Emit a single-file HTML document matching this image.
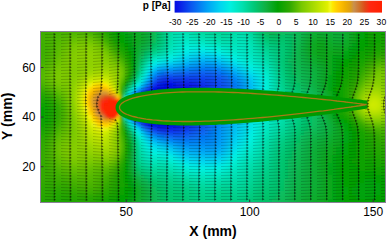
<!DOCTYPE html>
<html><head><meta charset="utf-8"><style>
html,body{margin:0;padding:0;background:#fff;width:387px;height:240px;overflow:hidden}
svg{display:block}
#f rect{height:4px}
text{font-family:"Liberation Sans",sans-serif}
</style></head><body>
<svg width="387" height="240" viewBox="0 0 387 240">
<defs>
<filter id="bl" x="0" y="0" width="1" height="1"><feGaussianBlur stdDeviation="1.6"/></filter>
<filter id="b2" x="-0.5" y="-0.5" width="2" height="2"><feGaussianBlur stdDeviation="0.9"/></filter>
<clipPath id="cp"><rect x="41" y="32" width="344" height="170"/></clipPath>
<linearGradient id="cb" x1="0" x2="1" y1="0" y2="0"><stop offset="0.000" stop-color="#0010e0"/><stop offset="0.016" stop-color="#0a14e6"/><stop offset="0.084" stop-color="#0a5af0"/><stop offset="0.156" stop-color="#00a0f5"/><stop offset="0.219" stop-color="#00d4f0"/><stop offset="0.268" stop-color="#00f0e0"/><stop offset="0.326" stop-color="#00e0b0"/><stop offset="0.383" stop-color="#00c878"/><stop offset="0.441" stop-color="#10b040"/><stop offset="0.498" stop-color="#00a000"/><stop offset="0.556" stop-color="#30a800"/><stop offset="0.613" stop-color="#78c800"/><stop offset="0.661" stop-color="#a0d800"/><stop offset="0.709" stop-color="#c8e800"/><stop offset="0.737" stop-color="#e0f000"/><stop offset="0.750" stop-color="#f4f820"/><stop offset="0.762" stop-color="#ffe800"/><stop offset="0.781" stop-color="#ffd000"/><stop offset="0.798" stop-color="#ffc000"/><stop offset="0.821" stop-color="#f0b000"/><stop offset="0.845" stop-color="#e0a010"/><stop offset="0.865" stop-color="#c89050"/><stop offset="0.893" stop-color="#d07028"/><stop offset="0.918" stop-color="#e04818"/><stop offset="0.942" stop-color="#ff2810"/><stop offset="1.000" stop-color="#ff2000"/></linearGradient>
</defs>
<g clip-path="url(#cp)">
<g id="f" filter="url(#bl)" shape-rendering="crispEdges"><rect x="36" y="27" width="4" fill="#37ab00"/><rect x="40" y="27" width="4" fill="#39ac00"/><rect x="44" y="27" width="4" fill="#3aac00"/><rect x="48" y="27" width="4" fill="#3bad00"/><rect x="52" y="27" width="4" fill="#3cad00"/><rect x="56" y="27" width="4" fill="#3dae00"/><rect x="60" y="27" width="4" fill="#3eae00"/><rect x="64" y="27" width="4" fill="#3faf00"/><rect x="68" y="27" width="12" fill="#40af00"/><rect x="80" y="27" width="4" fill="#3fae00"/><rect x="84" y="27" width="4" fill="#3cad00"/><rect x="88" y="27" width="4" fill="#38ab00"/><rect x="92" y="27" width="4" fill="#31a800"/><rect x="96" y="27" width="4" fill="#2aa700"/><rect x="100" y="27" width="4" fill="#22a600"/><rect x="104" y="27" width="4" fill="#18a400"/><rect x="108" y="27" width="4" fill="#0da200"/><rect x="112" y="27" width="4" fill="#02a000"/><rect x="116" y="27" width="4" fill="#02a20a"/><rect x="120" y="27" width="4" fill="#05a514"/><rect x="124" y="27" width="4" fill="#07a71c"/><rect x="128" y="27" width="4" fill="#08a821"/><rect x="132" y="27" width="4" fill="#09a925"/><rect x="136" y="27" width="4" fill="#0aaa29"/><rect x="140" y="27" width="4" fill="#0bab2e"/><rect x="144" y="27" width="4" fill="#0eae37"/><rect x="148" y="27" width="4" fill="#0fb143"/><rect x="152" y="27" width="4" fill="#0bb852"/><rect x="156" y="27" width="4" fill="#06bf64"/><rect x="160" y="27" width="4" fill="#00c777"/><rect x="164" y="27" width="4" fill="#00cf89"/><rect x="168" y="27" width="4" fill="#00d699"/><rect x="172" y="27" width="4" fill="#00dba4"/><rect x="176" y="27" width="4" fill="#00deaa"/><rect x="180" y="27" width="4" fill="#00deac"/><rect x="184" y="27" width="4" fill="#00dda9"/><rect x="188" y="27" width="4" fill="#00dba4"/><rect x="192" y="27" width="4" fill="#00d99f"/><rect x="196" y="27" width="4" fill="#00d69a"/><rect x="200" y="27" width="4" fill="#00d596"/><rect x="204" y="27" width="4" fill="#00d493"/><rect x="208" y="27" width="4" fill="#00d391"/><rect x="212" y="27" width="4" fill="#00d290"/><rect x="216" y="27" width="4" fill="#00d28f"/><rect x="220" y="27" width="4" fill="#00d391"/><rect x="224" y="27" width="4" fill="#00d494"/><rect x="228" y="27" width="4" fill="#00d699"/><rect x="232" y="27" width="4" fill="#00d89e"/><rect x="236" y="27" width="4" fill="#00daa3"/><rect x="240" y="27" width="4" fill="#00dba4"/><rect x="244" y="27" width="4" fill="#00d99f"/><rect x="248" y="27" width="4" fill="#00d495"/><rect x="252" y="27" width="4" fill="#00ce85"/><rect x="256" y="27" width="4" fill="#01c674"/><rect x="260" y="27" width="4" fill="#06bf64"/><rect x="264" y="27" width="4" fill="#09ba58"/><rect x="268" y="27" width="4" fill="#0bb852"/><rect x="272" y="27" width="4" fill="#0bb751"/><rect x="276" y="27" width="4" fill="#0ab954"/><rect x="280" y="27" width="4" fill="#09bb59"/><rect x="284" y="27" width="8" fill="#08bc5c"/><rect x="292" y="27" width="4" fill="#09bb59"/><rect x="296" y="27" width="4" fill="#0ab954"/><rect x="300" y="27" width="4" fill="#0cb54d"/><rect x="304" y="27" width="4" fill="#0fb245"/><rect x="308" y="27" width="4" fill="#10b03e"/><rect x="312" y="27" width="4" fill="#0eae38"/><rect x="316" y="27" width="4" fill="#0dad35"/><rect x="320" y="27" width="4" fill="#0dad34"/><rect x="324" y="27" width="4" fill="#0dad35"/><rect x="328" y="27" width="4" fill="#0eae36"/><rect x="332" y="27" width="4" fill="#0eae37"/><rect x="336" y="27" width="4" fill="#0eae36"/><rect x="340" y="27" width="4" fill="#0dad33"/><rect x="344" y="27" width="4" fill="#0bab2c"/><rect x="348" y="27" width="4" fill="#09a924"/><rect x="352" y="27" width="4" fill="#06a619"/><rect x="356" y="27" width="4" fill="#04a40f"/><rect x="360" y="27" width="4" fill="#01a105"/><rect x="364" y="27" width="4" fill="#02a000"/><rect x="368" y="27" width="4" fill="#07a100"/><rect x="372" y="27" width="4" fill="#0ba200"/><rect x="376" y="27" width="4" fill="#0ea200"/><rect x="380" y="27" width="4" fill="#11a300"/><rect x="384" y="27" width="4" fill="#13a300"/><rect x="388" y="27" width="4" fill="#14a300"/><rect x="36" y="31" width="4" fill="#3aad00"/><rect x="40" y="31" width="4" fill="#3cae00"/><rect x="44" y="31" width="4" fill="#3eae00"/><rect x="48" y="31" width="4" fill="#40af00"/><rect x="52" y="31" width="4" fill="#43b000"/><rect x="56" y="31" width="4" fill="#45b100"/><rect x="60" y="31" width="4" fill="#47b200"/><rect x="64" y="31" width="4" fill="#4ab300"/><rect x="68" y="31" width="4" fill="#4cb400"/><rect x="72" y="31" width="4" fill="#4db500"/><rect x="76" y="31" width="8" fill="#4fb600"/><rect x="84" y="31" width="4" fill="#4db500"/><rect x="88" y="31" width="4" fill="#49b300"/><rect x="92" y="31" width="4" fill="#43b000"/><rect x="96" y="31" width="4" fill="#39ac00"/><rect x="100" y="31" width="4" fill="#2da700"/><rect x="104" y="31" width="4" fill="#22a600"/><rect x="108" y="31" width="4" fill="#16a400"/><rect x="112" y="31" width="4" fill="#0aa200"/><rect x="116" y="31" width="4" fill="#00a002"/><rect x="120" y="31" width="4" fill="#03a30e"/><rect x="124" y="31" width="4" fill="#06a617"/><rect x="128" y="31" width="4" fill="#07a71d"/><rect x="132" y="31" width="4" fill="#08a821"/><rect x="136" y="31" width="4" fill="#09a925"/><rect x="140" y="31" width="4" fill="#0bab2b"/><rect x="144" y="31" width="4" fill="#0dad34"/><rect x="148" y="31" width="4" fill="#10b141"/><rect x="152" y="31" width="4" fill="#0bb751"/><rect x="156" y="31" width="4" fill="#06c065"/><rect x="160" y="31" width="4" fill="#00c979"/><rect x="164" y="31" width="4" fill="#00d18e"/><rect x="168" y="31" width="4" fill="#00d99f"/><rect x="172" y="31" width="4" fill="#00deac"/><rect x="176" y="31" width="4" fill="#00e1b3"/><rect x="180" y="31" width="4" fill="#00e2b5"/><rect x="184" y="31" width="4" fill="#00e1b3"/><rect x="188" y="31" width="4" fill="#00e0af"/><rect x="192" y="31" width="4" fill="#00dda9"/><rect x="196" y="31" width="4" fill="#00dba4"/><rect x="200" y="31" width="4" fill="#00d9a0"/><rect x="204" y="31" width="4" fill="#00d89d"/><rect x="208" y="31" width="4" fill="#00d79a"/><rect x="212" y="31" width="4" fill="#00d698"/><rect x="216" y="31" width="8" fill="#00d597"/><rect x="224" y="31" width="4" fill="#00d79a"/><rect x="228" y="31" width="4" fill="#00d99f"/><rect x="232" y="31" width="4" fill="#00dca6"/><rect x="236" y="31" width="4" fill="#00deab"/><rect x="240" y="31" width="4" fill="#00dfad"/><rect x="244" y="31" width="4" fill="#00ddaa"/><rect x="248" y="31" width="4" fill="#00d99f"/><rect x="252" y="31" width="4" fill="#00d290"/><rect x="256" y="31" width="4" fill="#00ca7e"/><rect x="260" y="31" width="4" fill="#03c36d"/><rect x="264" y="31" width="4" fill="#07be60"/><rect x="268" y="31" width="4" fill="#09bb59"/><rect x="272" y="31" width="4" fill="#09ba58"/><rect x="276" y="31" width="4" fill="#08bc5b"/><rect x="280" y="31" width="4" fill="#07bd5f"/><rect x="284" y="31" width="4" fill="#07be61"/><rect x="288" y="31" width="4" fill="#07be60"/><rect x="292" y="31" width="4" fill="#08bc5b"/><rect x="296" y="31" width="4" fill="#0ab954"/><rect x="300" y="31" width="4" fill="#0db54b"/><rect x="304" y="31" width="4" fill="#0fb142"/><rect x="308" y="31" width="4" fill="#0eae3a"/><rect x="312" y="31" width="4" fill="#0dad33"/><rect x="316" y="31" width="8" fill="#0cac30"/><rect x="324" y="31" width="4" fill="#0dad32"/><rect x="328" y="31" width="4" fill="#0dad35"/><rect x="332" y="31" width="8" fill="#0eae38"/><rect x="340" y="31" width="4" fill="#0dad35"/><rect x="344" y="31" width="4" fill="#0cac2f"/><rect x="348" y="31" width="4" fill="#0aaa26"/><rect x="352" y="31" width="4" fill="#07a71c"/><rect x="356" y="31" width="4" fill="#04a411"/><rect x="360" y="31" width="4" fill="#02a207"/><rect x="364" y="31" width="4" fill="#01a000"/><rect x="368" y="31" width="4" fill="#07a100"/><rect x="372" y="31" width="4" fill="#0ba200"/><rect x="376" y="31" width="4" fill="#0ea200"/><rect x="380" y="31" width="4" fill="#11a300"/><rect x="384" y="31" width="8" fill="#14a300"/><rect x="36" y="35" width="4" fill="#3cad00"/><rect x="40" y="35" width="4" fill="#3fae00"/><rect x="44" y="35" width="4" fill="#41b000"/><rect x="48" y="35" width="4" fill="#44b100"/><rect x="52" y="35" width="4" fill="#48b300"/><rect x="56" y="35" width="4" fill="#4cb400"/><rect x="60" y="35" width="4" fill="#50b600"/><rect x="64" y="35" width="4" fill="#54b800"/><rect x="68" y="35" width="4" fill="#58ba00"/><rect x="72" y="35" width="4" fill="#5bbb00"/><rect x="76" y="35" width="4" fill="#5ebd00"/><rect x="80" y="35" width="4" fill="#60bd00"/><rect x="84" y="35" width="4" fill="#5fbd00"/><rect x="88" y="35" width="4" fill="#5dbc00"/><rect x="92" y="35" width="4" fill="#56b900"/><rect x="96" y="35" width="4" fill="#4cb400"/><rect x="100" y="35" width="4" fill="#3eae00"/><rect x="104" y="35" width="4" fill="#2ea800"/><rect x="108" y="35" width="4" fill="#21a500"/><rect x="112" y="35" width="4" fill="#13a300"/><rect x="116" y="35" width="4" fill="#07a100"/><rect x="120" y="35" width="4" fill="#01a106"/><rect x="124" y="35" width="4" fill="#04a410"/><rect x="128" y="35" width="4" fill="#06a618"/><rect x="132" y="35" width="4" fill="#08a81e"/><rect x="136" y="35" width="4" fill="#09a923"/><rect x="140" y="35" width="4" fill="#0bab2a"/><rect x="144" y="35" width="4" fill="#0dad34"/><rect x="148" y="35" width="4" fill="#0fb142"/><rect x="152" y="35" width="4" fill="#0bb853"/><rect x="156" y="35" width="4" fill="#05c167"/><rect x="160" y="35" width="4" fill="#00ca7c"/><rect x="164" y="35" width="4" fill="#00d391"/><rect x="168" y="35" width="4" fill="#00dba4"/><rect x="172" y="35" width="4" fill="#00e1b2"/><rect x="176" y="35" width="4" fill="#00e3ba"/><rect x="180" y="35" width="8" fill="#00e4bd"/><rect x="188" y="35" width="4" fill="#00e3ba"/><rect x="192" y="35" width="4" fill="#00e2b6"/><rect x="196" y="35" width="4" fill="#00e1b2"/><rect x="200" y="35" width="4" fill="#00dfae"/><rect x="204" y="35" width="4" fill="#00ddaa"/><rect x="208" y="35" width="4" fill="#00dca7"/><rect x="212" y="35" width="4" fill="#00dba3"/><rect x="216" y="35" width="4" fill="#00daa1"/><rect x="220" y="35" width="4" fill="#00d9a0"/><rect x="224" y="35" width="4" fill="#00daa2"/><rect x="228" y="35" width="4" fill="#00dca7"/><rect x="232" y="35" width="4" fill="#00dfad"/><rect x="236" y="35" width="4" fill="#00e1b3"/><rect x="240" y="35" width="4" fill="#00e2b5"/><rect x="244" y="35" width="4" fill="#00e1b3"/><rect x="248" y="35" width="4" fill="#00ddaa"/><rect x="252" y="35" width="4" fill="#00d79b"/><rect x="256" y="35" width="4" fill="#00cf89"/><rect x="260" y="35" width="4" fill="#00c878"/><rect x="264" y="35" width="4" fill="#04c36c"/><rect x="268" y="35" width="4" fill="#06c064"/><rect x="272" y="35" width="4" fill="#06bf62"/><rect x="276" y="35" width="4" fill="#06bf64"/><rect x="280" y="35" width="8" fill="#05c066"/><rect x="288" y="35" width="4" fill="#06bf63"/><rect x="292" y="35" width="4" fill="#08bc5d"/><rect x="296" y="35" width="4" fill="#0ab853"/><rect x="300" y="35" width="4" fill="#0eb449"/><rect x="304" y="35" width="4" fill="#0faf3e"/><rect x="308" y="35" width="4" fill="#0dad34"/><rect x="312" y="35" width="4" fill="#0bab2d"/><rect x="316" y="35" width="4" fill="#0aaa2a"/><rect x="320" y="35" width="4" fill="#0bab2a"/><rect x="324" y="35" width="4" fill="#0bab2d"/><rect x="328" y="35" width="4" fill="#0cac32"/><rect x="332" y="35" width="4" fill="#0dad35"/><rect x="336" y="35" width="4" fill="#0eae37"/><rect x="340" y="35" width="4" fill="#0dad35"/><rect x="344" y="35" width="4" fill="#0cac2f"/><rect x="348" y="35" width="4" fill="#0aaa27"/><rect x="352" y="35" width="4" fill="#07a71c"/><rect x="356" y="35" width="4" fill="#04a411"/><rect x="360" y="35" width="4" fill="#02a207"/><rect x="364" y="35" width="4" fill="#01a000"/><rect x="368" y="35" width="4" fill="#07a100"/><rect x="372" y="35" width="4" fill="#0ba200"/><rect x="376" y="35" width="4" fill="#0fa200"/><rect x="380" y="35" width="4" fill="#12a300"/><rect x="384" y="35" width="4" fill="#15a300"/><rect x="388" y="35" width="4" fill="#15a400"/><rect x="36" y="39" width="4" fill="#3dae00"/><rect x="40" y="39" width="4" fill="#3faf00"/><rect x="44" y="39" width="4" fill="#42b000"/><rect x="48" y="39" width="4" fill="#46b200"/><rect x="52" y="39" width="4" fill="#4bb400"/><rect x="56" y="39" width="4" fill="#51b700"/><rect x="60" y="39" width="4" fill="#57b900"/><rect x="64" y="39" width="4" fill="#5dbc00"/><rect x="68" y="39" width="4" fill="#63bf00"/><rect x="72" y="39" width="4" fill="#69c100"/><rect x="76" y="39" width="4" fill="#6dc300"/><rect x="80" y="39" width="8" fill="#71c500"/><rect x="88" y="39" width="4" fill="#70c400"/><rect x="92" y="39" width="4" fill="#6ac200"/><rect x="96" y="39" width="4" fill="#60bd00"/><rect x="100" y="39" width="4" fill="#52b700"/><rect x="104" y="39" width="4" fill="#40af00"/><rect x="108" y="39" width="4" fill="#2da700"/><rect x="112" y="39" width="4" fill="#1ea500"/><rect x="116" y="39" width="4" fill="#10a300"/><rect x="120" y="39" width="4" fill="#04a100"/><rect x="124" y="39" width="4" fill="#02a209"/><rect x="128" y="39" width="4" fill="#05a513"/><rect x="132" y="39" width="4" fill="#07a71c"/><rect x="136" y="39" width="4" fill="#09a924"/><rect x="140" y="39" width="4" fill="#0bab2d"/><rect x="144" y="39" width="4" fill="#0eae39"/><rect x="148" y="39" width="4" fill="#0eb347"/><rect x="152" y="39" width="4" fill="#09ba58"/><rect x="156" y="39" width="4" fill="#04c26b"/><rect x="160" y="39" width="4" fill="#00cc80"/><rect x="164" y="39" width="4" fill="#00d595"/><rect x="168" y="39" width="4" fill="#00dda9"/><rect x="172" y="39" width="4" fill="#00e2b7"/><rect x="176" y="39" width="4" fill="#00e5c0"/><rect x="180" y="39" width="4" fill="#00e7c5"/><rect x="184" y="39" width="4" fill="#00e7c6"/><rect x="188" y="39" width="4" fill="#00e7c5"/><rect x="192" y="39" width="4" fill="#00e6c3"/><rect x="196" y="39" width="4" fill="#00e5c0"/><rect x="200" y="39" width="4" fill="#00e4bd"/><rect x="204" y="39" width="4" fill="#00e3ba"/><rect x="208" y="39" width="4" fill="#00e2b7"/><rect x="212" y="39" width="4" fill="#00e1b3"/><rect x="216" y="39" width="4" fill="#00e0af"/><rect x="220" y="39" width="8" fill="#00dfad"/><rect x="228" y="39" width="4" fill="#00e0b0"/><rect x="232" y="39" width="4" fill="#00e1b4"/><rect x="236" y="39" width="4" fill="#00e3b8"/><rect x="240" y="39" width="4" fill="#00e4bb"/><rect x="244" y="39" width="4" fill="#00e3b9"/><rect x="248" y="39" width="4" fill="#00e1b2"/><rect x="252" y="39" width="4" fill="#00dba5"/><rect x="256" y="39" width="4" fill="#00d495"/><rect x="260" y="39" width="4" fill="#00ce85"/><rect x="264" y="39" width="4" fill="#00c879"/><rect x="268" y="39" width="4" fill="#02c571"/><rect x="272" y="39" width="4" fill="#03c46e"/><rect x="276" y="39" width="8" fill="#03c36d"/><rect x="284" y="39" width="4" fill="#04c26b"/><rect x="288" y="39" width="4" fill="#05c065"/><rect x="292" y="39" width="4" fill="#08bc5d"/><rect x="296" y="39" width="4" fill="#0bb852"/><rect x="300" y="39" width="4" fill="#0eb246"/><rect x="304" y="39" width="4" fill="#0eae39"/><rect x="308" y="39" width="4" fill="#0cac2e"/><rect x="312" y="39" width="4" fill="#0aaa27"/><rect x="316" y="39" width="4" fill="#09a923"/><rect x="320" y="39" width="4" fill="#09a924"/><rect x="324" y="39" width="4" fill="#0aaa27"/><rect x="328" y="39" width="4" fill="#0bab2c"/><rect x="332" y="39" width="4" fill="#0cac30"/><rect x="336" y="39" width="4" fill="#0dad32"/><rect x="340" y="39" width="4" fill="#0cac31"/><rect x="344" y="39" width="4" fill="#0bab2c"/><rect x="348" y="39" width="4" fill="#09a924"/><rect x="352" y="39" width="4" fill="#07a71b"/><rect x="356" y="39" width="4" fill="#04a410"/><rect x="360" y="39" width="4" fill="#02a206"/><rect x="364" y="39" width="4" fill="#02a000"/><rect x="368" y="39" width="4" fill="#07a100"/><rect x="372" y="39" width="4" fill="#0ca200"/><rect x="376" y="39" width="4" fill="#10a300"/><rect x="380" y="39" width="4" fill="#13a300"/><rect x="384" y="39" width="8" fill="#17a400"/><rect x="36" y="43" width="4" fill="#3cad00"/><rect x="40" y="43" width="4" fill="#3eae00"/><rect x="44" y="43" width="4" fill="#42b000"/><rect x="48" y="43" width="4" fill="#47b200"/><rect x="52" y="43" width="4" fill="#4db500"/><rect x="56" y="43" width="4" fill="#55b800"/><rect x="60" y="43" width="4" fill="#5dbc00"/><rect x="64" y="43" width="4" fill="#65c000"/><rect x="68" y="43" width="4" fill="#6ec300"/><rect x="72" y="43" width="4" fill="#75c700"/><rect x="76" y="43" width="4" fill="#7ac900"/><rect x="80" y="43" width="4" fill="#7dca00"/><rect x="84" y="43" width="4" fill="#7ecb00"/><rect x="88" y="43" width="4" fill="#7eca00"/><rect x="92" y="43" width="4" fill="#7bc900"/><rect x="96" y="43" width="4" fill="#73c600"/><rect x="100" y="43" width="4" fill="#66c000"/><rect x="104" y="43" width="4" fill="#54b800"/><rect x="108" y="43" width="4" fill="#3faf00"/><rect x="112" y="43" width="4" fill="#2ba700"/><rect x="116" y="43" width="4" fill="#1ba500"/><rect x="120" y="43" width="4" fill="#0da200"/><rect x="124" y="43" width="4" fill="#01a000"/><rect x="128" y="43" width="4" fill="#03a30e"/><rect x="132" y="43" width="4" fill="#07a71b"/><rect x="136" y="43" width="4" fill="#0aaa27"/><rect x="140" y="43" width="4" fill="#0dad34"/><rect x="144" y="43" width="4" fill="#0fb142"/><rect x="148" y="43" width="4" fill="#0bb751"/><rect x="152" y="43" width="4" fill="#06be62"/><rect x="156" y="43" width="4" fill="#01c674"/><rect x="160" y="43" width="4" fill="#00cf88"/><rect x="164" y="43" width="4" fill="#00d79c"/><rect x="168" y="43" width="4" fill="#00dfae"/><rect x="172" y="43" width="4" fill="#00e4bc"/><rect x="176" y="43" width="4" fill="#00e8c7"/><rect x="180" y="43" width="4" fill="#00eace"/><rect x="184" y="43" width="4" fill="#00ebd2"/><rect x="188" y="43" width="8" fill="#00ecd3"/><rect x="196" y="43" width="4" fill="#00ebd2"/><rect x="200" y="43" width="4" fill="#00ebd0"/><rect x="204" y="43" width="4" fill="#00eacd"/><rect x="208" y="43" width="4" fill="#00e8c9"/><rect x="212" y="43" width="4" fill="#00e7c5"/><rect x="216" y="43" width="4" fill="#00e5c0"/><rect x="220" y="43" width="4" fill="#00e4bb"/><rect x="224" y="43" width="8" fill="#00e3b9"/><rect x="232" y="43" width="4" fill="#00e4bb"/><rect x="236" y="43" width="4" fill="#00e5be"/><rect x="240" y="43" width="4" fill="#00e5c0"/><rect x="244" y="43" width="4" fill="#00e5be"/><rect x="248" y="43" width="4" fill="#00e3b8"/><rect x="252" y="43" width="4" fill="#00dfae"/><rect x="256" y="43" width="4" fill="#00d9a0"/><rect x="260" y="43" width="4" fill="#00d392"/><rect x="264" y="43" width="4" fill="#00ce86"/><rect x="268" y="43" width="4" fill="#00ca7e"/><rect x="272" y="43" width="4" fill="#00c879"/><rect x="276" y="43" width="4" fill="#01c776"/><rect x="280" y="43" width="4" fill="#01c673"/><rect x="284" y="43" width="4" fill="#03c46e"/><rect x="288" y="43" width="4" fill="#05c066"/><rect x="292" y="43" width="4" fill="#08bc5c"/><rect x="296" y="43" width="4" fill="#0cb750"/><rect x="300" y="43" width="4" fill="#0fb143"/><rect x="304" y="43" width="4" fill="#0dad35"/><rect x="308" y="43" width="4" fill="#0aaa2a"/><rect x="312" y="43" width="4" fill="#08a822"/><rect x="316" y="43" width="8" fill="#08a81e"/><rect x="324" y="43" width="4" fill="#08a821"/><rect x="328" y="43" width="4" fill="#09a926"/><rect x="332" y="43" width="4" fill="#0aaa2a"/><rect x="336" y="43" width="4" fill="#0bab2c"/><rect x="340" y="43" width="4" fill="#0bab2b"/><rect x="344" y="43" width="4" fill="#0aaa27"/><rect x="348" y="43" width="4" fill="#08a820"/><rect x="352" y="43" width="4" fill="#06a617"/><rect x="356" y="43" width="4" fill="#03a30d"/><rect x="360" y="43" width="4" fill="#01a103"/><rect x="364" y="43" width="4" fill="#04a100"/><rect x="368" y="43" width="4" fill="#0aa200"/><rect x="372" y="43" width="4" fill="#0fa200"/><rect x="376" y="43" width="4" fill="#13a300"/><rect x="380" y="43" width="4" fill="#17a400"/><rect x="384" y="43" width="4" fill="#1aa400"/><rect x="388" y="43" width="4" fill="#1ba400"/><rect x="36" y="47" width="4" fill="#3aac00"/><rect x="40" y="47" width="4" fill="#3dae00"/><rect x="44" y="47" width="4" fill="#41b000"/><rect x="48" y="47" width="4" fill="#47b200"/><rect x="52" y="47" width="4" fill="#4fb600"/><rect x="56" y="47" width="4" fill="#58ba00"/><rect x="60" y="47" width="4" fill="#62be00"/><rect x="64" y="47" width="4" fill="#6cc300"/><rect x="68" y="47" width="4" fill="#76c700"/><rect x="72" y="47" width="4" fill="#7cca00"/><rect x="76" y="47" width="4" fill="#81cc00"/><rect x="80" y="47" width="4" fill="#85cd00"/><rect x="84" y="47" width="8" fill="#87ce00"/><rect x="92" y="47" width="4" fill="#85cd00"/><rect x="96" y="47" width="4" fill="#80cb00"/><rect x="100" y="47" width="4" fill="#77c800"/><rect x="104" y="47" width="4" fill="#67c000"/><rect x="108" y="47" width="4" fill="#53b700"/><rect x="112" y="47" width="4" fill="#3cad00"/><rect x="116" y="47" width="4" fill="#28a700"/><rect x="120" y="47" width="4" fill="#18a400"/><rect x="124" y="47" width="4" fill="#09a100"/><rect x="128" y="47" width="4" fill="#02a207"/><rect x="132" y="47" width="4" fill="#06a61a"/><rect x="136" y="47" width="4" fill="#0bab2c"/><rect x="140" y="47" width="4" fill="#10b03f"/><rect x="144" y="47" width="4" fill="#0bb750"/><rect x="148" y="47" width="4" fill="#07be61"/><rect x="152" y="47" width="4" fill="#02c672"/><rect x="156" y="47" width="4" fill="#00cd84"/><rect x="160" y="47" width="4" fill="#00d596"/><rect x="164" y="47" width="4" fill="#00dca7"/><rect x="168" y="47" width="4" fill="#00e2b7"/><rect x="172" y="47" width="4" fill="#00e7c4"/><rect x="176" y="47" width="4" fill="#00ebd0"/><rect x="180" y="47" width="4" fill="#00edd8"/><rect x="184" y="47" width="4" fill="#00f0df"/><rect x="188" y="47" width="4" fill="#00eee1"/><rect x="192" y="47" width="4" fill="#00ede2"/><rect x="196" y="47" width="4" fill="#00ece2"/><rect x="200" y="47" width="4" fill="#00ede2"/><rect x="204" y="47" width="4" fill="#00eee1"/><rect x="208" y="47" width="4" fill="#00f0df"/><rect x="212" y="47" width="4" fill="#00eeda"/><rect x="216" y="47" width="4" fill="#00ecd3"/><rect x="220" y="47" width="4" fill="#00eacd"/><rect x="224" y="47" width="4" fill="#00e8c8"/><rect x="228" y="47" width="4" fill="#00e7c5"/><rect x="232" y="47" width="12" fill="#00e7c4"/><rect x="244" y="47" width="4" fill="#00e6c2"/><rect x="248" y="47" width="4" fill="#00e4bc"/><rect x="252" y="47" width="4" fill="#00e1b4"/><rect x="256" y="47" width="4" fill="#00dda9"/><rect x="260" y="47" width="4" fill="#00d89c"/><rect x="264" y="47" width="4" fill="#00d391"/><rect x="268" y="47" width="4" fill="#00cf89"/><rect x="272" y="47" width="4" fill="#00cc82"/><rect x="276" y="47" width="4" fill="#00ca7c"/><rect x="280" y="47" width="4" fill="#00c776"/><rect x="284" y="47" width="4" fill="#03c46f"/><rect x="288" y="47" width="4" fill="#05c066"/><rect x="292" y="47" width="4" fill="#08bb5a"/><rect x="296" y="47" width="4" fill="#0cb64e"/><rect x="300" y="47" width="4" fill="#10b041"/><rect x="304" y="47" width="4" fill="#0dad33"/><rect x="308" y="47" width="4" fill="#0aaa28"/><rect x="312" y="47" width="4" fill="#08a820"/><rect x="316" y="47" width="4" fill="#07a71c"/><rect x="320" y="47" width="4" fill="#07a71b"/><rect x="324" y="47" width="4" fill="#07a71d"/><rect x="328" y="47" width="4" fill="#08a820"/><rect x="332" y="47" width="4" fill="#09a923"/><rect x="336" y="47" width="4" fill="#09a924"/><rect x="340" y="47" width="4" fill="#09a923"/><rect x="344" y="47" width="4" fill="#08a81f"/><rect x="348" y="47" width="4" fill="#06a618"/><rect x="352" y="47" width="4" fill="#04a410"/><rect x="356" y="47" width="4" fill="#02a207"/><rect x="360" y="47" width="4" fill="#01a000"/><rect x="364" y="47" width="4" fill="#08a100"/><rect x="368" y="47" width="4" fill="#0ea200"/><rect x="372" y="47" width="4" fill="#13a300"/><rect x="376" y="47" width="4" fill="#18a400"/><rect x="380" y="47" width="4" fill="#1ca500"/><rect x="384" y="47" width="4" fill="#20a500"/><rect x="388" y="47" width="4" fill="#21a500"/><rect x="36" y="51" width="4" fill="#39ac00"/><rect x="40" y="51" width="4" fill="#3cad00"/><rect x="44" y="51" width="4" fill="#41af00"/><rect x="48" y="51" width="4" fill="#48b300"/><rect x="52" y="51" width="4" fill="#51b700"/><rect x="56" y="51" width="4" fill="#5cbc00"/><rect x="60" y="51" width="4" fill="#67c000"/><rect x="64" y="51" width="4" fill="#72c500"/><rect x="68" y="51" width="4" fill="#7bc900"/><rect x="72" y="51" width="4" fill="#81cb00"/><rect x="76" y="51" width="4" fill="#86ce00"/><rect x="80" y="51" width="4" fill="#8acf00"/><rect x="84" y="51" width="4" fill="#8cd000"/><rect x="88" y="51" width="4" fill="#8dd000"/><rect x="92" y="51" width="4" fill="#8bd000"/><rect x="96" y="51" width="4" fill="#87ce00"/><rect x="100" y="51" width="4" fill="#81cb00"/><rect x="104" y="51" width="4" fill="#77c700"/><rect x="108" y="51" width="4" fill="#65c000"/><rect x="112" y="51" width="4" fill="#50b600"/><rect x="116" y="51" width="4" fill="#38ac00"/><rect x="120" y="51" width="4" fill="#24a600"/><rect x="124" y="51" width="4" fill="#13a300"/><rect x="128" y="51" width="4" fill="#00a000"/><rect x="132" y="51" width="4" fill="#06a619"/><rect x="136" y="51" width="4" fill="#0dad33"/><rect x="140" y="51" width="4" fill="#0db54c"/><rect x="144" y="51" width="4" fill="#06bf63"/><rect x="148" y="51" width="4" fill="#00c878"/><rect x="152" y="51" width="4" fill="#00d08b"/><rect x="156" y="51" width="4" fill="#00d89c"/><rect x="160" y="51" width="4" fill="#00deac"/><rect x="164" y="51" width="4" fill="#00e3b9"/><rect x="168" y="51" width="4" fill="#00e7c6"/><rect x="172" y="51" width="4" fill="#00ebd2"/><rect x="176" y="51" width="4" fill="#00efdd"/><rect x="180" y="51" width="4" fill="#00ebe3"/><rect x="184" y="51" width="4" fill="#00e6e6"/><rect x="188" y="51" width="4" fill="#00e2e8"/><rect x="192" y="51" width="4" fill="#00dfea"/><rect x="196" y="51" width="4" fill="#00ddeb"/><rect x="200" y="51" width="4" fill="#00dceb"/><rect x="204" y="51" width="4" fill="#00ddeb"/><rect x="208" y="51" width="4" fill="#00e0e9"/><rect x="212" y="51" width="4" fill="#00e4e7"/><rect x="216" y="51" width="4" fill="#00e9e4"/><rect x="220" y="51" width="4" fill="#00eee1"/><rect x="224" y="51" width="4" fill="#00eedb"/><rect x="228" y="51" width="4" fill="#00ecd4"/><rect x="232" y="51" width="4" fill="#00ebd0"/><rect x="236" y="51" width="4" fill="#00e9cc"/><rect x="240" y="51" width="4" fill="#00e8c9"/><rect x="244" y="51" width="4" fill="#00e7c6"/><rect x="248" y="51" width="4" fill="#00e5c0"/><rect x="252" y="51" width="4" fill="#00e3b9"/><rect x="256" y="51" width="4" fill="#00e0b0"/><rect x="260" y="51" width="4" fill="#00dba5"/><rect x="264" y="51" width="4" fill="#00d79b"/><rect x="268" y="51" width="4" fill="#00d391"/><rect x="272" y="51" width="4" fill="#00cf88"/><rect x="276" y="51" width="4" fill="#00cb80"/><rect x="280" y="51" width="4" fill="#00c878"/><rect x="284" y="51" width="4" fill="#03c46e"/><rect x="288" y="51" width="4" fill="#06bf64"/><rect x="292" y="51" width="4" fill="#09ba58"/><rect x="296" y="51" width="4" fill="#0cb54c"/><rect x="300" y="51" width="4" fill="#10b040"/><rect x="304" y="51" width="4" fill="#0dad34"/><rect x="308" y="51" width="4" fill="#0aaa2a"/><rect x="312" y="51" width="4" fill="#09a922"/><rect x="316" y="51" width="4" fill="#07a71d"/><rect x="320" y="51" width="8" fill="#07a71b"/><rect x="328" y="51" width="4" fill="#07a71c"/><rect x="332" y="51" width="4" fill="#07a71d"/><rect x="336" y="51" width="4" fill="#07a71c"/><rect x="340" y="51" width="4" fill="#07a71a"/><rect x="344" y="51" width="4" fill="#05a516"/><rect x="348" y="51" width="4" fill="#04a410"/><rect x="352" y="51" width="4" fill="#02a208"/><rect x="356" y="51" width="4" fill="#00a000"/><rect x="360" y="51" width="4" fill="#07a100"/><rect x="364" y="51" width="4" fill="#0ea200"/><rect x="368" y="51" width="4" fill="#14a300"/><rect x="372" y="51" width="4" fill="#1ba400"/><rect x="376" y="51" width="4" fill="#20a500"/><rect x="380" y="51" width="4" fill="#25a600"/><rect x="384" y="51" width="4" fill="#28a700"/><rect x="388" y="51" width="4" fill="#29a700"/><rect x="36" y="55" width="4" fill="#3aac00"/><rect x="40" y="55" width="4" fill="#3dae00"/><rect x="44" y="55" width="4" fill="#43b000"/><rect x="48" y="55" width="4" fill="#4bb400"/><rect x="52" y="55" width="4" fill="#55b900"/><rect x="56" y="55" width="4" fill="#60bd00"/><rect x="60" y="55" width="4" fill="#6bc200"/><rect x="64" y="55" width="4" fill="#76c700"/><rect x="68" y="55" width="4" fill="#7dca00"/><rect x="72" y="55" width="4" fill="#83cc00"/><rect x="76" y="55" width="4" fill="#87ce00"/><rect x="80" y="55" width="4" fill="#8bd000"/><rect x="84" y="55" width="4" fill="#8ed100"/><rect x="88" y="55" width="4" fill="#8fd100"/><rect x="92" y="55" width="4" fill="#8ed100"/><rect x="96" y="55" width="4" fill="#8cd000"/><rect x="100" y="55" width="4" fill="#87ce00"/><rect x="104" y="55" width="4" fill="#80cb00"/><rect x="108" y="55" width="4" fill="#76c700"/><rect x="112" y="55" width="4" fill="#63bf00"/><rect x="116" y="55" width="4" fill="#4db500"/><rect x="120" y="55" width="4" fill="#33a900"/><rect x="124" y="55" width="4" fill="#1ea500"/><rect x="128" y="55" width="4" fill="#08a100"/><rect x="132" y="55" width="4" fill="#06a617"/><rect x="136" y="55" width="4" fill="#0faf3b"/><rect x="140" y="55" width="4" fill="#08bc5b"/><rect x="144" y="55" width="4" fill="#00c97a"/><rect x="148" y="55" width="4" fill="#00d495"/><rect x="152" y="55" width="4" fill="#00deac"/><rect x="156" y="55" width="4" fill="#00e4bc"/><rect x="160" y="55" width="4" fill="#00e8c8"/><rect x="164" y="55" width="4" fill="#00ebd2"/><rect x="168" y="55" width="4" fill="#00eedb"/><rect x="172" y="55" width="4" fill="#00ece2"/><rect x="176" y="55" width="4" fill="#00e5e6"/><rect x="180" y="55" width="4" fill="#00deea"/><rect x="184" y="55" width="4" fill="#00d8ee"/><rect x="188" y="55" width="4" fill="#00d3f0"/><rect x="192" y="55" width="4" fill="#00cdf1"/><rect x="196" y="55" width="4" fill="#00c9f1"/><rect x="200" y="55" width="8" fill="#00c8f1"/><rect x="208" y="55" width="4" fill="#00cbf1"/><rect x="212" y="55" width="4" fill="#00d0f0"/><rect x="216" y="55" width="4" fill="#00d7ee"/><rect x="220" y="55" width="4" fill="#00ddeb"/><rect x="224" y="55" width="4" fill="#00e4e7"/><rect x="228" y="55" width="4" fill="#00ebe3"/><rect x="232" y="55" width="4" fill="#00f0df"/><rect x="236" y="55" width="4" fill="#00edd8"/><rect x="240" y="55" width="4" fill="#00ebd2"/><rect x="244" y="55" width="4" fill="#00e9cc"/><rect x="248" y="55" width="4" fill="#00e7c6"/><rect x="252" y="55" width="4" fill="#00e5be"/><rect x="256" y="55" width="4" fill="#00e2b7"/><rect x="260" y="55" width="4" fill="#00dfae"/><rect x="264" y="55" width="4" fill="#00daa3"/><rect x="268" y="55" width="4" fill="#00d698"/><rect x="272" y="55" width="4" fill="#00d18d"/><rect x="276" y="55" width="4" fill="#00cd83"/><rect x="280" y="55" width="4" fill="#00c878"/><rect x="284" y="55" width="4" fill="#03c36d"/><rect x="288" y="55" width="4" fill="#06bf62"/><rect x="292" y="55" width="4" fill="#09ba57"/><rect x="296" y="55" width="4" fill="#0db54c"/><rect x="300" y="55" width="4" fill="#0fb142"/><rect x="304" y="55" width="4" fill="#0eae38"/><rect x="308" y="55" width="4" fill="#0cac2e"/><rect x="312" y="55" width="4" fill="#0aaa27"/><rect x="316" y="55" width="4" fill="#08a822"/><rect x="320" y="55" width="4" fill="#08a81e"/><rect x="324" y="55" width="4" fill="#07a71c"/><rect x="328" y="55" width="4" fill="#07a71a"/><rect x="332" y="55" width="4" fill="#06a618"/><rect x="336" y="55" width="4" fill="#05a516"/><rect x="340" y="55" width="4" fill="#04a412"/><rect x="344" y="55" width="4" fill="#03a30d"/><rect x="348" y="55" width="4" fill="#02a207"/><rect x="352" y="55" width="4" fill="#01a000"/><rect x="356" y="55" width="4" fill="#07a100"/><rect x="360" y="55" width="4" fill="#0ea200"/><rect x="364" y="55" width="4" fill="#16a400"/><rect x="368" y="55" width="4" fill="#1ea500"/><rect x="372" y="55" width="4" fill="#25a600"/><rect x="376" y="55" width="4" fill="#2ba700"/><rect x="380" y="55" width="4" fill="#30a800"/><rect x="384" y="55" width="4" fill="#35aa00"/><rect x="388" y="55" width="4" fill="#36ab00"/><rect x="36" y="59" width="4" fill="#3cad00"/><rect x="40" y="59" width="4" fill="#41af00"/><rect x="44" y="59" width="4" fill="#47b200"/><rect x="48" y="59" width="4" fill="#50b600"/><rect x="52" y="59" width="4" fill="#5bbb00"/><rect x="56" y="59" width="4" fill="#66c000"/><rect x="60" y="59" width="4" fill="#70c500"/><rect x="64" y="59" width="4" fill="#79c800"/><rect x="68" y="59" width="4" fill="#7eca00"/><rect x="72" y="59" width="4" fill="#83cc00"/><rect x="76" y="59" width="4" fill="#87ce00"/><rect x="80" y="59" width="4" fill="#8acf00"/><rect x="84" y="59" width="4" fill="#8dd000"/><rect x="88" y="59" width="4" fill="#8fd100"/><rect x="92" y="59" width="4" fill="#90d100"/><rect x="96" y="59" width="4" fill="#8fd100"/><rect x="100" y="59" width="4" fill="#8cd000"/><rect x="104" y="59" width="4" fill="#88ce00"/><rect x="108" y="59" width="4" fill="#81cc00"/><rect x="112" y="59" width="4" fill="#76c700"/><rect x="116" y="59" width="4" fill="#62be00"/><rect x="120" y="59" width="4" fill="#48b300"/><rect x="124" y="59" width="4" fill="#2aa700"/><rect x="128" y="59" width="4" fill="#10a300"/><rect x="132" y="59" width="4" fill="#05a514"/><rect x="136" y="59" width="4" fill="#0fb142"/><rect x="140" y="59" width="4" fill="#03c36c"/><rect x="144" y="59" width="4" fill="#00d494"/><rect x="148" y="59" width="4" fill="#00e2b6"/><rect x="152" y="59" width="4" fill="#00eace"/><rect x="156" y="59" width="4" fill="#00f0df"/><rect x="160" y="59" width="4" fill="#00e9e4"/><rect x="164" y="59" width="4" fill="#00e4e7"/><rect x="168" y="59" width="4" fill="#00dfea"/><rect x="172" y="59" width="4" fill="#00daed"/><rect x="176" y="59" width="4" fill="#00d4f0"/><rect x="180" y="59" width="4" fill="#00cbf1"/><rect x="184" y="59" width="4" fill="#00c2f2"/><rect x="188" y="59" width="4" fill="#00bbf2"/><rect x="192" y="59" width="4" fill="#00b5f3"/><rect x="196" y="59" width="4" fill="#00b1f3"/><rect x="200" y="59" width="4" fill="#00aff4"/><rect x="204" y="59" width="4" fill="#00aef4"/><rect x="208" y="59" width="4" fill="#00b0f3"/><rect x="212" y="59" width="4" fill="#00b5f3"/><rect x="216" y="59" width="4" fill="#00bdf2"/><rect x="220" y="59" width="4" fill="#00c7f1"/><rect x="224" y="59" width="4" fill="#00d2f0"/><rect x="228" y="59" width="4" fill="#00dbec"/><rect x="232" y="59" width="4" fill="#00e3e7"/><rect x="236" y="59" width="4" fill="#00eae3"/><rect x="240" y="59" width="4" fill="#00f0df"/><rect x="244" y="59" width="4" fill="#00edd7"/><rect x="248" y="59" width="4" fill="#00eacf"/><rect x="252" y="59" width="4" fill="#00e8c7"/><rect x="256" y="59" width="4" fill="#00e5bf"/><rect x="260" y="59" width="4" fill="#00e2b6"/><rect x="264" y="59" width="4" fill="#00deac"/><rect x="268" y="59" width="4" fill="#00d9a0"/><rect x="272" y="59" width="4" fill="#00d393"/><rect x="276" y="59" width="4" fill="#00ce85"/><rect x="280" y="59" width="4" fill="#00c878"/><rect x="284" y="59" width="4" fill="#03c36c"/><rect x="288" y="59" width="4" fill="#07be61"/><rect x="292" y="59" width="4" fill="#0aba57"/><rect x="296" y="59" width="4" fill="#0cb64d"/><rect x="300" y="59" width="4" fill="#0fb245"/><rect x="304" y="59" width="4" fill="#0faf3d"/><rect x="308" y="59" width="4" fill="#0dad35"/><rect x="312" y="59" width="4" fill="#0cac2e"/><rect x="316" y="59" width="4" fill="#0aaa29"/><rect x="320" y="59" width="4" fill="#09a924"/><rect x="324" y="59" width="4" fill="#08a81f"/><rect x="328" y="59" width="4" fill="#07a71a"/><rect x="332" y="59" width="4" fill="#05a516"/><rect x="336" y="59" width="4" fill="#04a410"/><rect x="340" y="59" width="4" fill="#03a30b"/><rect x="344" y="59" width="4" fill="#01a104"/><rect x="348" y="59" width="4" fill="#02a000"/><rect x="352" y="59" width="4" fill="#08a100"/><rect x="356" y="59" width="4" fill="#0fa200"/><rect x="360" y="59" width="4" fill="#17a400"/><rect x="364" y="59" width="4" fill="#1fa500"/><rect x="368" y="59" width="4" fill="#29a700"/><rect x="372" y="59" width="4" fill="#32a900"/><rect x="376" y="59" width="4" fill="#3dae00"/><rect x="380" y="59" width="4" fill="#44b100"/><rect x="384" y="59" width="4" fill="#48b300"/><rect x="388" y="59" width="4" fill="#49b300"/><rect x="36" y="63" width="4" fill="#41b000"/><rect x="40" y="63" width="4" fill="#46b200"/><rect x="44" y="63" width="4" fill="#4eb500"/><rect x="48" y="63" width="4" fill="#58ba00"/><rect x="52" y="63" width="4" fill="#63be00"/><rect x="56" y="63" width="4" fill="#6dc300"/><rect x="60" y="63" width="4" fill="#75c700"/><rect x="64" y="63" width="4" fill="#7bc900"/><rect x="68" y="63" width="4" fill="#7fcb00"/><rect x="72" y="63" width="4" fill="#82cc00"/><rect x="76" y="63" width="4" fill="#85cd00"/><rect x="80" y="63" width="4" fill="#89cf00"/><rect x="84" y="63" width="4" fill="#8cd000"/><rect x="88" y="63" width="4" fill="#8fd100"/><rect x="92" y="63" width="4" fill="#91d200"/><rect x="96" y="63" width="4" fill="#93d300"/><rect x="100" y="63" width="4" fill="#92d200"/><rect x="104" y="63" width="4" fill="#90d200"/><rect x="108" y="63" width="4" fill="#8bd000"/><rect x="112" y="63" width="4" fill="#83cd00"/><rect x="116" y="63" width="4" fill="#77c700"/><rect x="120" y="63" width="4" fill="#5cbc00"/><rect x="124" y="63" width="4" fill="#39ac00"/><rect x="128" y="63" width="4" fill="#17a400"/><rect x="132" y="63" width="4" fill="#05a513"/><rect x="136" y="63" width="4" fill="#0db44a"/><rect x="140" y="63" width="4" fill="#00ca7e"/><rect x="144" y="63" width="4" fill="#00e0b0"/><rect x="148" y="63" width="4" fill="#00ecd5"/><rect x="152" y="63" width="4" fill="#00e4e7"/><rect x="156" y="63" width="4" fill="#00d6ef"/><rect x="160" y="63" width="4" fill="#00ccf1"/><rect x="164" y="63" width="4" fill="#00c5f1"/><rect x="168" y="63" width="4" fill="#00c1f2"/><rect x="172" y="63" width="4" fill="#00bcf2"/><rect x="176" y="63" width="4" fill="#00b5f3"/><rect x="180" y="63" width="4" fill="#00aef4"/><rect x="184" y="63" width="4" fill="#00a7f4"/><rect x="188" y="63" width="4" fill="#00a1f5"/><rect x="192" y="63" width="4" fill="#019bf5"/><rect x="196" y="63" width="4" fill="#0197f4"/><rect x="200" y="63" width="4" fill="#0295f4"/><rect x="204" y="63" width="4" fill="#0294f4"/><rect x="208" y="63" width="4" fill="#0295f4"/><rect x="212" y="63" width="4" fill="#019af5"/><rect x="216" y="63" width="4" fill="#00a2f5"/><rect x="220" y="63" width="4" fill="#00acf4"/><rect x="224" y="63" width="4" fill="#00b8f3"/><rect x="228" y="63" width="4" fill="#00c5f1"/><rect x="232" y="63" width="4" fill="#00d2f0"/><rect x="236" y="63" width="4" fill="#00dceb"/><rect x="240" y="63" width="4" fill="#00e4e7"/><rect x="244" y="63" width="4" fill="#00ece2"/><rect x="248" y="63" width="4" fill="#00efdc"/><rect x="252" y="63" width="4" fill="#00ecd3"/><rect x="256" y="63" width="4" fill="#00e9ca"/><rect x="260" y="63" width="4" fill="#00e6c1"/><rect x="264" y="63" width="4" fill="#00e2b6"/><rect x="268" y="63" width="4" fill="#00dda8"/><rect x="272" y="63" width="4" fill="#00d699"/><rect x="276" y="63" width="4" fill="#00cf89"/><rect x="280" y="63" width="4" fill="#00c97a"/><rect x="284" y="63" width="4" fill="#03c36d"/><rect x="288" y="63" width="4" fill="#06be61"/><rect x="292" y="63" width="4" fill="#09ba58"/><rect x="296" y="63" width="4" fill="#0cb750"/><rect x="300" y="63" width="4" fill="#0eb449"/><rect x="304" y="63" width="4" fill="#0fb142"/><rect x="308" y="63" width="4" fill="#0faf3c"/><rect x="312" y="63" width="4" fill="#0dad35"/><rect x="316" y="63" width="4" fill="#0cac2f"/><rect x="320" y="63" width="4" fill="#0aaa29"/><rect x="324" y="63" width="4" fill="#09a922"/><rect x="328" y="63" width="4" fill="#07a71b"/><rect x="332" y="63" width="4" fill="#05a514"/><rect x="336" y="63" width="4" fill="#03a30c"/><rect x="340" y="63" width="4" fill="#01a105"/><rect x="344" y="63" width="4" fill="#02a000"/><rect x="348" y="63" width="4" fill="#08a100"/><rect x="352" y="63" width="4" fill="#0ea200"/><rect x="356" y="63" width="4" fill="#16a400"/><rect x="360" y="63" width="4" fill="#1fa500"/><rect x="364" y="63" width="4" fill="#2aa700"/><rect x="368" y="63" width="4" fill="#37ab00"/><rect x="372" y="63" width="4" fill="#45b200"/><rect x="376" y="63" width="4" fill="#51b700"/><rect x="380" y="63" width="4" fill="#58ba00"/><rect x="384" y="63" width="8" fill="#5bbb00"/><rect x="36" y="67" width="4" fill="#46b200"/><rect x="40" y="67" width="4" fill="#4db500"/><rect x="44" y="67" width="4" fill="#56b900"/><rect x="48" y="67" width="4" fill="#60bd00"/><rect x="52" y="67" width="4" fill="#6ac200"/><rect x="56" y="67" width="4" fill="#73c600"/><rect x="60" y="67" width="4" fill="#79c900"/><rect x="64" y="67" width="4" fill="#7cca00"/><rect x="68" y="67" width="4" fill="#7fcb00"/><rect x="72" y="67" width="4" fill="#81cc00"/><rect x="76" y="67" width="4" fill="#84cd00"/><rect x="80" y="67" width="4" fill="#89cf00"/><rect x="84" y="67" width="4" fill="#8ed100"/><rect x="88" y="67" width="4" fill="#93d300"/><rect x="92" y="67" width="4" fill="#97d500"/><rect x="96" y="67" width="4" fill="#9ad600"/><rect x="100" y="67" width="4" fill="#9cd600"/><rect x="104" y="67" width="4" fill="#9bd600"/><rect x="108" y="67" width="4" fill="#97d400"/><rect x="112" y="67" width="4" fill="#90d100"/><rect x="116" y="67" width="4" fill="#83cc00"/><rect x="120" y="67" width="4" fill="#6cc300"/><rect x="124" y="67" width="4" fill="#45b100"/><rect x="128" y="67" width="4" fill="#1ba400"/><rect x="132" y="67" width="4" fill="#05a515"/><rect x="136" y="67" width="4" fill="#0ab954"/><rect x="140" y="67" width="4" fill="#00d391"/><rect x="144" y="67" width="4" fill="#00e8c8"/><rect x="148" y="67" width="4" fill="#00e2e8"/><rect x="152" y="67" width="4" fill="#00c6f1"/><rect x="156" y="67" width="4" fill="#00b0f4"/><rect x="160" y="67" width="4" fill="#00a3f5"/><rect x="164" y="67" width="4" fill="#009df5"/><rect x="168" y="67" width="4" fill="#019af5"/><rect x="172" y="67" width="4" fill="#0197f4"/><rect x="176" y="67" width="4" fill="#0292f4"/><rect x="180" y="67" width="4" fill="#038df4"/><rect x="184" y="67" width="4" fill="#0487f3"/><rect x="188" y="67" width="4" fill="#0482f3"/><rect x="192" y="67" width="4" fill="#057ef3"/><rect x="196" y="67" width="4" fill="#057bf2"/><rect x="200" y="67" width="4" fill="#057af2"/><rect x="204" y="67" width="4" fill="#0679f2"/><rect x="208" y="67" width="4" fill="#057af2"/><rect x="212" y="67" width="4" fill="#057ef3"/><rect x="216" y="67" width="4" fill="#0485f3"/><rect x="220" y="67" width="4" fill="#0290f4"/><rect x="224" y="67" width="4" fill="#009df5"/><rect x="228" y="67" width="4" fill="#00abf4"/><rect x="232" y="67" width="4" fill="#00baf3"/><rect x="236" y="67" width="4" fill="#00c8f1"/><rect x="240" y="67" width="4" fill="#00d6ef"/><rect x="244" y="67" width="4" fill="#00dfea"/><rect x="248" y="67" width="4" fill="#00e7e5"/><rect x="252" y="67" width="4" fill="#00eee1"/><rect x="256" y="67" width="4" fill="#00edd8"/><rect x="260" y="67" width="4" fill="#00eacd"/><rect x="264" y="67" width="4" fill="#00e5c0"/><rect x="268" y="67" width="4" fill="#00e1b2"/><rect x="272" y="67" width="4" fill="#00d9a0"/><rect x="276" y="67" width="4" fill="#00d28e"/><rect x="280" y="67" width="4" fill="#00ca7e"/><rect x="284" y="67" width="4" fill="#02c46f"/><rect x="288" y="67" width="4" fill="#06bf63"/><rect x="292" y="67" width="4" fill="#09bb5a"/><rect x="296" y="67" width="4" fill="#0bb853"/><rect x="300" y="67" width="4" fill="#0cb54d"/><rect x="304" y="67" width="4" fill="#0eb347"/><rect x="308" y="67" width="4" fill="#10b141"/><rect x="312" y="67" width="4" fill="#0faf3b"/><rect x="316" y="67" width="4" fill="#0dad35"/><rect x="320" y="67" width="4" fill="#0bab2d"/><rect x="324" y="67" width="4" fill="#09a925"/><rect x="328" y="67" width="4" fill="#07a71c"/><rect x="332" y="67" width="4" fill="#05a512"/><rect x="336" y="67" width="4" fill="#02a209"/><rect x="340" y="67" width="4" fill="#00a000"/><rect x="344" y="67" width="4" fill="#07a100"/><rect x="348" y="67" width="4" fill="#0da200"/><rect x="352" y="67" width="4" fill="#14a300"/><rect x="356" y="67" width="4" fill="#1da500"/><rect x="360" y="67" width="4" fill="#28a700"/><rect x="364" y="67" width="4" fill="#35aa00"/><rect x="368" y="67" width="4" fill="#48b200"/><rect x="372" y="67" width="4" fill="#58ba00"/><rect x="376" y="67" width="4" fill="#64bf00"/><rect x="380" y="67" width="12" fill="#6ac200"/><rect x="36" y="71" width="4" fill="#4ab300"/><rect x="40" y="71" width="4" fill="#51b700"/><rect x="44" y="71" width="4" fill="#5bbb00"/><rect x="48" y="71" width="4" fill="#66c000"/><rect x="52" y="71" width="4" fill="#71c500"/><rect x="56" y="71" width="4" fill="#78c800"/><rect x="60" y="71" width="4" fill="#7cca00"/><rect x="64" y="71" width="4" fill="#7eca00"/><rect x="68" y="71" width="4" fill="#7fcb00"/><rect x="72" y="71" width="4" fill="#82cc00"/><rect x="76" y="71" width="4" fill="#86ce00"/><rect x="80" y="71" width="4" fill="#8dd000"/><rect x="84" y="71" width="4" fill="#95d400"/><rect x="88" y="71" width="4" fill="#9dd700"/><rect x="92" y="71" width="4" fill="#a4da00"/><rect x="96" y="71" width="4" fill="#a9dc00"/><rect x="100" y="71" width="4" fill="#abdc00"/><rect x="104" y="71" width="4" fill="#aadc00"/><rect x="108" y="71" width="4" fill="#a5da00"/><rect x="112" y="71" width="4" fill="#9bd600"/><rect x="116" y="71" width="4" fill="#8cd000"/><rect x="120" y="71" width="4" fill="#74c600"/><rect x="124" y="71" width="4" fill="#46b200"/><rect x="128" y="71" width="4" fill="#17a400"/><rect x="132" y="71" width="4" fill="#08a821"/><rect x="136" y="71" width="4" fill="#05c065"/><rect x="140" y="71" width="4" fill="#00dda9"/><rect x="144" y="71" width="4" fill="#00eee1"/><rect x="148" y="71" width="4" fill="#00c9f1"/><rect x="152" y="71" width="4" fill="#00a3f5"/><rect x="156" y="71" width="4" fill="#0486f3"/><rect x="160" y="71" width="4" fill="#0676f2"/><rect x="164" y="71" width="4" fill="#0770f2"/><rect x="168" y="71" width="8" fill="#076ef1"/><rect x="176" y="71" width="4" fill="#076cf1"/><rect x="180" y="71" width="4" fill="#0869f1"/><rect x="184" y="71" width="4" fill="#0866f1"/><rect x="188" y="71" width="4" fill="#0963f1"/><rect x="192" y="71" width="4" fill="#0962f1"/><rect x="196" y="71" width="8" fill="#0961f1"/><rect x="204" y="71" width="4" fill="#0962f1"/><rect x="208" y="71" width="4" fill="#0963f1"/><rect x="212" y="71" width="4" fill="#0867f1"/><rect x="216" y="71" width="4" fill="#076df1"/><rect x="220" y="71" width="4" fill="#0676f2"/><rect x="224" y="71" width="4" fill="#0482f3"/><rect x="228" y="71" width="4" fill="#0291f4"/><rect x="232" y="71" width="4" fill="#00a2f5"/><rect x="236" y="71" width="4" fill="#00b1f3"/><rect x="240" y="71" width="4" fill="#00c0f2"/><rect x="244" y="71" width="4" fill="#00cff0"/><rect x="248" y="71" width="4" fill="#00daed"/><rect x="252" y="71" width="4" fill="#00e3e8"/><rect x="256" y="71" width="4" fill="#00ebe3"/><rect x="260" y="71" width="4" fill="#00eed9"/><rect x="264" y="71" width="4" fill="#00e9ca"/><rect x="268" y="71" width="4" fill="#00e3ba"/><rect x="272" y="71" width="4" fill="#00dda8"/><rect x="276" y="71" width="4" fill="#00d494"/><rect x="280" y="71" width="4" fill="#00cc82"/><rect x="284" y="71" width="4" fill="#01c673"/><rect x="288" y="71" width="4" fill="#05c167"/><rect x="292" y="71" width="4" fill="#08bd5e"/><rect x="296" y="71" width="4" fill="#0aba56"/><rect x="300" y="71" width="4" fill="#0bb750"/><rect x="304" y="71" width="4" fill="#0db54b"/><rect x="308" y="71" width="4" fill="#0fb245"/><rect x="312" y="71" width="4" fill="#10b03f"/><rect x="316" y="71" width="4" fill="#0eae37"/><rect x="320" y="71" width="4" fill="#0cac2f"/><rect x="324" y="71" width="4" fill="#09a926"/><rect x="328" y="71" width="4" fill="#07a71b"/><rect x="332" y="71" width="4" fill="#04a410"/><rect x="336" y="71" width="4" fill="#01a105"/><rect x="340" y="71" width="4" fill="#04a100"/><rect x="344" y="71" width="4" fill="#0ba200"/><rect x="348" y="71" width="4" fill="#12a300"/><rect x="352" y="71" width="4" fill="#1aa400"/><rect x="356" y="71" width="4" fill="#24a600"/><rect x="360" y="71" width="4" fill="#2fa800"/><rect x="364" y="71" width="4" fill="#43b100"/><rect x="368" y="71" width="4" fill="#57b900"/><rect x="372" y="71" width="4" fill="#68c100"/><rect x="376" y="71" width="4" fill="#73c600"/><rect x="380" y="71" width="4" fill="#77c700"/><rect x="384" y="71" width="4" fill="#75c700"/><rect x="388" y="71" width="4" fill="#74c600"/><rect x="36" y="75" width="4" fill="#4ab300"/><rect x="40" y="75" width="4" fill="#52b700"/><rect x="44" y="75" width="4" fill="#5dbc00"/><rect x="48" y="75" width="4" fill="#69c100"/><rect x="52" y="75" width="4" fill="#73c600"/><rect x="56" y="75" width="4" fill="#7ac900"/><rect x="60" y="75" width="4" fill="#7dca00"/><rect x="64" y="75" width="4" fill="#7eca00"/><rect x="68" y="75" width="4" fill="#80cb00"/><rect x="72" y="75" width="4" fill="#84cd00"/><rect x="76" y="75" width="4" fill="#8cd000"/><rect x="80" y="75" width="4" fill="#96d400"/><rect x="84" y="75" width="4" fill="#a3d900"/><rect x="88" y="75" width="4" fill="#afde00"/><rect x="92" y="75" width="4" fill="#b9e200"/><rect x="96" y="75" width="4" fill="#bfe500"/><rect x="100" y="75" width="4" fill="#c1e500"/><rect x="104" y="75" width="4" fill="#bee400"/><rect x="108" y="75" width="4" fill="#b5e000"/><rect x="112" y="75" width="4" fill="#a6da00"/><rect x="116" y="75" width="4" fill="#90d100"/><rect x="120" y="75" width="4" fill="#6fc400"/><rect x="124" y="75" width="4" fill="#37ab00"/><rect x="128" y="75" width="4" fill="#07a100"/><rect x="132" y="75" width="4" fill="#0faf3d"/><rect x="136" y="75" width="4" fill="#00cc81"/><rect x="140" y="75" width="4" fill="#00e7c5"/><rect x="144" y="75" width="4" fill="#00dbec"/><rect x="148" y="75" width="4" fill="#00aaf4"/><rect x="152" y="75" width="4" fill="#057ef3"/><rect x="156" y="75" width="4" fill="#095ff0"/><rect x="160" y="75" width="4" fill="#0a4eee"/><rect x="164" y="75" width="8" fill="#0a47ed"/><rect x="172" y="75" width="12" fill="#0a48ed"/><rect x="184" y="75" width="4" fill="#0a47ed"/><rect x="188" y="75" width="4" fill="#0a46ed"/><rect x="192" y="75" width="4" fill="#0a47ed"/><rect x="196" y="75" width="4" fill="#0a49ee"/><rect x="200" y="75" width="4" fill="#0a4bee"/><rect x="204" y="75" width="4" fill="#0a4dee"/><rect x="208" y="75" width="4" fill="#0a50ef"/><rect x="212" y="75" width="4" fill="#0a54ef"/><rect x="216" y="75" width="4" fill="#0a5af0"/><rect x="220" y="75" width="4" fill="#0962f1"/><rect x="224" y="75" width="4" fill="#076ef1"/><rect x="228" y="75" width="4" fill="#057bf2"/><rect x="232" y="75" width="4" fill="#038bf4"/><rect x="236" y="75" width="4" fill="#009df5"/><rect x="240" y="75" width="4" fill="#00adf4"/><rect x="244" y="75" width="4" fill="#00bcf2"/><rect x="248" y="75" width="4" fill="#00ccf1"/><rect x="252" y="75" width="4" fill="#00d8ed"/><rect x="256" y="75" width="4" fill="#00e3e8"/><rect x="260" y="75" width="4" fill="#00ede1"/><rect x="264" y="75" width="4" fill="#00ecd3"/><rect x="268" y="75" width="4" fill="#00e6c1"/><rect x="272" y="75" width="4" fill="#00dfae"/><rect x="276" y="75" width="4" fill="#00d69a"/><rect x="280" y="75" width="4" fill="#00ce87"/><rect x="284" y="75" width="4" fill="#00c877"/><rect x="288" y="75" width="4" fill="#04c26b"/><rect x="292" y="75" width="4" fill="#06be61"/><rect x="296" y="75" width="4" fill="#09bb5a"/><rect x="300" y="75" width="4" fill="#0ab853"/><rect x="304" y="75" width="4" fill="#0cb64d"/><rect x="308" y="75" width="4" fill="#0eb347"/><rect x="312" y="75" width="4" fill="#10b041"/><rect x="316" y="75" width="4" fill="#0eae38"/><rect x="320" y="75" width="4" fill="#0cac2f"/><rect x="324" y="75" width="4" fill="#09a925"/><rect x="328" y="75" width="4" fill="#06a619"/><rect x="332" y="75" width="4" fill="#03a30d"/><rect x="336" y="75" width="4" fill="#00a001"/><rect x="340" y="75" width="4" fill="#07a100"/><rect x="344" y="75" width="4" fill="#0fa200"/><rect x="348" y="75" width="4" fill="#16a400"/><rect x="352" y="75" width="4" fill="#1fa500"/><rect x="356" y="75" width="4" fill="#2aa700"/><rect x="360" y="75" width="4" fill="#3bad00"/><rect x="364" y="75" width="4" fill="#51b700"/><rect x="368" y="75" width="4" fill="#65c000"/><rect x="372" y="75" width="4" fill="#75c700"/><rect x="376" y="75" width="4" fill="#7cca00"/><rect x="380" y="75" width="4" fill="#7dca00"/><rect x="384" y="75" width="4" fill="#79c900"/><rect x="388" y="75" width="4" fill="#78c800"/><rect x="36" y="79" width="4" fill="#45b100"/><rect x="40" y="79" width="4" fill="#4eb500"/><rect x="44" y="79" width="4" fill="#59ba00"/><rect x="48" y="79" width="4" fill="#65c000"/><rect x="52" y="79" width="4" fill="#70c500"/><rect x="56" y="79" width="4" fill="#78c800"/><rect x="60" y="79" width="4" fill="#7bc900"/><rect x="64" y="79" width="4" fill="#7eca00"/><rect x="68" y="79" width="4" fill="#82cc00"/><rect x="72" y="79" width="4" fill="#89cf00"/><rect x="76" y="79" width="4" fill="#94d300"/><rect x="80" y="79" width="4" fill="#a4da00"/><rect x="84" y="79" width="4" fill="#b6e100"/><rect x="88" y="79" width="4" fill="#c7e800"/><rect x="92" y="79" width="4" fill="#d5ec00"/><rect x="96" y="79" width="4" fill="#ddef00"/><rect x="100" y="79" width="4" fill="#deef00"/><rect x="104" y="79" width="4" fill="#d7ed00"/><rect x="108" y="79" width="4" fill="#c8e800"/><rect x="112" y="79" width="4" fill="#b0de00"/><rect x="116" y="79" width="4" fill="#8fd100"/><rect x="120" y="79" width="4" fill="#5dbc00"/><rect x="124" y="79" width="4" fill="#1ea500"/><rect x="128" y="79" width="4" fill="#08a81f"/><rect x="132" y="79" width="4" fill="#05c066"/><rect x="136" y="79" width="4" fill="#00deac"/><rect x="140" y="79" width="4" fill="#00eae3"/><rect x="144" y="79" width="4" fill="#00bbf2"/><rect x="148" y="79" width="4" fill="#0486f3"/><rect x="152" y="79" width="4" fill="#0a5af0"/><rect x="156" y="79" width="4" fill="#0a3aeb"/><rect x="160" y="79" width="4" fill="#0a29e9"/><rect x="164" y="79" width="8" fill="#0a24e8"/><rect x="172" y="79" width="4" fill="#0a27e9"/><rect x="176" y="79" width="4" fill="#0a29e9"/><rect x="180" y="79" width="4" fill="#0a2ae9"/><rect x="184" y="79" width="4" fill="#0a2be9"/><rect x="188" y="79" width="4" fill="#0a2dea"/><rect x="192" y="79" width="4" fill="#0a30ea"/><rect x="196" y="79" width="4" fill="#0a34eb"/><rect x="200" y="79" width="4" fill="#0a38eb"/><rect x="204" y="79" width="4" fill="#0a3dec"/><rect x="208" y="79" width="4" fill="#0a42ed"/><rect x="212" y="79" width="4" fill="#0a47ed"/><rect x="216" y="79" width="4" fill="#0a4dee"/><rect x="220" y="79" width="4" fill="#0a56ef"/><rect x="224" y="79" width="4" fill="#0960f0"/><rect x="228" y="79" width="4" fill="#076df1"/><rect x="232" y="79" width="4" fill="#057bf2"/><rect x="236" y="79" width="4" fill="#038cf4"/><rect x="240" y="79" width="4" fill="#009ef5"/><rect x="244" y="79" width="4" fill="#00aef4"/><rect x="248" y="79" width="4" fill="#00bff2"/><rect x="252" y="79" width="4" fill="#00d0f0"/><rect x="256" y="79" width="4" fill="#00ddeb"/><rect x="260" y="79" width="4" fill="#00e9e4"/><rect x="264" y="79" width="4" fill="#00edd8"/><rect x="268" y="79" width="4" fill="#00e7c5"/><rect x="272" y="79" width="4" fill="#00e1b2"/><rect x="276" y="79" width="4" fill="#00d89d"/><rect x="280" y="79" width="4" fill="#00d08b"/><rect x="284" y="79" width="4" fill="#00ca7c"/><rect x="288" y="79" width="4" fill="#02c46f"/><rect x="292" y="79" width="4" fill="#05c066"/><rect x="296" y="79" width="4" fill="#08bd5e"/><rect x="300" y="79" width="4" fill="#0aba56"/><rect x="304" y="79" width="4" fill="#0cb750"/><rect x="308" y="79" width="4" fill="#0db449"/><rect x="312" y="79" width="4" fill="#10b141"/><rect x="316" y="79" width="4" fill="#0eae38"/><rect x="320" y="79" width="4" fill="#0cac2e"/><rect x="324" y="79" width="4" fill="#09a923"/><rect x="328" y="79" width="4" fill="#06a616"/><rect x="332" y="79" width="4" fill="#02a20a"/><rect x="336" y="79" width="4" fill="#02a000"/><rect x="340" y="79" width="4" fill="#0ba200"/><rect x="344" y="79" width="4" fill="#13a300"/><rect x="348" y="79" width="4" fill="#1ba400"/><rect x="352" y="79" width="4" fill="#25a600"/><rect x="356" y="79" width="4" fill="#32a900"/><rect x="360" y="79" width="4" fill="#48b300"/><rect x="364" y="79" width="4" fill="#60bd00"/><rect x="368" y="79" width="4" fill="#75c700"/><rect x="372" y="79" width="4" fill="#80cb00"/><rect x="376" y="79" width="4" fill="#83cd00"/><rect x="380" y="79" width="4" fill="#81cc00"/><rect x="384" y="79" width="4" fill="#7bc900"/><rect x="388" y="79" width="4" fill="#79c900"/><rect x="36" y="83" width="4" fill="#3bad00"/><rect x="40" y="83" width="4" fill="#43b100"/><rect x="44" y="83" width="4" fill="#4fb600"/><rect x="48" y="83" width="4" fill="#5cbb00"/><rect x="52" y="83" width="4" fill="#68c100"/><rect x="56" y="83" width="4" fill="#71c500"/><rect x="60" y="83" width="4" fill="#78c800"/><rect x="64" y="83" width="4" fill="#7cca00"/><rect x="68" y="83" width="4" fill="#83cc00"/><rect x="72" y="83" width="4" fill="#8ed100"/><rect x="76" y="83" width="4" fill="#9fd700"/><rect x="80" y="83" width="4" fill="#b4e000"/><rect x="84" y="83" width="4" fill="#cce900"/><rect x="88" y="83" width="4" fill="#e6f209"/><rect x="92" y="83" width="4" fill="#ffe801"/><rect x="96" y="83" width="4" fill="#ffda00"/><rect x="100" y="83" width="4" fill="#ffd900"/><rect x="104" y="83" width="4" fill="#ffe700"/><rect x="108" y="83" width="4" fill="#e0f001"/><rect x="112" y="83" width="4" fill="#bee400"/><rect x="116" y="83" width="4" fill="#8fd100"/><rect x="120" y="83" width="4" fill="#44b100"/><rect x="124" y="83" width="4" fill="#01a104"/><rect x="128" y="83" width="4" fill="#09bb59"/><rect x="132" y="83" width="4" fill="#00dba3"/><rect x="136" y="83" width="4" fill="#00efe1"/><rect x="140" y="83" width="4" fill="#00c4f2"/><rect x="144" y="83" width="4" fill="#038ef4"/><rect x="148" y="83" width="4" fill="#0a5cf0"/><rect x="152" y="83" width="4" fill="#0a32ea"/><rect x="156" y="83" width="4" fill="#0a17e6"/><rect x="160" y="83" width="4" fill="#0412e2"/><rect x="164" y="83" width="4" fill="#0211e1"/><rect x="168" y="83" width="4" fill="#0311e2"/><rect x="172" y="83" width="4" fill="#0512e3"/><rect x="176" y="83" width="4" fill="#0713e4"/><rect x="180" y="83" width="4" fill="#0913e5"/><rect x="184" y="83" width="4" fill="#0a14e6"/><rect x="188" y="83" width="4" fill="#0a18e7"/><rect x="192" y="83" width="4" fill="#0a1de7"/><rect x="196" y="83" width="4" fill="#0a23e8"/><rect x="200" y="83" width="4" fill="#0a2ae9"/><rect x="204" y="83" width="4" fill="#0a31ea"/><rect x="208" y="83" width="4" fill="#0a38eb"/><rect x="212" y="83" width="4" fill="#0a3fec"/><rect x="216" y="83" width="4" fill="#0a47ed"/><rect x="220" y="83" width="4" fill="#0a50ef"/><rect x="224" y="83" width="4" fill="#0a5af0"/><rect x="228" y="83" width="4" fill="#0865f1"/><rect x="232" y="83" width="4" fill="#0673f2"/><rect x="236" y="83" width="4" fill="#0483f3"/><rect x="240" y="83" width="4" fill="#0294f4"/><rect x="244" y="83" width="4" fill="#00a6f4"/><rect x="248" y="83" width="4" fill="#00b8f3"/><rect x="252" y="83" width="4" fill="#00caf1"/><rect x="256" y="83" width="4" fill="#00daed"/><rect x="260" y="83" width="4" fill="#00e7e5"/><rect x="264" y="83" width="4" fill="#00eed9"/><rect x="268" y="83" width="4" fill="#00e7c6"/><rect x="272" y="83" width="4" fill="#00e1b3"/><rect x="276" y="83" width="4" fill="#00d9a0"/><rect x="280" y="83" width="4" fill="#00d28e"/><rect x="284" y="83" width="4" fill="#00cb80"/><rect x="288" y="83" width="4" fill="#01c674"/><rect x="292" y="83" width="4" fill="#04c26a"/><rect x="296" y="83" width="4" fill="#06bf62"/><rect x="300" y="83" width="4" fill="#08bb5b"/><rect x="304" y="83" width="4" fill="#0bb853"/><rect x="308" y="83" width="4" fill="#0db54b"/><rect x="312" y="83" width="4" fill="#0fb143"/><rect x="316" y="83" width="4" fill="#0eae3a"/><rect x="320" y="83" width="4" fill="#0cac2e"/><rect x="324" y="83" width="4" fill="#08a822"/><rect x="328" y="83" width="4" fill="#05a515"/><rect x="332" y="83" width="4" fill="#02a207"/><rect x="336" y="83" width="4" fill="#05a100"/><rect x="340" y="83" width="4" fill="#0ea200"/><rect x="344" y="83" width="4" fill="#17a400"/><rect x="348" y="83" width="4" fill="#20a500"/><rect x="352" y="83" width="4" fill="#2ca700"/><rect x="356" y="83" width="4" fill="#40af00"/><rect x="360" y="83" width="4" fill="#59ba00"/><rect x="364" y="83" width="4" fill="#73c600"/><rect x="368" y="83" width="4" fill="#83cc00"/><rect x="372" y="83" width="4" fill="#8bd000"/><rect x="376" y="83" width="4" fill="#8cd000"/><rect x="380" y="83" width="4" fill="#87ce00"/><rect x="384" y="83" width="4" fill="#7dca00"/><rect x="388" y="83" width="4" fill="#7bc900"/><rect x="36" y="87" width="4" fill="#2fa800"/><rect x="40" y="87" width="4" fill="#35aa00"/><rect x="44" y="87" width="4" fill="#40af00"/><rect x="48" y="87" width="4" fill="#4db500"/><rect x="52" y="87" width="4" fill="#5abb00"/><rect x="56" y="87" width="4" fill="#65c000"/><rect x="60" y="87" width="4" fill="#6fc400"/><rect x="64" y="87" width="4" fill="#79c800"/><rect x="68" y="87" width="4" fill="#83cc00"/><rect x="72" y="87" width="4" fill="#92d300"/><rect x="76" y="87" width="4" fill="#a8db00"/><rect x="80" y="87" width="4" fill="#c4e600"/><rect x="84" y="87" width="4" fill="#e3f105"/><rect x="88" y="87" width="4" fill="#ffdc00"/><rect x="92" y="87" width="4" fill="#ffc100"/><rect x="96" y="87" width="4" fill="#f5b600"/><rect x="100" y="87" width="4" fill="#f3b400"/><rect x="104" y="87" width="4" fill="#fbbb00"/><rect x="108" y="87" width="4" fill="#ffd600"/><rect x="112" y="87" width="4" fill="#d8ed00"/><rect x="116" y="87" width="4" fill="#99d500"/><rect x="120" y="87" width="4" fill="#2fa800"/><rect x="124" y="87" width="4" fill="#0faf3b"/><rect x="128" y="87" width="4" fill="#00d99f"/><rect x="132" y="87" width="4" fill="#00e9e4"/><rect x="136" y="87" width="4" fill="#00b6f3"/><rect x="140" y="87" width="4" fill="#0580f3"/><rect x="144" y="87" width="4" fill="#0a4fee"/><rect x="148" y="87" width="4" fill="#0a26e9"/><rect x="152" y="87" width="4" fill="#0211e1"/><rect x="156" y="87" width="32" fill="#0010e0"/><rect x="188" y="87" width="4" fill="#0211e1"/><rect x="192" y="87" width="4" fill="#0612e3"/><rect x="196" y="87" width="4" fill="#0a15e6"/><rect x="200" y="87" width="4" fill="#0a1ee7"/><rect x="204" y="87" width="4" fill="#0a28e9"/><rect x="208" y="87" width="4" fill="#0a32ea"/><rect x="212" y="87" width="4" fill="#0a3cec"/><rect x="216" y="87" width="4" fill="#0a45ed"/><rect x="220" y="87" width="4" fill="#0a4fee"/><rect x="224" y="87" width="4" fill="#0a59f0"/><rect x="228" y="87" width="4" fill="#0964f1"/><rect x="232" y="87" width="4" fill="#0771f2"/><rect x="236" y="87" width="4" fill="#0580f3"/><rect x="240" y="87" width="4" fill="#0291f4"/><rect x="244" y="87" width="4" fill="#00a4f5"/><rect x="248" y="87" width="4" fill="#00b6f3"/><rect x="252" y="87" width="4" fill="#00c9f1"/><rect x="256" y="87" width="4" fill="#00daed"/><rect x="260" y="87" width="4" fill="#00e7e5"/><rect x="264" y="87" width="4" fill="#00eed9"/><rect x="268" y="87" width="4" fill="#00e7c6"/><rect x="272" y="87" width="4" fill="#00e1b4"/><rect x="276" y="87" width="4" fill="#00daa2"/><rect x="280" y="87" width="4" fill="#00d393"/><rect x="284" y="87" width="4" fill="#00ce85"/><rect x="288" y="87" width="4" fill="#00c97a"/><rect x="292" y="87" width="4" fill="#02c571"/><rect x="296" y="87" width="4" fill="#04c169"/><rect x="300" y="87" width="4" fill="#07be61"/><rect x="304" y="87" width="4" fill="#09bb59"/><rect x="308" y="87" width="4" fill="#0bb751"/><rect x="312" y="87" width="4" fill="#0eb348"/><rect x="316" y="87" width="4" fill="#10b03e"/><rect x="320" y="87" width="4" fill="#0cac32"/><rect x="324" y="87" width="4" fill="#09a924"/><rect x="328" y="87" width="4" fill="#05a515"/><rect x="332" y="87" width="4" fill="#02a206"/><rect x="336" y="87" width="4" fill="#07a100"/><rect x="340" y="87" width="4" fill="#11a300"/><rect x="344" y="87" width="4" fill="#1ba400"/><rect x="348" y="87" width="4" fill="#26a600"/><rect x="352" y="87" width="4" fill="#36aa00"/><rect x="356" y="87" width="4" fill="#50b600"/><rect x="360" y="87" width="4" fill="#6dc300"/><rect x="364" y="87" width="4" fill="#84cd00"/><rect x="368" y="87" width="4" fill="#93d300"/><rect x="372" y="87" width="4" fill="#9ad600"/><rect x="376" y="87" width="4" fill="#99d500"/><rect x="380" y="87" width="4" fill="#8fd100"/><rect x="384" y="87" width="4" fill="#82cc00"/><rect x="388" y="87" width="4" fill="#7fcb00"/><rect x="36" y="91" width="4" fill="#24a600"/><rect x="40" y="91" width="4" fill="#28a700"/><rect x="44" y="91" width="4" fill="#2fa800"/><rect x="48" y="91" width="4" fill="#3cad00"/><rect x="52" y="91" width="4" fill="#4ab400"/><rect x="56" y="91" width="4" fill="#58ba00"/><rect x="60" y="91" width="4" fill="#64bf00"/><rect x="64" y="91" width="4" fill="#72c500"/><rect x="68" y="91" width="4" fill="#81cc00"/><rect x="72" y="91" width="4" fill="#95d400"/><rect x="76" y="91" width="4" fill="#afde00"/><rect x="80" y="91" width="4" fill="#cfea00"/><rect x="84" y="91" width="4" fill="#fced09"/><rect x="88" y="91" width="4" fill="#ffc200"/><rect x="92" y="91" width="4" fill="#ecac04"/><rect x="96" y="91" width="4" fill="#dd9e19"/><rect x="100" y="91" width="4" fill="#d19639"/><rect x="104" y="91" width="4" fill="#d49831"/><rect x="108" y="91" width="4" fill="#e6a60a"/><rect x="112" y="91" width="4" fill="#ffca00"/><rect x="116" y="91" width="4" fill="#bbe300"/><rect x="120" y="91" width="4" fill="#2da700"/><rect x="124" y="91" width="4" fill="#02c571"/><rect x="128" y="91" width="4" fill="#00e6e6"/><rect x="132" y="91" width="4" fill="#0197f4"/><rect x="136" y="91" width="4" fill="#0a53ef"/><rect x="140" y="91" width="4" fill="#0a22e8"/><rect x="144" y="91" width="52" fill="#0010e0"/><rect x="196" y="91" width="4" fill="#0411e2"/><rect x="200" y="91" width="4" fill="#0a15e6"/><rect x="204" y="91" width="4" fill="#0a21e8"/><rect x="208" y="91" width="4" fill="#0a2eea"/><rect x="212" y="91" width="4" fill="#0a3aeb"/><rect x="216" y="91" width="4" fill="#0a46ed"/><rect x="220" y="91" width="4" fill="#0a51ef"/><rect x="224" y="91" width="4" fill="#0a5cf0"/><rect x="228" y="91" width="4" fill="#0867f1"/><rect x="232" y="91" width="4" fill="#0674f2"/><rect x="236" y="91" width="4" fill="#0482f3"/><rect x="240" y="91" width="4" fill="#0293f4"/><rect x="244" y="91" width="4" fill="#00a5f5"/><rect x="248" y="91" width="4" fill="#00b7f3"/><rect x="252" y="91" width="4" fill="#00caf1"/><rect x="256" y="91" width="4" fill="#00dbec"/><rect x="260" y="91" width="4" fill="#00e8e4"/><rect x="264" y="91" width="4" fill="#00edd8"/><rect x="268" y="91" width="4" fill="#00e7c6"/><rect x="272" y="91" width="4" fill="#00e2b6"/><rect x="276" y="91" width="4" fill="#00dca7"/><rect x="280" y="91" width="4" fill="#00d699"/><rect x="284" y="91" width="4" fill="#00d18d"/><rect x="288" y="91" width="4" fill="#00cd83"/><rect x="292" y="91" width="4" fill="#00c97a"/><rect x="296" y="91" width="4" fill="#02c572"/><rect x="300" y="91" width="4" fill="#04c26a"/><rect x="304" y="91" width="4" fill="#06bf62"/><rect x="308" y="91" width="4" fill="#09bb5a"/><rect x="312" y="91" width="4" fill="#0bb751"/><rect x="316" y="91" width="4" fill="#0eb346"/><rect x="320" y="91" width="4" fill="#0eae3a"/><rect x="324" y="91" width="4" fill="#0bab2b"/><rect x="328" y="91" width="4" fill="#07a71b"/><rect x="332" y="91" width="4" fill="#03a30a"/><rect x="336" y="91" width="4" fill="#05a100"/><rect x="340" y="91" width="4" fill="#11a300"/><rect x="344" y="91" width="4" fill="#1da500"/><rect x="348" y="91" width="4" fill="#2aa700"/><rect x="352" y="91" width="4" fill="#41b000"/><rect x="356" y="91" width="4" fill="#60bd00"/><rect x="360" y="91" width="4" fill="#7fcb00"/><rect x="364" y="91" width="4" fill="#94d300"/><rect x="368" y="91" width="4" fill="#a4da00"/><rect x="372" y="91" width="4" fill="#abdd00"/><rect x="376" y="91" width="4" fill="#a8db00"/><rect x="380" y="91" width="4" fill="#9cd600"/><rect x="384" y="91" width="4" fill="#8bd000"/><rect x="388" y="91" width="4" fill="#88ce00"/><rect x="36" y="95" width="4" fill="#1aa400"/><rect x="40" y="95" width="4" fill="#1ca500"/><rect x="44" y="95" width="4" fill="#23a600"/><rect x="48" y="95" width="4" fill="#2ca700"/><rect x="52" y="95" width="4" fill="#3aac00"/><rect x="56" y="95" width="4" fill="#49b300"/><rect x="60" y="95" width="4" fill="#59ba00"/><rect x="64" y="95" width="4" fill="#6ac200"/><rect x="68" y="95" width="4" fill="#7fcb00"/><rect x="72" y="95" width="4" fill="#95d400"/><rect x="76" y="95" width="4" fill="#b2df00"/><rect x="80" y="95" width="4" fill="#d6ed00"/><rect x="84" y="95" width="4" fill="#ffdf00"/><rect x="88" y="95" width="4" fill="#f7b700"/><rect x="92" y="95" width="4" fill="#de9f15"/><rect x="96" y="95" width="4" fill="#cb8340"/><rect x="100" y="95" width="4" fill="#d46724"/><rect x="104" y="95" width="4" fill="#de4c1a"/><rect x="108" y="95" width="4" fill="#e44417"/><rect x="112" y="95" width="4" fill="#d26b26"/><rect x="116" y="95" width="4" fill="#ffc400"/><rect x="120" y="95" width="4" fill="#48b300"/><rect x="124" y="95" width="4" fill="#00e3ba"/><rect x="128" y="95" width="4" fill="#057af2"/><rect x="132" y="95" width="60" fill="#0010e0"/><rect x="192" y="95" width="4" fill="#0110e1"/><rect x="196" y="95" width="4" fill="#0713e4"/><rect x="200" y="95" width="4" fill="#0a1ce7"/><rect x="204" y="95" width="4" fill="#0a29e9"/><rect x="208" y="95" width="4" fill="#0a37eb"/><rect x="212" y="95" width="4" fill="#0a44ed"/><rect x="216" y="95" width="4" fill="#0a51ef"/><rect x="220" y="95" width="4" fill="#0a5cf0"/><rect x="224" y="95" width="4" fill="#0867f1"/><rect x="228" y="95" width="4" fill="#0771f2"/><rect x="232" y="95" width="4" fill="#057df2"/><rect x="236" y="95" width="4" fill="#038af3"/><rect x="240" y="95" width="4" fill="#019af5"/><rect x="244" y="95" width="4" fill="#00aaf4"/><rect x="248" y="95" width="4" fill="#00baf2"/><rect x="252" y="95" width="4" fill="#00ccf1"/><rect x="256" y="95" width="4" fill="#00dbec"/><rect x="260" y="95" width="4" fill="#00e7e5"/><rect x="264" y="95" width="4" fill="#00efdc"/><rect x="268" y="95" width="4" fill="#00e9cc"/><rect x="272" y="95" width="4" fill="#00e5be"/><rect x="276" y="95" width="4" fill="#00e1b2"/><rect x="280" y="95" width="4" fill="#00dca6"/><rect x="284" y="95" width="4" fill="#00d79b"/><rect x="288" y="95" width="4" fill="#00d392"/><rect x="292" y="95" width="4" fill="#00cf89"/><rect x="296" y="95" width="4" fill="#00cc80"/><rect x="300" y="95" width="4" fill="#00c879"/><rect x="304" y="95" width="4" fill="#02c570"/><rect x="308" y="95" width="4" fill="#05c168"/><rect x="312" y="95" width="4" fill="#07bd5e"/><rect x="316" y="95" width="4" fill="#0bb853"/><rect x="320" y="95" width="4" fill="#0eb347"/><rect x="324" y="95" width="4" fill="#0eae38"/><rect x="328" y="95" width="4" fill="#0aaa27"/><rect x="332" y="95" width="4" fill="#05a514"/><rect x="336" y="95" width="4" fill="#00a000"/><rect x="340" y="95" width="4" fill="#0ea200"/><rect x="344" y="95" width="4" fill="#1ca500"/><rect x="348" y="95" width="4" fill="#2ca700"/><rect x="352" y="95" width="4" fill="#49b300"/><rect x="356" y="95" width="4" fill="#6dc300"/><rect x="360" y="95" width="4" fill="#8bcf00"/><rect x="364" y="95" width="4" fill="#a3d900"/><rect x="368" y="95" width="4" fill="#b5e100"/><rect x="372" y="95" width="4" fill="#bde300"/><rect x="376" y="95" width="4" fill="#b8e200"/><rect x="380" y="95" width="4" fill="#a9dc00"/><rect x="384" y="95" width="4" fill="#97d400"/><rect x="388" y="95" width="4" fill="#93d300"/><rect x="36" y="99" width="4" fill="#11a300"/><rect x="40" y="99" width="4" fill="#12a300"/><rect x="44" y="99" width="4" fill="#19a400"/><rect x="48" y="99" width="4" fill="#22a600"/><rect x="52" y="99" width="4" fill="#2da800"/><rect x="56" y="99" width="4" fill="#3dae00"/><rect x="60" y="99" width="4" fill="#4eb500"/><rect x="64" y="99" width="4" fill="#63be00"/><rect x="68" y="99" width="4" fill="#7bc900"/><rect x="72" y="99" width="4" fill="#93d300"/><rect x="76" y="99" width="4" fill="#b2df00"/><rect x="80" y="99" width="4" fill="#d6ed00"/><rect x="84" y="99" width="4" fill="#ffde00"/><rect x="88" y="99" width="4" fill="#f4b500"/><rect x="92" y="99" width="4" fill="#d49830"/><rect x="96" y="99" width="4" fill="#d06f28"/><rect x="100" y="99" width="4" fill="#f23613"/><rect x="104" y="99" width="4" fill="#ff2307"/><rect x="108" y="99" width="12" fill="#ff2000"/><rect x="120" y="99" width="4" fill="#42b000"/><rect x="124" y="99" width="64" fill="#0010e0"/><rect x="188" y="99" width="4" fill="#0110e0"/><rect x="192" y="99" width="4" fill="#0612e3"/><rect x="196" y="99" width="4" fill="#0a17e6"/><rect x="200" y="99" width="4" fill="#0a24e8"/><rect x="204" y="99" width="4" fill="#0a32ea"/><rect x="208" y="99" width="4" fill="#0a40ec"/><rect x="212" y="99" width="4" fill="#0a4eee"/><rect x="216" y="99" width="4" fill="#0a5bf0"/><rect x="220" y="99" width="4" fill="#0867f1"/><rect x="224" y="99" width="4" fill="#0771f2"/><rect x="228" y="99" width="4" fill="#057cf2"/><rect x="232" y="99" width="4" fill="#0487f3"/><rect x="236" y="99" width="4" fill="#0293f4"/><rect x="240" y="99" width="4" fill="#00a1f5"/><rect x="244" y="99" width="4" fill="#00aff4"/><rect x="248" y="99" width="4" fill="#00bef2"/><rect x="252" y="99" width="4" fill="#00cef1"/><rect x="256" y="99" width="4" fill="#00dbec"/><rect x="260" y="99" width="4" fill="#00e5e6"/><rect x="264" y="99" width="4" fill="#00efe0"/><rect x="268" y="99" width="4" fill="#00ecd4"/><rect x="272" y="99" width="4" fill="#00e8c9"/><rect x="276" y="99" width="4" fill="#00e5bf"/><rect x="280" y="99" width="4" fill="#00e2b6"/><rect x="284" y="99" width="4" fill="#00dfaf"/><rect x="288" y="99" width="4" fill="#00dca7"/><rect x="292" y="99" width="4" fill="#00d99f"/><rect x="296" y="99" width="4" fill="#00d698"/><rect x="300" y="99" width="4" fill="#00d392"/><rect x="304" y="99" width="4" fill="#00d08b"/><rect x="308" y="99" width="4" fill="#00cd85"/><rect x="312" y="99" width="4" fill="#00ca7d"/><rect x="316" y="99" width="4" fill="#01c673"/><rect x="320" y="99" width="4" fill="#05c168"/><rect x="324" y="99" width="4" fill="#09ba58"/><rect x="328" y="99" width="4" fill="#0eb448"/><rect x="332" y="99" width="4" fill="#0dad34"/><rect x="336" y="99" width="4" fill="#07a71e"/><rect x="340" y="99" width="4" fill="#01a104"/><rect x="344" y="99" width="4" fill="#10a300"/><rect x="348" y="99" width="4" fill="#27a700"/><rect x="352" y="99" width="4" fill="#49b300"/><rect x="356" y="99" width="4" fill="#71c500"/><rect x="360" y="99" width="4" fill="#91d200"/><rect x="364" y="99" width="4" fill="#aedd00"/><rect x="368" y="99" width="4" fill="#c3e600"/><rect x="372" y="99" width="4" fill="#cae900"/><rect x="376" y="99" width="4" fill="#c4e700"/><rect x="380" y="99" width="4" fill="#b5e000"/><rect x="384" y="99" width="4" fill="#a1d800"/><rect x="388" y="99" width="4" fill="#9cd700"/><rect x="36" y="103" width="4" fill="#0aa200"/><rect x="40" y="103" width="4" fill="#0ba200"/><rect x="44" y="103" width="4" fill="#10a300"/><rect x="48" y="103" width="4" fill="#1aa400"/><rect x="52" y="103" width="4" fill="#26a600"/><rect x="56" y="103" width="4" fill="#33a900"/><rect x="60" y="103" width="4" fill="#46b200"/><rect x="64" y="103" width="4" fill="#5cbb00"/><rect x="68" y="103" width="4" fill="#77c800"/><rect x="72" y="103" width="4" fill="#8fd100"/><rect x="76" y="103" width="4" fill="#addd00"/><rect x="80" y="103" width="4" fill="#d0eb00"/><rect x="84" y="103" width="4" fill="#ffe600"/><rect x="88" y="103" width="4" fill="#f8b900"/><rect x="92" y="103" width="4" fill="#d89b26"/><rect x="96" y="103" width="4" fill="#d36925"/><rect x="100" y="103" width="4" fill="#ff270e"/><rect x="104" y="103" width="16" fill="#ff2000"/><rect x="120" y="103" width="68" fill="#0010e0"/><rect x="188" y="103" width="4" fill="#0412e3"/><rect x="192" y="103" width="4" fill="#0914e6"/><rect x="196" y="103" width="4" fill="#0a1de7"/><rect x="200" y="103" width="4" fill="#0a2ae9"/><rect x="204" y="103" width="4" fill="#0a38eb"/><rect x="208" y="103" width="4" fill="#0a46ed"/><rect x="212" y="103" width="4" fill="#0a55ef"/><rect x="216" y="103" width="4" fill="#0962f1"/><rect x="220" y="103" width="4" fill="#076ef1"/><rect x="224" y="103" width="4" fill="#0679f2"/><rect x="228" y="103" width="4" fill="#0483f3"/><rect x="232" y="103" width="4" fill="#038ef4"/><rect x="236" y="103" width="4" fill="#0199f4"/><rect x="240" y="103" width="4" fill="#00a5f5"/><rect x="244" y="103" width="4" fill="#00b1f3"/><rect x="248" y="103" width="4" fill="#00bef2"/><rect x="252" y="103" width="4" fill="#00ccf1"/><rect x="256" y="103" width="4" fill="#00d8ee"/><rect x="260" y="103" width="4" fill="#00e1e9"/><rect x="264" y="103" width="4" fill="#00e9e4"/><rect x="268" y="103" width="4" fill="#00f0e0"/><rect x="272" y="103" width="4" fill="#00edd7"/><rect x="276" y="103" width="4" fill="#00eacf"/><rect x="280" y="103" width="4" fill="#00e8c8"/><rect x="284" y="103" width="4" fill="#00e6c1"/><rect x="288" y="103" width="4" fill="#00e4bb"/><rect x="292" y="103" width="4" fill="#00e2b6"/><rect x="296" y="103" width="4" fill="#00e0b1"/><rect x="300" y="103" width="4" fill="#00deac"/><rect x="304" y="103" width="4" fill="#00dda8"/><rect x="308" y="103" width="4" fill="#00dba4"/><rect x="312" y="103" width="4" fill="#00d99f"/><rect x="316" y="103" width="4" fill="#00d699"/><rect x="320" y="103" width="4" fill="#00d290"/><rect x="324" y="103" width="4" fill="#00ce86"/><rect x="328" y="103" width="4" fill="#00c97a"/><rect x="332" y="103" width="4" fill="#03c46e"/><rect x="336" y="103" width="4" fill="#07be61"/><rect x="340" y="103" width="4" fill="#0bb853"/><rect x="344" y="103" width="4" fill="#0fb143"/><rect x="348" y="103" width="4" fill="#0bab2c"/><rect x="352" y="103" width="4" fill="#04a100"/><rect x="356" y="103" width="4" fill="#26a600"/><rect x="360" y="103" width="4" fill="#55b800"/><rect x="364" y="103" width="4" fill="#5ebd00"/><rect x="368" y="103" width="4" fill="#cdea00"/><rect x="372" y="103" width="4" fill="#cfea00"/><rect x="376" y="103" width="4" fill="#c9e800"/><rect x="380" y="103" width="4" fill="#b9e200"/><rect x="384" y="103" width="4" fill="#a6da00"/><rect x="388" y="103" width="4" fill="#a1d900"/><rect x="36" y="107" width="4" fill="#05a100"/><rect x="40" y="107" width="4" fill="#06a100"/><rect x="44" y="107" width="4" fill="#0ba200"/><rect x="48" y="107" width="4" fill="#15a300"/><rect x="52" y="107" width="4" fill="#21a600"/><rect x="56" y="107" width="4" fill="#2ea800"/><rect x="60" y="107" width="4" fill="#41b000"/><rect x="64" y="107" width="4" fill="#57b900"/><rect x="68" y="107" width="4" fill="#72c500"/><rect x="72" y="107" width="4" fill="#8bcf00"/><rect x="76" y="107" width="4" fill="#a7db00"/><rect x="80" y="107" width="4" fill="#c8e800"/><rect x="84" y="107" width="4" fill="#f5f71d"/><rect x="88" y="107" width="4" fill="#ffc300"/><rect x="92" y="107" width="4" fill="#e4a40c"/><rect x="96" y="107" width="4" fill="#ce7832"/><rect x="100" y="107" width="4" fill="#ff2810"/><rect x="104" y="107" width="16" fill="#ff2000"/><rect x="120" y="107" width="64" fill="#0010e0"/><rect x="184" y="107" width="4" fill="#0211e1"/><rect x="188" y="107" width="4" fill="#0612e4"/><rect x="192" y="107" width="4" fill="#0a16e6"/><rect x="196" y="107" width="4" fill="#0a20e8"/><rect x="200" y="107" width="4" fill="#0a2ce9"/><rect x="204" y="107" width="4" fill="#0a3aeb"/><rect x="208" y="107" width="4" fill="#0a49ee"/><rect x="212" y="107" width="4" fill="#0a58f0"/><rect x="216" y="107" width="4" fill="#0865f1"/><rect x="220" y="107" width="4" fill="#0772f2"/><rect x="224" y="107" width="4" fill="#057cf2"/><rect x="228" y="107" width="4" fill="#0486f3"/><rect x="232" y="107" width="4" fill="#0290f4"/><rect x="236" y="107" width="4" fill="#019bf5"/><rect x="240" y="107" width="4" fill="#00a6f4"/><rect x="244" y="107" width="4" fill="#00b0f3"/><rect x="248" y="107" width="4" fill="#00bcf2"/><rect x="252" y="107" width="4" fill="#00c8f1"/><rect x="256" y="107" width="4" fill="#00d3f0"/><rect x="260" y="107" width="4" fill="#00dbec"/><rect x="264" y="107" width="4" fill="#00e1e8"/><rect x="268" y="107" width="4" fill="#00e7e5"/><rect x="272" y="107" width="4" fill="#00ece2"/><rect x="276" y="107" width="4" fill="#00f0e0"/><rect x="280" y="107" width="4" fill="#00eeda"/><rect x="284" y="107" width="4" fill="#00ecd5"/><rect x="288" y="107" width="4" fill="#00eacf"/><rect x="292" y="107" width="4" fill="#00e9cb"/><rect x="296" y="107" width="4" fill="#00e8c7"/><rect x="300" y="107" width="4" fill="#00e7c4"/><rect x="304" y="107" width="4" fill="#00e6c2"/><rect x="308" y="107" width="4" fill="#00e6c1"/><rect x="312" y="107" width="4" fill="#00e5bf"/><rect x="316" y="107" width="4" fill="#00e4bd"/><rect x="320" y="107" width="4" fill="#00e3b9"/><rect x="324" y="107" width="4" fill="#00d597"/><rect x="328" y="107" width="4" fill="#00cd83"/><rect x="332" y="107" width="4" fill="#09ba58"/><rect x="336" y="107" width="4" fill="#0fb142"/><rect x="340" y="107" width="4" fill="#00a001"/><rect x="344" y="107" width="4" fill="#15a400"/><rect x="348" y="107" width="4" fill="#49b300"/><rect x="352" y="107" width="4" fill="#67c000"/><rect x="356" y="107" width="4" fill="#84cd00"/><rect x="360" y="107" width="4" fill="#9fd800"/><rect x="364" y="107" width="4" fill="#b8e100"/><rect x="368" y="107" width="4" fill="#c4e600"/><rect x="372" y="107" width="4" fill="#c8e800"/><rect x="376" y="107" width="4" fill="#c3e600"/><rect x="380" y="107" width="4" fill="#b5e000"/><rect x="384" y="107" width="4" fill="#a3d900"/><rect x="388" y="107" width="4" fill="#9fd800"/><rect x="36" y="111" width="8" fill="#03a100"/><rect x="44" y="111" width="4" fill="#09a200"/><rect x="48" y="111" width="4" fill="#13a300"/><rect x="52" y="111" width="4" fill="#1fa500"/><rect x="56" y="111" width="4" fill="#2da700"/><rect x="60" y="111" width="4" fill="#3faf00"/><rect x="64" y="111" width="4" fill="#54b800"/><rect x="68" y="111" width="4" fill="#6ec300"/><rect x="72" y="111" width="4" fill="#86ce00"/><rect x="76" y="111" width="4" fill="#a0d800"/><rect x="80" y="111" width="4" fill="#bee400"/><rect x="84" y="111" width="4" fill="#dff000"/><rect x="88" y="111" width="4" fill="#ffd600"/><rect x="92" y="111" width="4" fill="#f2b200"/><rect x="96" y="111" width="4" fill="#cc9246"/><rect x="100" y="111" width="4" fill="#dc511c"/><rect x="104" y="111" width="4" fill="#ff2408"/><rect x="108" y="111" width="12" fill="#ff2000"/><rect x="120" y="111" width="4" fill="#04c269"/><rect x="124" y="111" width="60" fill="#0010e0"/><rect x="184" y="111" width="4" fill="#0110e1"/><rect x="188" y="111" width="4" fill="#0612e3"/><rect x="192" y="111" width="4" fill="#0a15e6"/><rect x="196" y="111" width="4" fill="#0a1fe8"/><rect x="200" y="111" width="4" fill="#0a2be9"/><rect x="204" y="111" width="4" fill="#0a39eb"/><rect x="208" y="111" width="4" fill="#0a48ed"/><rect x="212" y="111" width="4" fill="#0a57f0"/><rect x="216" y="111" width="4" fill="#0964f1"/><rect x="220" y="111" width="4" fill="#0770f2"/><rect x="224" y="111" width="4" fill="#057bf2"/><rect x="228" y="111" width="4" fill="#0485f3"/><rect x="232" y="111" width="4" fill="#028ff4"/><rect x="236" y="111" width="4" fill="#0199f4"/><rect x="240" y="111" width="4" fill="#00a3f5"/><rect x="244" y="111" width="4" fill="#00acf4"/><rect x="248" y="111" width="4" fill="#00b6f3"/><rect x="252" y="111" width="4" fill="#00c0f2"/><rect x="256" y="111" width="4" fill="#00caf1"/><rect x="260" y="111" width="4" fill="#00d3f0"/><rect x="264" y="111" width="4" fill="#00d9ed"/><rect x="268" y="111" width="4" fill="#00ddeb"/><rect x="272" y="111" width="4" fill="#00e1e8"/><rect x="276" y="111" width="4" fill="#00e5e6"/><rect x="280" y="111" width="4" fill="#00e8e5"/><rect x="284" y="111" width="4" fill="#00ebe3"/><rect x="288" y="111" width="4" fill="#00eee1"/><rect x="292" y="111" width="4" fill="#00e8c9"/><rect x="296" y="111" width="4" fill="#00e7c4"/><rect x="300" y="111" width="4" fill="#00e0af"/><rect x="304" y="111" width="4" fill="#00dba4"/><rect x="308" y="111" width="4" fill="#00cf89"/><rect x="312" y="111" width="4" fill="#00ca7c"/><rect x="316" y="111" width="4" fill="#06bf62"/><rect x="320" y="111" width="4" fill="#0fb244"/><rect x="324" y="111" width="4" fill="#0cac32"/><rect x="328" y="111" width="4" fill="#07a71e"/><rect x="332" y="111" width="4" fill="#02a209"/><rect x="336" y="111" width="4" fill="#08a100"/><rect x="340" y="111" width="4" fill="#15a400"/><rect x="344" y="111" width="4" fill="#23a600"/><rect x="348" y="111" width="4" fill="#33a900"/><rect x="352" y="111" width="4" fill="#4fb600"/><rect x="356" y="111" width="4" fill="#6fc400"/><rect x="360" y="111" width="4" fill="#8acf00"/><rect x="364" y="111" width="4" fill="#a0d800"/><rect x="368" y="111" width="4" fill="#afde00"/><rect x="372" y="111" width="4" fill="#b5e100"/><rect x="376" y="111" width="4" fill="#b2df00"/><rect x="380" y="111" width="4" fill="#a7db00"/><rect x="384" y="111" width="4" fill="#99d500"/><rect x="388" y="111" width="4" fill="#96d400"/><rect x="36" y="115" width="8" fill="#04a100"/><rect x="44" y="115" width="4" fill="#0aa200"/><rect x="48" y="115" width="4" fill="#14a300"/><rect x="52" y="115" width="4" fill="#20a500"/><rect x="56" y="115" width="4" fill="#2ea800"/><rect x="60" y="115" width="4" fill="#40af00"/><rect x="64" y="115" width="4" fill="#54b800"/><rect x="68" y="115" width="4" fill="#6bc200"/><rect x="72" y="115" width="4" fill="#82cc00"/><rect x="76" y="115" width="4" fill="#99d500"/><rect x="80" y="115" width="4" fill="#b4e000"/><rect x="84" y="115" width="4" fill="#d2eb00"/><rect x="88" y="115" width="4" fill="#faef0e"/><rect x="92" y="115" width="4" fill="#ffc400"/><rect x="96" y="115" width="4" fill="#eaaa06"/><rect x="100" y="115" width="4" fill="#c98d4c"/><rect x="104" y="115" width="4" fill="#d85c20"/><rect x="108" y="115" width="4" fill="#f53213"/><rect x="112" y="115" width="4" fill="#ea3d15"/><rect x="116" y="115" width="4" fill="#f4b500"/><rect x="120" y="115" width="4" fill="#2aa700"/><rect x="124" y="115" width="4" fill="#00e1e9"/><rect x="128" y="115" width="4" fill="#0a19e7"/><rect x="132" y="115" width="56" fill="#0010e0"/><rect x="188" y="115" width="4" fill="#0311e2"/><rect x="192" y="115" width="4" fill="#0813e5"/><rect x="196" y="115" width="4" fill="#0a1ae7"/><rect x="200" y="115" width="4" fill="#0a26e9"/><rect x="204" y="115" width="4" fill="#0a33ea"/><rect x="208" y="115" width="4" fill="#0a42ed"/><rect x="212" y="115" width="4" fill="#0a51ef"/><rect x="216" y="115" width="4" fill="#095ff0"/><rect x="220" y="115" width="4" fill="#086bf1"/><rect x="224" y="115" width="4" fill="#0676f2"/><rect x="228" y="115" width="4" fill="#057ff3"/><rect x="232" y="115" width="4" fill="#0388f3"/><rect x="236" y="115" width="4" fill="#0292f4"/><rect x="240" y="115" width="4" fill="#019bf5"/><rect x="244" y="115" width="4" fill="#00a5f5"/><rect x="248" y="115" width="4" fill="#00b2f3"/><rect x="252" y="115" width="4" fill="#00c6f1"/><rect x="256" y="115" width="4" fill="#00cff0"/><rect x="260" y="115" width="4" fill="#00d9ed"/><rect x="264" y="115" width="4" fill="#00e7e5"/><rect x="268" y="115" width="4" fill="#00ece2"/><rect x="272" y="115" width="4" fill="#00ebd1"/><rect x="276" y="115" width="4" fill="#00e7c6"/><rect x="280" y="115" width="4" fill="#00e3b9"/><rect x="284" y="115" width="4" fill="#00d9a0"/><rect x="288" y="115" width="4" fill="#00d495"/><rect x="292" y="115" width="4" fill="#00d08a"/><rect x="296" y="115" width="4" fill="#00cb80"/><rect x="300" y="115" width="4" fill="#00c877"/><rect x="304" y="115" width="4" fill="#03c46f"/><rect x="308" y="115" width="4" fill="#05c168"/><rect x="312" y="115" width="4" fill="#07be61"/><rect x="316" y="115" width="4" fill="#09ba58"/><rect x="320" y="115" width="4" fill="#0db54c"/><rect x="324" y="115" width="4" fill="#0faf3d"/><rect x="328" y="115" width="4" fill="#0bab2b"/><rect x="332" y="115" width="4" fill="#06a619"/><rect x="336" y="115" width="4" fill="#02a207"/><rect x="340" y="115" width="4" fill="#07a100"/><rect x="344" y="115" width="4" fill="#14a300"/><rect x="348" y="115" width="4" fill="#22a600"/><rect x="352" y="115" width="4" fill="#33a900"/><rect x="356" y="115" width="4" fill="#51b600"/><rect x="360" y="115" width="4" fill="#70c400"/><rect x="364" y="115" width="4" fill="#86ce00"/><rect x="368" y="115" width="4" fill="#95d400"/><rect x="372" y="115" width="4" fill="#9cd600"/><rect x="376" y="115" width="4" fill="#9bd600"/><rect x="380" y="115" width="4" fill="#94d300"/><rect x="384" y="115" width="4" fill="#89cf00"/><rect x="388" y="115" width="4" fill="#87ce00"/><rect x="36" y="119" width="4" fill="#07a100"/><rect x="40" y="119" width="4" fill="#08a100"/><rect x="44" y="119" width="4" fill="#0ea200"/><rect x="48" y="119" width="4" fill="#18a400"/><rect x="52" y="119" width="4" fill="#24a600"/><rect x="56" y="119" width="4" fill="#31a900"/><rect x="60" y="119" width="4" fill="#44b100"/><rect x="64" y="119" width="4" fill="#56b900"/><rect x="68" y="119" width="4" fill="#69c200"/><rect x="72" y="119" width="4" fill="#7ecb00"/><rect x="76" y="119" width="4" fill="#92d300"/><rect x="80" y="119" width="4" fill="#aadc00"/><rect x="84" y="119" width="4" fill="#c5e700"/><rect x="88" y="119" width="4" fill="#e1f001"/><rect x="92" y="119" width="4" fill="#ffe000"/><rect x="96" y="119" width="4" fill="#ffc100"/><rect x="100" y="119" width="4" fill="#f0b000"/><rect x="104" y="119" width="4" fill="#e5a50b"/><rect x="108" y="119" width="4" fill="#e4a40c"/><rect x="112" y="119" width="4" fill="#f9ba00"/><rect x="116" y="119" width="4" fill="#cdea00"/><rect x="120" y="119" width="4" fill="#31a900"/><rect x="124" y="119" width="4" fill="#00cc82"/><rect x="128" y="119" width="4" fill="#00d1f0"/><rect x="132" y="119" width="4" fill="#086af1"/><rect x="136" y="119" width="4" fill="#0a1be7"/><rect x="140" y="119" width="48" fill="#0010e0"/><rect x="188" y="119" width="4" fill="#0412e3"/><rect x="192" y="119" width="4" fill="#0a16e6"/><rect x="196" y="119" width="4" fill="#0a21e8"/><rect x="200" y="119" width="4" fill="#0a2dea"/><rect x="204" y="119" width="4" fill="#0a3cec"/><rect x="208" y="119" width="4" fill="#0a4bee"/><rect x="212" y="119" width="4" fill="#0a5cf0"/><rect x="216" y="119" width="4" fill="#086bf1"/><rect x="220" y="119" width="4" fill="#057ef3"/><rect x="224" y="119" width="4" fill="#0291f4"/><rect x="228" y="119" width="4" fill="#009df5"/><rect x="232" y="119" width="4" fill="#00a8f4"/><rect x="236" y="119" width="4" fill="#00b8f3"/><rect x="240" y="119" width="4" fill="#00caf1"/><rect x="244" y="119" width="4" fill="#00d5ef"/><rect x="248" y="119" width="4" fill="#00deea"/><rect x="252" y="119" width="4" fill="#00e6e5"/><rect x="256" y="119" width="4" fill="#00efe1"/><rect x="260" y="119" width="4" fill="#00edd6"/><rect x="264" y="119" width="4" fill="#00e9cc"/><rect x="268" y="119" width="4" fill="#00e6c3"/><rect x="272" y="119" width="4" fill="#00e3ba"/><rect x="276" y="119" width="4" fill="#00e1b2"/><rect x="280" y="119" width="4" fill="#00dda9"/><rect x="284" y="119" width="4" fill="#00d89e"/><rect x="288" y="119" width="4" fill="#00d493"/><rect x="292" y="119" width="4" fill="#00cf89"/><rect x="296" y="119" width="4" fill="#00cb7e"/><rect x="300" y="119" width="4" fill="#01c776"/><rect x="304" y="119" width="4" fill="#03c46e"/><rect x="308" y="119" width="4" fill="#05c168"/><rect x="312" y="119" width="4" fill="#07be61"/><rect x="316" y="119" width="4" fill="#09bb59"/><rect x="320" y="119" width="4" fill="#0cb750"/><rect x="324" y="119" width="4" fill="#0fb244"/><rect x="328" y="119" width="4" fill="#0dad35"/><rect x="332" y="119" width="4" fill="#09a925"/><rect x="336" y="119" width="4" fill="#05a515"/><rect x="340" y="119" width="4" fill="#02a207"/><rect x="344" y="119" width="4" fill="#06a100"/><rect x="348" y="119" width="4" fill="#12a300"/><rect x="352" y="119" width="4" fill="#20a500"/><rect x="356" y="119" width="4" fill="#32a900"/><rect x="360" y="119" width="4" fill="#4db500"/><rect x="364" y="119" width="4" fill="#67c000"/><rect x="368" y="119" width="4" fill="#7ac900"/><rect x="372" y="119" width="4" fill="#81cc00"/><rect x="376" y="119" width="4" fill="#82cc00"/><rect x="380" y="119" width="4" fill="#7eca00"/><rect x="384" y="119" width="4" fill="#78c800"/><rect x="388" y="119" width="4" fill="#75c700"/><rect x="36" y="123" width="4" fill="#0ca200"/><rect x="40" y="123" width="4" fill="#0da200"/><rect x="44" y="123" width="4" fill="#14a300"/><rect x="48" y="123" width="4" fill="#1ea500"/><rect x="52" y="123" width="4" fill="#2aa700"/><rect x="56" y="123" width="4" fill="#39ac00"/><rect x="60" y="123" width="4" fill="#4ab400"/><rect x="64" y="123" width="4" fill="#5aba00"/><rect x="68" y="123" width="4" fill="#6ac200"/><rect x="72" y="123" width="4" fill="#7cca00"/><rect x="76" y="123" width="4" fill="#8dd000"/><rect x="80" y="123" width="4" fill="#a2d900"/><rect x="84" y="123" width="4" fill="#b9e200"/><rect x="88" y="123" width="4" fill="#d1eb00"/><rect x="92" y="123" width="4" fill="#ecf514"/><rect x="96" y="123" width="4" fill="#ffe300"/><rect x="100" y="123" width="4" fill="#ffd300"/><rect x="104" y="123" width="4" fill="#ffcf00"/><rect x="108" y="123" width="4" fill="#ffde00"/><rect x="112" y="123" width="4" fill="#dcef00"/><rect x="116" y="123" width="4" fill="#a0d800"/><rect x="120" y="123" width="4" fill="#32a900"/><rect x="124" y="123" width="4" fill="#0fb244"/><rect x="128" y="123" width="4" fill="#00e2b6"/><rect x="132" y="123" width="4" fill="#00d3f0"/><rect x="136" y="123" width="4" fill="#038ef4"/><rect x="140" y="123" width="4" fill="#0a51ef"/><rect x="144" y="123" width="4" fill="#0a23e8"/><rect x="148" y="123" width="28" fill="#0010e0"/><rect x="176" y="123" width="4" fill="#0311e2"/><rect x="180" y="123" width="4" fill="#0914e5"/><rect x="184" y="123" width="4" fill="#0a1de7"/><rect x="188" y="123" width="4" fill="#0a27e9"/><rect x="192" y="123" width="4" fill="#0a31ea"/><rect x="196" y="123" width="4" fill="#0a3cec"/><rect x="200" y="123" width="4" fill="#0a48ed"/><rect x="204" y="123" width="4" fill="#0a57f0"/><rect x="208" y="123" width="4" fill="#0865f1"/><rect x="212" y="123" width="4" fill="#0674f2"/><rect x="216" y="123" width="4" fill="#0484f3"/><rect x="220" y="123" width="4" fill="#0293f4"/><rect x="224" y="123" width="4" fill="#00a1f5"/><rect x="228" y="123" width="4" fill="#00adf4"/><rect x="232" y="123" width="4" fill="#00b8f3"/><rect x="236" y="123" width="4" fill="#00c3f2"/><rect x="240" y="123" width="4" fill="#00cff1"/><rect x="244" y="123" width="4" fill="#00d9ed"/><rect x="248" y="123" width="4" fill="#00e1e8"/><rect x="252" y="123" width="4" fill="#00eae4"/><rect x="256" y="123" width="4" fill="#00efdd"/><rect x="260" y="123" width="4" fill="#00ebd1"/><rect x="264" y="123" width="4" fill="#00e8c7"/><rect x="268" y="123" width="4" fill="#00e5be"/><rect x="272" y="123" width="4" fill="#00e2b6"/><rect x="276" y="123" width="4" fill="#00dfae"/><rect x="280" y="123" width="4" fill="#00dba4"/><rect x="284" y="123" width="4" fill="#00d79a"/><rect x="288" y="123" width="4" fill="#00d28f"/><rect x="292" y="123" width="4" fill="#00cd85"/><rect x="296" y="123" width="4" fill="#00c97a"/><rect x="300" y="123" width="4" fill="#02c572"/><rect x="304" y="123" width="4" fill="#04c26a"/><rect x="308" y="123" width="4" fill="#06bf64"/><rect x="312" y="123" width="4" fill="#07bd5e"/><rect x="316" y="123" width="4" fill="#09ba57"/><rect x="320" y="123" width="4" fill="#0cb74f"/><rect x="324" y="123" width="4" fill="#0eb246"/><rect x="328" y="123" width="4" fill="#0faf3a"/><rect x="332" y="123" width="4" fill="#0bab2d"/><rect x="336" y="123" width="4" fill="#08a820"/><rect x="340" y="123" width="4" fill="#05a513"/><rect x="344" y="123" width="4" fill="#02a207"/><rect x="348" y="123" width="4" fill="#06a100"/><rect x="352" y="123" width="4" fill="#12a300"/><rect x="356" y="123" width="4" fill="#20a500"/><rect x="360" y="123" width="4" fill="#30a800"/><rect x="364" y="123" width="4" fill="#45b100"/><rect x="368" y="123" width="4" fill="#57b900"/><rect x="372" y="123" width="4" fill="#62be00"/><rect x="376" y="123" width="4" fill="#66c000"/><rect x="380" y="123" width="4" fill="#64bf00"/><rect x="384" y="123" width="4" fill="#60bd00"/><rect x="388" y="123" width="4" fill="#5fbd00"/><rect x="36" y="127" width="4" fill="#12a300"/><rect x="40" y="127" width="4" fill="#14a300"/><rect x="44" y="127" width="4" fill="#1ba400"/><rect x="48" y="127" width="4" fill="#25a600"/><rect x="52" y="127" width="4" fill="#31a900"/><rect x="56" y="127" width="4" fill="#43b000"/><rect x="60" y="127" width="4" fill="#52b700"/><rect x="64" y="127" width="4" fill="#5fbd00"/><rect x="68" y="127" width="4" fill="#6dc300"/><rect x="72" y="127" width="4" fill="#7bc900"/><rect x="76" y="127" width="4" fill="#89cf00"/><rect x="80" y="127" width="4" fill="#9bd600"/><rect x="84" y="127" width="4" fill="#b0de00"/><rect x="88" y="127" width="4" fill="#c4e600"/><rect x="92" y="127" width="4" fill="#d6ed00"/><rect x="96" y="127" width="4" fill="#e4f207"/><rect x="100" y="127" width="4" fill="#eef516"/><rect x="104" y="127" width="4" fill="#e7f30b"/><rect x="108" y="127" width="4" fill="#d4ec00"/><rect x="112" y="127" width="4" fill="#b7e100"/><rect x="116" y="127" width="4" fill="#89cf00"/><rect x="120" y="127" width="4" fill="#35aa00"/><rect x="124" y="127" width="4" fill="#07a71d"/><rect x="128" y="127" width="4" fill="#00c979"/><rect x="132" y="127" width="4" fill="#00e8c9"/><rect x="136" y="127" width="4" fill="#00d4f0"/><rect x="140" y="127" width="4" fill="#009ef5"/><rect x="144" y="127" width="4" fill="#076df1"/><rect x="148" y="127" width="4" fill="#0a48ed"/><rect x="152" y="127" width="4" fill="#0a30ea"/><rect x="156" y="127" width="4" fill="#0a22e8"/><rect x="160" y="127" width="4" fill="#0a1be7"/><rect x="164" y="127" width="4" fill="#0a1ae7"/><rect x="168" y="127" width="4" fill="#0a1ce7"/><rect x="172" y="127" width="4" fill="#0a21e8"/><rect x="176" y="127" width="4" fill="#0a27e9"/><rect x="180" y="127" width="4" fill="#0a2eea"/><rect x="184" y="127" width="4" fill="#0a36eb"/><rect x="188" y="127" width="4" fill="#0a3eec"/><rect x="192" y="127" width="4" fill="#0a46ed"/><rect x="196" y="127" width="4" fill="#0a4fee"/><rect x="200" y="127" width="4" fill="#0a59f0"/><rect x="204" y="127" width="4" fill="#0963f1"/><rect x="208" y="127" width="4" fill="#076ff1"/><rect x="212" y="127" width="4" fill="#057bf2"/><rect x="216" y="127" width="4" fill="#0389f3"/><rect x="220" y="127" width="4" fill="#0197f4"/><rect x="224" y="127" width="4" fill="#00a5f5"/><rect x="228" y="127" width="4" fill="#00b0f3"/><rect x="232" y="127" width="4" fill="#00bcf2"/><rect x="236" y="127" width="4" fill="#00c8f1"/><rect x="240" y="127" width="4" fill="#00d4f0"/><rect x="244" y="127" width="4" fill="#00dceb"/><rect x="248" y="127" width="4" fill="#00e5e7"/><rect x="252" y="127" width="4" fill="#00ede2"/><rect x="256" y="127" width="4" fill="#00edd8"/><rect x="260" y="127" width="4" fill="#00e9cc"/><rect x="264" y="127" width="4" fill="#00e6c1"/><rect x="268" y="127" width="4" fill="#00e3b8"/><rect x="272" y="127" width="4" fill="#00e0b0"/><rect x="276" y="127" width="4" fill="#00dca7"/><rect x="280" y="127" width="4" fill="#00d89d"/><rect x="284" y="127" width="4" fill="#00d494"/><rect x="288" y="127" width="4" fill="#00cf89"/><rect x="292" y="127" width="4" fill="#00cb7f"/><rect x="296" y="127" width="4" fill="#01c775"/><rect x="300" y="127" width="4" fill="#04c36c"/><rect x="304" y="127" width="4" fill="#06bf64"/><rect x="308" y="127" width="4" fill="#08bd5d"/><rect x="312" y="127" width="4" fill="#09ba58"/><rect x="316" y="127" width="4" fill="#0bb852"/><rect x="320" y="127" width="4" fill="#0db54c"/><rect x="324" y="127" width="4" fill="#0fb244"/><rect x="328" y="127" width="4" fill="#0faf3b"/><rect x="332" y="127" width="4" fill="#0cac30"/><rect x="336" y="127" width="4" fill="#09a925"/><rect x="340" y="127" width="4" fill="#07a71b"/><rect x="344" y="127" width="4" fill="#04a410"/><rect x="348" y="127" width="4" fill="#01a104"/><rect x="352" y="127" width="4" fill="#08a100"/><rect x="356" y="127" width="4" fill="#14a300"/><rect x="360" y="127" width="4" fill="#21a500"/><rect x="364" y="127" width="4" fill="#2da700"/><rect x="368" y="127" width="4" fill="#3bad00"/><rect x="372" y="127" width="4" fill="#46b200"/><rect x="376" y="127" width="4" fill="#4bb400"/><rect x="380" y="127" width="12" fill="#4eb500"/><rect x="36" y="131" width="4" fill="#19a400"/><rect x="40" y="131" width="4" fill="#1ca500"/><rect x="44" y="131" width="4" fill="#23a600"/><rect x="48" y="131" width="4" fill="#2da700"/><rect x="52" y="131" width="4" fill="#3dae00"/><rect x="56" y="131" width="4" fill="#4db500"/><rect x="60" y="131" width="4" fill="#5bbb00"/><rect x="64" y="131" width="4" fill="#66c000"/><rect x="68" y="131" width="4" fill="#71c500"/><rect x="72" y="131" width="4" fill="#7cca00"/><rect x="76" y="131" width="4" fill="#87ce00"/><rect x="80" y="131" width="4" fill="#96d400"/><rect x="84" y="131" width="4" fill="#a8db00"/><rect x="88" y="131" width="4" fill="#b9e200"/><rect x="92" y="131" width="4" fill="#c8e800"/><rect x="96" y="131" width="4" fill="#d1eb00"/><rect x="100" y="131" width="4" fill="#d3ec00"/><rect x="104" y="131" width="4" fill="#cdea00"/><rect x="108" y="131" width="4" fill="#bde400"/><rect x="112" y="131" width="4" fill="#a4d900"/><rect x="116" y="131" width="4" fill="#7fcb00"/><rect x="120" y="131" width="4" fill="#3bad00"/><rect x="124" y="131" width="4" fill="#00a001"/><rect x="128" y="131" width="4" fill="#0bb751"/><rect x="132" y="131" width="4" fill="#00d79b"/><rect x="136" y="131" width="4" fill="#00eeda"/><rect x="140" y="131" width="4" fill="#00cff1"/><rect x="144" y="131" width="4" fill="#00a4f5"/><rect x="148" y="131" width="4" fill="#0580f3"/><rect x="152" y="131" width="4" fill="#0866f1"/><rect x="156" y="131" width="4" fill="#0a56ef"/><rect x="160" y="131" width="4" fill="#0a4bee"/><rect x="164" y="131" width="4" fill="#0a45ed"/><rect x="168" y="131" width="8" fill="#0a42ed"/><rect x="176" y="131" width="4" fill="#0a44ed"/><rect x="180" y="131" width="4" fill="#0a48ed"/><rect x="184" y="131" width="4" fill="#0a4eee"/><rect x="188" y="131" width="4" fill="#0a54ef"/><rect x="192" y="131" width="4" fill="#0a5af0"/><rect x="196" y="131" width="4" fill="#0960f0"/><rect x="200" y="131" width="4" fill="#0866f1"/><rect x="204" y="131" width="4" fill="#076ef1"/><rect x="208" y="131" width="4" fill="#0676f2"/><rect x="212" y="131" width="4" fill="#0481f3"/><rect x="216" y="131" width="4" fill="#038df4"/><rect x="220" y="131" width="4" fill="#019af5"/><rect x="224" y="131" width="4" fill="#00a7f4"/><rect x="228" y="131" width="4" fill="#00b4f3"/><rect x="232" y="131" width="4" fill="#00c0f2"/><rect x="236" y="131" width="4" fill="#00cdf1"/><rect x="240" y="131" width="4" fill="#00d7ee"/><rect x="244" y="131" width="4" fill="#00e0e9"/><rect x="248" y="131" width="4" fill="#00e8e4"/><rect x="252" y="131" width="4" fill="#00f0df"/><rect x="256" y="131" width="4" fill="#00ebd2"/><rect x="260" y="131" width="4" fill="#00e7c6"/><rect x="264" y="131" width="4" fill="#00e4bb"/><rect x="268" y="131" width="4" fill="#00e0b1"/><rect x="272" y="131" width="4" fill="#00dca8"/><rect x="276" y="131" width="4" fill="#00d99f"/><rect x="280" y="131" width="4" fill="#00d596"/><rect x="284" y="131" width="4" fill="#00d18c"/><rect x="288" y="131" width="4" fill="#00cc82"/><rect x="292" y="131" width="4" fill="#00c878"/><rect x="296" y="131" width="4" fill="#03c46e"/><rect x="300" y="131" width="4" fill="#06c065"/><rect x="304" y="131" width="4" fill="#08bc5d"/><rect x="308" y="131" width="4" fill="#0ab956"/><rect x="312" y="131" width="4" fill="#0bb751"/><rect x="316" y="131" width="4" fill="#0db54b"/><rect x="320" y="131" width="4" fill="#0eb346"/><rect x="324" y="131" width="4" fill="#10b040"/><rect x="328" y="131" width="4" fill="#0eae38"/><rect x="332" y="131" width="4" fill="#0cac2f"/><rect x="336" y="131" width="4" fill="#0aaa27"/><rect x="340" y="131" width="4" fill="#07a71e"/><rect x="344" y="131" width="4" fill="#05a514"/><rect x="348" y="131" width="4" fill="#02a209"/><rect x="352" y="131" width="4" fill="#02a000"/><rect x="356" y="131" width="4" fill="#0da200"/><rect x="360" y="131" width="4" fill="#17a400"/><rect x="364" y="131" width="4" fill="#22a600"/><rect x="368" y="131" width="4" fill="#2ba700"/><rect x="372" y="131" width="4" fill="#33a900"/><rect x="376" y="131" width="4" fill="#3aac00"/><rect x="380" y="131" width="4" fill="#3faf00"/><rect x="384" y="131" width="4" fill="#42b000"/><rect x="388" y="131" width="4" fill="#43b000"/><rect x="36" y="135" width="4" fill="#1fa500"/><rect x="40" y="135" width="4" fill="#23a600"/><rect x="44" y="135" width="4" fill="#2aa700"/><rect x="48" y="135" width="4" fill="#36ab00"/><rect x="52" y="135" width="4" fill="#47b200"/><rect x="56" y="135" width="4" fill="#57b900"/><rect x="60" y="135" width="4" fill="#64bf00"/><rect x="64" y="135" width="4" fill="#6ec300"/><rect x="68" y="135" width="4" fill="#77c700"/><rect x="72" y="135" width="4" fill="#7eca00"/><rect x="76" y="135" width="4" fill="#87ce00"/><rect x="80" y="135" width="4" fill="#93d300"/><rect x="84" y="135" width="4" fill="#a1d900"/><rect x="88" y="135" width="4" fill="#b0de00"/><rect x="92" y="135" width="4" fill="#bce300"/><rect x="96" y="135" width="4" fill="#c4e600"/><rect x="100" y="135" width="4" fill="#c5e700"/><rect x="104" y="135" width="4" fill="#bfe500"/><rect x="108" y="135" width="4" fill="#b2df00"/><rect x="112" y="135" width="4" fill="#9cd600"/><rect x="116" y="135" width="4" fill="#7dca00"/><rect x="120" y="135" width="4" fill="#45b100"/><rect x="124" y="135" width="4" fill="#0ea200"/><rect x="128" y="135" width="4" fill="#0dad35"/><rect x="132" y="135" width="4" fill="#00c97a"/><rect x="136" y="135" width="4" fill="#00e3b9"/><rect x="140" y="135" width="4" fill="#00e8e4"/><rect x="144" y="135" width="4" fill="#00c9f1"/><rect x="148" y="135" width="4" fill="#00abf4"/><rect x="152" y="135" width="4" fill="#0294f4"/><rect x="156" y="135" width="4" fill="#0483f3"/><rect x="160" y="135" width="4" fill="#0677f2"/><rect x="164" y="135" width="4" fill="#076ef1"/><rect x="168" y="135" width="4" fill="#0867f1"/><rect x="172" y="135" width="4" fill="#0963f1"/><rect x="176" y="135" width="4" fill="#0961f0"/><rect x="180" y="135" width="4" fill="#0962f1"/><rect x="184" y="135" width="4" fill="#0964f1"/><rect x="188" y="135" width="4" fill="#0867f1"/><rect x="192" y="135" width="4" fill="#086bf1"/><rect x="196" y="135" width="4" fill="#076ff1"/><rect x="200" y="135" width="4" fill="#0673f2"/><rect x="204" y="135" width="4" fill="#0677f2"/><rect x="208" y="135" width="4" fill="#057df3"/><rect x="212" y="135" width="4" fill="#0485f3"/><rect x="216" y="135" width="4" fill="#0290f4"/><rect x="220" y="135" width="4" fill="#009df5"/><rect x="224" y="135" width="4" fill="#00aaf4"/><rect x="228" y="135" width="4" fill="#00b8f3"/><rect x="232" y="135" width="4" fill="#00c6f1"/><rect x="236" y="135" width="4" fill="#00d3f0"/><rect x="240" y="135" width="4" fill="#00dcec"/><rect x="244" y="135" width="4" fill="#00e4e7"/><rect x="248" y="135" width="4" fill="#00ece2"/><rect x="252" y="135" width="4" fill="#00eed9"/><rect x="256" y="135" width="4" fill="#00e9cc"/><rect x="260" y="135" width="4" fill="#00e5c0"/><rect x="264" y="135" width="4" fill="#00e2b5"/><rect x="268" y="135" width="4" fill="#00ddaa"/><rect x="272" y="135" width="4" fill="#00d9a0"/><rect x="276" y="135" width="4" fill="#00d596"/><rect x="280" y="135" width="4" fill="#00d18e"/><rect x="284" y="135" width="4" fill="#00cd85"/><rect x="288" y="135" width="4" fill="#00c97b"/><rect x="292" y="135" width="4" fill="#02c571"/><rect x="296" y="135" width="4" fill="#05c167"/><rect x="300" y="135" width="4" fill="#07bd5e"/><rect x="304" y="135" width="4" fill="#0ab956"/><rect x="308" y="135" width="4" fill="#0cb64f"/><rect x="312" y="135" width="4" fill="#0db449"/><rect x="316" y="135" width="4" fill="#0fb244"/><rect x="320" y="135" width="4" fill="#10b03f"/><rect x="324" y="135" width="4" fill="#0eae3a"/><rect x="328" y="135" width="4" fill="#0dad33"/><rect x="332" y="135" width="4" fill="#0bab2c"/><rect x="336" y="135" width="4" fill="#09a925"/><rect x="340" y="135" width="4" fill="#07a71d"/><rect x="344" y="135" width="4" fill="#05a514"/><rect x="348" y="135" width="4" fill="#03a30a"/><rect x="352" y="135" width="4" fill="#00a000"/><rect x="356" y="135" width="4" fill="#09a200"/><rect x="360" y="135" width="4" fill="#13a300"/><rect x="364" y="135" width="4" fill="#1ca500"/><rect x="368" y="135" width="4" fill="#24a600"/><rect x="372" y="135" width="4" fill="#2aa700"/><rect x="376" y="135" width="4" fill="#2fa800"/><rect x="380" y="135" width="4" fill="#35aa00"/><rect x="384" y="135" width="4" fill="#3bad00"/><rect x="388" y="135" width="4" fill="#3cad00"/><rect x="36" y="139" width="4" fill="#25a600"/><rect x="40" y="139" width="4" fill="#29a700"/><rect x="44" y="139" width="4" fill="#30a800"/><rect x="48" y="139" width="4" fill="#3faf00"/><rect x="52" y="139" width="4" fill="#4fb600"/><rect x="56" y="139" width="4" fill="#5ebd00"/><rect x="60" y="139" width="4" fill="#6bc200"/><rect x="64" y="139" width="4" fill="#75c700"/><rect x="68" y="139" width="4" fill="#7bc900"/><rect x="72" y="139" width="4" fill="#80cb00"/><rect x="76" y="139" width="4" fill="#87ce00"/><rect x="80" y="139" width="4" fill="#91d200"/><rect x="84" y="139" width="4" fill="#9cd600"/><rect x="88" y="139" width="4" fill="#a8db00"/><rect x="92" y="139" width="4" fill="#b2df00"/><rect x="96" y="139" width="4" fill="#b9e200"/><rect x="100" y="139" width="4" fill="#bbe300"/><rect x="104" y="139" width="4" fill="#b7e100"/><rect x="108" y="139" width="4" fill="#acdd00"/><rect x="112" y="139" width="4" fill="#9ad600"/><rect x="116" y="139" width="4" fill="#80cb00"/><rect x="120" y="139" width="4" fill="#4fb600"/><rect x="124" y="139" width="4" fill="#19a400"/><rect x="128" y="139" width="4" fill="#09a922"/><rect x="132" y="139" width="4" fill="#05c065"/><rect x="136" y="139" width="4" fill="#00daa2"/><rect x="140" y="139" width="4" fill="#00ebd2"/><rect x="144" y="139" width="4" fill="#00e0e9"/><rect x="148" y="139" width="4" fill="#00cbf1"/><rect x="152" y="139" width="4" fill="#00b8f3"/><rect x="156" y="139" width="4" fill="#00aaf4"/><rect x="160" y="139" width="4" fill="#009ff5"/><rect x="164" y="139" width="4" fill="#0294f4"/><rect x="168" y="139" width="4" fill="#038bf3"/><rect x="172" y="139" width="4" fill="#0483f3"/><rect x="176" y="139" width="4" fill="#057df2"/><rect x="180" y="139" width="4" fill="#057af2"/><rect x="184" y="139" width="4" fill="#0679f2"/><rect x="188" y="139" width="4" fill="#057af2"/><rect x="192" y="139" width="4" fill="#057cf2"/><rect x="196" y="139" width="4" fill="#057ef3"/><rect x="200" y="139" width="4" fill="#057ff3"/><rect x="204" y="139" width="4" fill="#0482f3"/><rect x="208" y="139" width="4" fill="#0485f3"/><rect x="212" y="139" width="4" fill="#038bf3"/><rect x="216" y="139" width="4" fill="#0294f4"/><rect x="220" y="139" width="4" fill="#00a1f5"/><rect x="224" y="139" width="4" fill="#00aef4"/><rect x="228" y="139" width="4" fill="#00bdf2"/><rect x="232" y="139" width="4" fill="#00ccf1"/><rect x="236" y="139" width="4" fill="#00d8ed"/><rect x="240" y="139" width="4" fill="#00e1e8"/><rect x="244" y="139" width="4" fill="#00e9e4"/><rect x="248" y="139" width="4" fill="#00efde"/><rect x="252" y="139" width="4" fill="#00ebd2"/><rect x="256" y="139" width="4" fill="#00e7c6"/><rect x="260" y="139" width="4" fill="#00e3ba"/><rect x="264" y="139" width="4" fill="#00dfaf"/><rect x="268" y="139" width="4" fill="#00daa3"/><rect x="272" y="139" width="4" fill="#00d698"/><rect x="276" y="139" width="4" fill="#00d28f"/><rect x="280" y="139" width="4" fill="#00ce86"/><rect x="284" y="139" width="4" fill="#00ca7d"/><rect x="288" y="139" width="4" fill="#01c674"/><rect x="292" y="139" width="4" fill="#04c26b"/><rect x="296" y="139" width="4" fill="#06be61"/><rect x="300" y="139" width="4" fill="#09ba58"/><rect x="304" y="139" width="4" fill="#0bb750"/><rect x="308" y="139" width="4" fill="#0db449"/><rect x="312" y="139" width="4" fill="#0fb143"/><rect x="316" y="139" width="4" fill="#0faf3e"/><rect x="320" y="139" width="4" fill="#0eae38"/><rect x="324" y="139" width="4" fill="#0dad33"/><rect x="328" y="139" width="4" fill="#0bab2e"/><rect x="332" y="139" width="4" fill="#0aaa28"/><rect x="336" y="139" width="4" fill="#08a821"/><rect x="340" y="139" width="4" fill="#06a61a"/><rect x="344" y="139" width="4" fill="#04a412"/><rect x="348" y="139" width="4" fill="#02a209"/><rect x="352" y="139" width="4" fill="#01a000"/><rect x="356" y="139" width="4" fill="#09a100"/><rect x="360" y="139" width="4" fill="#11a300"/><rect x="364" y="139" width="4" fill="#19a400"/><rect x="368" y="139" width="4" fill="#1fa500"/><rect x="372" y="139" width="4" fill="#26a600"/><rect x="376" y="139" width="4" fill="#2ba700"/><rect x="380" y="139" width="4" fill="#30a800"/><rect x="384" y="139" width="4" fill="#36ab00"/><rect x="388" y="139" width="4" fill="#37ab00"/><rect x="36" y="143" width="4" fill="#29a700"/><rect x="40" y="143" width="4" fill="#2da700"/><rect x="44" y="143" width="4" fill="#36ab00"/><rect x="48" y="143" width="4" fill="#44b100"/><rect x="52" y="143" width="4" fill="#54b800"/><rect x="56" y="143" width="4" fill="#63bf00"/><rect x="60" y="143" width="4" fill="#70c400"/><rect x="64" y="143" width="4" fill="#79c900"/><rect x="68" y="143" width="4" fill="#7ecb00"/><rect x="72" y="143" width="4" fill="#83cc00"/><rect x="76" y="143" width="4" fill="#88ce00"/><rect x="80" y="143" width="4" fill="#8ed100"/><rect x="84" y="143" width="4" fill="#97d400"/><rect x="88" y="143" width="4" fill="#9fd800"/><rect x="92" y="143" width="4" fill="#a8db00"/><rect x="96" y="143" width="4" fill="#aede00"/><rect x="100" y="143" width="4" fill="#b1df00"/><rect x="104" y="143" width="4" fill="#afde00"/><rect x="108" y="143" width="4" fill="#a8db00"/><rect x="112" y="143" width="4" fill="#99d500"/><rect x="116" y="143" width="4" fill="#81cc00"/><rect x="120" y="143" width="4" fill="#55b800"/><rect x="124" y="143" width="4" fill="#1ea500"/><rect x="128" y="143" width="4" fill="#06a619"/><rect x="132" y="143" width="4" fill="#09bb5a"/><rect x="136" y="143" width="4" fill="#00d493"/><rect x="140" y="143" width="4" fill="#00e6c2"/><rect x="144" y="143" width="4" fill="#00efe1"/><rect x="148" y="143" width="4" fill="#00dfea"/><rect x="152" y="143" width="4" fill="#00d5f0"/><rect x="156" y="143" width="4" fill="#00caf1"/><rect x="160" y="143" width="4" fill="#00c0f2"/><rect x="164" y="143" width="4" fill="#00b6f3"/><rect x="168" y="143" width="4" fill="#00acf4"/><rect x="172" y="143" width="4" fill="#00a2f5"/><rect x="176" y="143" width="4" fill="#0199f4"/><rect x="180" y="143" width="4" fill="#0292f4"/><rect x="184" y="143" width="4" fill="#038ef4"/><rect x="188" y="143" width="20" fill="#038df4"/><rect x="208" y="143" width="4" fill="#028ff4"/><rect x="212" y="143" width="4" fill="#0293f4"/><rect x="216" y="143" width="4" fill="#019bf5"/><rect x="220" y="143" width="4" fill="#00a7f4"/><rect x="224" y="143" width="4" fill="#00b5f3"/><rect x="228" y="143" width="4" fill="#00c5f1"/><rect x="232" y="143" width="4" fill="#00d5ef"/><rect x="236" y="143" width="4" fill="#00dfea"/><rect x="240" y="143" width="4" fill="#00e8e5"/><rect x="244" y="143" width="4" fill="#00efe0"/><rect x="248" y="143" width="4" fill="#00edd7"/><rect x="252" y="143" width="4" fill="#00e9cc"/><rect x="256" y="143" width="4" fill="#00e6c1"/><rect x="260" y="143" width="4" fill="#00e2b5"/><rect x="264" y="143" width="4" fill="#00dda9"/><rect x="268" y="143" width="4" fill="#00d89d"/><rect x="272" y="143" width="4" fill="#00d392"/><rect x="276" y="143" width="4" fill="#00cf89"/><rect x="280" y="143" width="4" fill="#00cb80"/><rect x="284" y="143" width="4" fill="#00c877"/><rect x="288" y="143" width="4" fill="#03c46f"/><rect x="292" y="143" width="4" fill="#05c066"/><rect x="296" y="143" width="4" fill="#08bc5d"/><rect x="300" y="143" width="4" fill="#0ab954"/><rect x="304" y="143" width="4" fill="#0db54c"/><rect x="308" y="143" width="4" fill="#0fb245"/><rect x="312" y="143" width="4" fill="#10b03e"/><rect x="316" y="143" width="4" fill="#0eae38"/><rect x="320" y="143" width="4" fill="#0dad33"/><rect x="324" y="143" width="4" fill="#0bab2e"/><rect x="328" y="143" width="4" fill="#0aaa28"/><rect x="332" y="143" width="4" fill="#09a923"/><rect x="336" y="143" width="4" fill="#07a71d"/><rect x="340" y="143" width="4" fill="#06a616"/><rect x="344" y="143" width="4" fill="#04a40e"/><rect x="348" y="143" width="4" fill="#01a106"/><rect x="352" y="143" width="4" fill="#02a000"/><rect x="356" y="143" width="4" fill="#09a200"/><rect x="360" y="143" width="4" fill="#10a300"/><rect x="364" y="143" width="4" fill="#17a400"/><rect x="368" y="143" width="4" fill="#1da500"/><rect x="372" y="143" width="4" fill="#22a600"/><rect x="376" y="143" width="4" fill="#27a700"/><rect x="380" y="143" width="4" fill="#2ca700"/><rect x="384" y="143" width="4" fill="#31a800"/><rect x="388" y="143" width="4" fill="#32a900"/><rect x="36" y="147" width="4" fill="#2ba700"/><rect x="40" y="147" width="4" fill="#2fa800"/><rect x="44" y="147" width="4" fill="#39ac00"/><rect x="48" y="147" width="4" fill="#47b200"/><rect x="52" y="147" width="4" fill="#56b900"/><rect x="56" y="147" width="4" fill="#65c000"/><rect x="60" y="147" width="4" fill="#72c500"/><rect x="64" y="147" width="4" fill="#7bc900"/><rect x="68" y="147" width="4" fill="#80cb00"/><rect x="72" y="147" width="4" fill="#84cd00"/><rect x="76" y="147" width="4" fill="#87ce00"/><rect x="80" y="147" width="4" fill="#8cd000"/><rect x="84" y="147" width="4" fill="#91d200"/><rect x="88" y="147" width="4" fill="#97d400"/><rect x="92" y="147" width="4" fill="#9dd700"/><rect x="96" y="147" width="4" fill="#a2d900"/><rect x="100" y="147" width="8" fill="#a6da00"/><rect x="108" y="147" width="4" fill="#a1d800"/><rect x="112" y="147" width="4" fill="#95d300"/><rect x="116" y="147" width="4" fill="#7fcb00"/><rect x="120" y="147" width="4" fill="#53b800"/><rect x="124" y="147" width="4" fill="#1ea500"/><rect x="128" y="147" width="4" fill="#06a617"/><rect x="132" y="147" width="4" fill="#0aba56"/><rect x="136" y="147" width="4" fill="#00d08c"/><rect x="140" y="147" width="4" fill="#00e2b7"/><rect x="144" y="147" width="4" fill="#00ecd3"/><rect x="148" y="147" width="4" fill="#00ede2"/><rect x="152" y="147" width="4" fill="#00e5e6"/><rect x="156" y="147" width="4" fill="#00e0e9"/><rect x="160" y="147" width="4" fill="#00daec"/><rect x="164" y="147" width="4" fill="#00d4f0"/><rect x="168" y="147" width="4" fill="#00c8f1"/><rect x="172" y="147" width="4" fill="#00bdf2"/><rect x="176" y="147" width="4" fill="#00b2f3"/><rect x="180" y="147" width="4" fill="#00aaf4"/><rect x="184" y="147" width="4" fill="#00a4f5"/><rect x="188" y="147" width="4" fill="#00a1f5"/><rect x="192" y="147" width="4" fill="#009ff5"/><rect x="196" y="147" width="4" fill="#009ef5"/><rect x="200" y="147" width="4" fill="#009df5"/><rect x="204" y="147" width="8" fill="#019cf5"/><rect x="212" y="147" width="4" fill="#009ff5"/><rect x="216" y="147" width="4" fill="#00a6f4"/><rect x="220" y="147" width="4" fill="#00b1f3"/><rect x="224" y="147" width="4" fill="#00bff2"/><rect x="228" y="147" width="4" fill="#00d0f0"/><rect x="232" y="147" width="4" fill="#00dceb"/><rect x="236" y="147" width="4" fill="#00e6e6"/><rect x="240" y="147" width="4" fill="#00efe1"/><rect x="244" y="147" width="4" fill="#00edd8"/><rect x="248" y="147" width="4" fill="#00eacf"/><rect x="252" y="147" width="4" fill="#00e7c5"/><rect x="256" y="147" width="4" fill="#00e4bb"/><rect x="260" y="147" width="4" fill="#00e0b0"/><rect x="264" y="147" width="4" fill="#00dba4"/><rect x="268" y="147" width="4" fill="#00d698"/><rect x="272" y="147" width="4" fill="#00d18d"/><rect x="276" y="147" width="4" fill="#00cd83"/><rect x="280" y="147" width="4" fill="#00c97b"/><rect x="284" y="147" width="4" fill="#02c672"/><rect x="288" y="147" width="4" fill="#04c26a"/><rect x="292" y="147" width="4" fill="#06be62"/><rect x="296" y="147" width="4" fill="#09bb59"/><rect x="300" y="147" width="4" fill="#0bb751"/><rect x="304" y="147" width="4" fill="#0db449"/><rect x="308" y="147" width="4" fill="#10b142"/><rect x="312" y="147" width="4" fill="#0faf3b"/><rect x="316" y="147" width="4" fill="#0dad34"/><rect x="320" y="147" width="4" fill="#0cac2e"/><rect x="324" y="147" width="4" fill="#0aaa29"/><rect x="328" y="147" width="4" fill="#09a924"/><rect x="332" y="147" width="4" fill="#08a81e"/><rect x="336" y="147" width="4" fill="#06a618"/><rect x="340" y="147" width="4" fill="#04a412"/><rect x="344" y="147" width="4" fill="#03a30b"/><rect x="348" y="147" width="4" fill="#01a103"/><rect x="352" y="147" width="4" fill="#04a100"/><rect x="356" y="147" width="4" fill="#0aa200"/><rect x="360" y="147" width="4" fill="#10a300"/><rect x="364" y="147" width="4" fill="#15a400"/><rect x="368" y="147" width="4" fill="#1aa400"/><rect x="372" y="147" width="4" fill="#1fa500"/><rect x="376" y="147" width="4" fill="#24a600"/><rect x="380" y="147" width="4" fill="#28a700"/><rect x="384" y="147" width="4" fill="#2da800"/><rect x="388" y="147" width="4" fill="#2ea800"/><rect x="36" y="151" width="4" fill="#2da700"/><rect x="40" y="151" width="4" fill="#31a800"/><rect x="44" y="151" width="4" fill="#3aad00"/><rect x="48" y="151" width="4" fill="#47b200"/><rect x="52" y="151" width="4" fill="#55b800"/><rect x="56" y="151" width="4" fill="#63bf00"/><rect x="60" y="151" width="4" fill="#70c400"/><rect x="64" y="151" width="4" fill="#7ac900"/><rect x="68" y="151" width="4" fill="#7fcb00"/><rect x="72" y="151" width="4" fill="#83cc00"/><rect x="76" y="151" width="4" fill="#85cd00"/><rect x="80" y="151" width="4" fill="#88ce00"/><rect x="84" y="151" width="4" fill="#8acf00"/><rect x="88" y="151" width="4" fill="#8ed100"/><rect x="92" y="151" width="4" fill="#92d200"/><rect x="96" y="151" width="4" fill="#96d400"/><rect x="100" y="151" width="4" fill="#99d500"/><rect x="104" y="151" width="4" fill="#9ad600"/><rect x="108" y="151" width="4" fill="#97d400"/><rect x="112" y="151" width="4" fill="#8cd000"/><rect x="116" y="151" width="4" fill="#78c800"/><rect x="120" y="151" width="4" fill="#4ab400"/><rect x="124" y="151" width="4" fill="#19a400"/><rect x="128" y="151" width="4" fill="#07a71b"/><rect x="132" y="151" width="4" fill="#0aba57"/><rect x="136" y="151" width="4" fill="#00cf88"/><rect x="140" y="151" width="4" fill="#00e0af"/><rect x="144" y="151" width="4" fill="#00e7c6"/><rect x="148" y="151" width="4" fill="#00ecd4"/><rect x="152" y="151" width="4" fill="#00efdc"/><rect x="156" y="151" width="4" fill="#00efe0"/><rect x="160" y="151" width="4" fill="#00ebe3"/><rect x="164" y="151" width="4" fill="#00e5e6"/><rect x="168" y="151" width="4" fill="#00deea"/><rect x="172" y="151" width="4" fill="#00d5ef"/><rect x="176" y="151" width="4" fill="#00caf1"/><rect x="180" y="151" width="4" fill="#00bff2"/><rect x="184" y="151" width="4" fill="#00b8f3"/><rect x="188" y="151" width="4" fill="#00b3f3"/><rect x="192" y="151" width="4" fill="#00b0f3"/><rect x="196" y="151" width="4" fill="#00aff4"/><rect x="200" y="151" width="4" fill="#00adf4"/><rect x="204" y="151" width="8" fill="#00acf4"/><rect x="212" y="151" width="4" fill="#00aef4"/><rect x="216" y="151" width="4" fill="#00b3f3"/><rect x="220" y="151" width="4" fill="#00bef2"/><rect x="224" y="151" width="4" fill="#00ccf1"/><rect x="228" y="151" width="4" fill="#00d9ed"/><rect x="232" y="151" width="4" fill="#00e4e7"/><rect x="236" y="151" width="4" fill="#00eee1"/><rect x="240" y="151" width="4" fill="#00edd8"/><rect x="244" y="151" width="4" fill="#00eace"/><rect x="248" y="151" width="4" fill="#00e7c6"/><rect x="252" y="151" width="4" fill="#00e5be"/><rect x="256" y="151" width="4" fill="#00e2b5"/><rect x="260" y="151" width="4" fill="#00deab"/><rect x="264" y="151" width="4" fill="#00d99f"/><rect x="268" y="151" width="4" fill="#00d493"/><rect x="272" y="151" width="4" fill="#00cf89"/><rect x="276" y="151" width="4" fill="#00cb7f"/><rect x="280" y="151" width="4" fill="#00c777"/><rect x="284" y="151" width="4" fill="#03c46f"/><rect x="288" y="151" width="4" fill="#05c066"/><rect x="292" y="151" width="4" fill="#07bd5e"/><rect x="296" y="151" width="4" fill="#0aba56"/><rect x="300" y="151" width="4" fill="#0cb64e"/><rect x="304" y="151" width="4" fill="#0eb347"/><rect x="308" y="151" width="4" fill="#10b03f"/><rect x="312" y="151" width="4" fill="#0eae38"/><rect x="316" y="151" width="4" fill="#0cac32"/><rect x="320" y="151" width="4" fill="#0bab2b"/><rect x="324" y="151" width="4" fill="#09a926"/><rect x="328" y="151" width="4" fill="#08a820"/><rect x="332" y="151" width="4" fill="#07a71a"/><rect x="336" y="151" width="4" fill="#05a514"/><rect x="340" y="151" width="4" fill="#03a30e"/><rect x="344" y="151" width="4" fill="#02a207"/><rect x="348" y="151" width="4" fill="#00a000"/><rect x="352" y="151" width="4" fill="#05a100"/><rect x="356" y="151" width="4" fill="#0ba200"/><rect x="360" y="151" width="4" fill="#0fa300"/><rect x="364" y="151" width="4" fill="#14a300"/><rect x="368" y="151" width="4" fill="#18a400"/><rect x="372" y="151" width="4" fill="#1ca500"/><rect x="376" y="151" width="4" fill="#20a500"/><rect x="380" y="151" width="4" fill="#24a600"/><rect x="384" y="151" width="4" fill="#29a700"/><rect x="388" y="151" width="4" fill="#2aa700"/><rect x="36" y="155" width="4" fill="#2ea800"/><rect x="40" y="155" width="4" fill="#32a900"/><rect x="44" y="155" width="4" fill="#3aac00"/><rect x="48" y="155" width="4" fill="#45b100"/><rect x="52" y="155" width="4" fill="#52b700"/><rect x="56" y="155" width="4" fill="#5fbd00"/><rect x="60" y="155" width="4" fill="#6bc200"/><rect x="64" y="155" width="4" fill="#75c700"/><rect x="68" y="155" width="4" fill="#7bc900"/><rect x="72" y="155" width="4" fill="#7fcb00"/><rect x="76" y="155" width="4" fill="#81cc00"/><rect x="80" y="155" width="4" fill="#82cc00"/><rect x="84" y="155" width="4" fill="#83cc00"/><rect x="88" y="155" width="4" fill="#84cd00"/><rect x="92" y="155" width="4" fill="#86ce00"/><rect x="96" y="155" width="4" fill="#88cf00"/><rect x="100" y="155" width="4" fill="#8bd000"/><rect x="104" y="155" width="4" fill="#8cd000"/><rect x="108" y="155" width="4" fill="#89cf00"/><rect x="112" y="155" width="4" fill="#7fcb00"/><rect x="116" y="155" width="4" fill="#67c000"/><rect x="120" y="155" width="4" fill="#3cad00"/><rect x="124" y="155" width="4" fill="#12a300"/><rect x="128" y="155" width="4" fill="#08a821"/><rect x="132" y="155" width="4" fill="#09ba58"/><rect x="136" y="155" width="4" fill="#00cd85"/><rect x="140" y="155" width="4" fill="#00dca7"/><rect x="144" y="155" width="4" fill="#00e4bc"/><rect x="148" y="155" width="4" fill="#00e7c6"/><rect x="152" y="155" width="4" fill="#00e9cb"/><rect x="156" y="155" width="4" fill="#00eace"/><rect x="160" y="155" width="4" fill="#00ebd2"/><rect x="164" y="155" width="4" fill="#00eed9"/><rect x="168" y="155" width="4" fill="#00eee1"/><rect x="172" y="155" width="4" fill="#00e5e6"/><rect x="176" y="155" width="4" fill="#00dceb"/><rect x="180" y="155" width="4" fill="#00d5f0"/><rect x="184" y="155" width="4" fill="#00ccf1"/><rect x="188" y="155" width="4" fill="#00c7f1"/><rect x="192" y="155" width="4" fill="#00c3f2"/><rect x="196" y="155" width="4" fill="#00c1f2"/><rect x="200" y="155" width="4" fill="#00c0f2"/><rect x="204" y="155" width="8" fill="#00bef2"/><rect x="212" y="155" width="4" fill="#00bff2"/><rect x="216" y="155" width="4" fill="#00c4f2"/><rect x="220" y="155" width="4" fill="#00cef1"/><rect x="224" y="155" width="4" fill="#00d9ed"/><rect x="228" y="155" width="4" fill="#00e3e8"/><rect x="232" y="155" width="4" fill="#00ede2"/><rect x="236" y="155" width="4" fill="#00edd8"/><rect x="240" y="155" width="4" fill="#00eace"/><rect x="244" y="155" width="4" fill="#00e7c6"/><rect x="248" y="155" width="4" fill="#00e5be"/><rect x="252" y="155" width="4" fill="#00e2b7"/><rect x="256" y="155" width="4" fill="#00e0af"/><rect x="260" y="155" width="4" fill="#00dba5"/><rect x="264" y="155" width="4" fill="#00d79a"/><rect x="268" y="155" width="4" fill="#00d28f"/><rect x="272" y="155" width="4" fill="#00ce85"/><rect x="276" y="155" width="4" fill="#00ca7c"/><rect x="280" y="155" width="4" fill="#01c674"/><rect x="284" y="155" width="4" fill="#04c36b"/><rect x="288" y="155" width="4" fill="#06bf64"/><rect x="292" y="155" width="4" fill="#08bc5c"/><rect x="296" y="155" width="4" fill="#0ab854"/><rect x="300" y="155" width="4" fill="#0db54c"/><rect x="304" y="155" width="4" fill="#0fb245"/><rect x="308" y="155" width="4" fill="#0faf3e"/><rect x="312" y="155" width="4" fill="#0eae37"/><rect x="316" y="155" width="4" fill="#0cac30"/><rect x="320" y="155" width="4" fill="#0aaa29"/><rect x="324" y="155" width="4" fill="#09a923"/><rect x="328" y="155" width="4" fill="#07a71d"/><rect x="332" y="155" width="4" fill="#06a617"/><rect x="336" y="155" width="4" fill="#04a411"/><rect x="340" y="155" width="4" fill="#03a30a"/><rect x="344" y="155" width="4" fill="#01a104"/><rect x="348" y="155" width="4" fill="#02a000"/><rect x="352" y="155" width="4" fill="#06a100"/><rect x="356" y="155" width="4" fill="#0ba200"/><rect x="360" y="155" width="4" fill="#0ea200"/><rect x="364" y="155" width="4" fill="#12a300"/><rect x="368" y="155" width="4" fill="#15a300"/><rect x="372" y="155" width="4" fill="#18a400"/><rect x="376" y="155" width="4" fill="#1ca500"/><rect x="380" y="155" width="4" fill="#20a500"/><rect x="384" y="155" width="4" fill="#25a600"/><rect x="388" y="155" width="4" fill="#26a600"/><rect x="36" y="159" width="4" fill="#2ea800"/><rect x="40" y="159" width="4" fill="#32a900"/><rect x="44" y="159" width="4" fill="#39ac00"/><rect x="48" y="159" width="4" fill="#42b000"/><rect x="52" y="159" width="4" fill="#4db500"/><rect x="56" y="159" width="4" fill="#59ba00"/><rect x="60" y="159" width="4" fill="#64bf00"/><rect x="64" y="159" width="4" fill="#6dc300"/><rect x="68" y="159" width="4" fill="#75c700"/><rect x="72" y="159" width="4" fill="#79c800"/><rect x="76" y="159" width="12" fill="#7bc900"/><rect x="88" y="159" width="4" fill="#7ac900"/><rect x="92" y="159" width="4" fill="#7bc900"/><rect x="96" y="159" width="4" fill="#7cc900"/><rect x="100" y="159" width="8" fill="#7dca00"/><rect x="108" y="159" width="4" fill="#7ac900"/><rect x="112" y="159" width="4" fill="#6dc300"/><rect x="116" y="159" width="4" fill="#53b800"/><rect x="120" y="159" width="4" fill="#2da700"/><rect x="124" y="159" width="4" fill="#0aa200"/><rect x="128" y="159" width="4" fill="#0aaa26"/><rect x="132" y="159" width="4" fill="#09ba57"/><rect x="136" y="159" width="4" fill="#00cb7f"/><rect x="140" y="159" width="4" fill="#00d89d"/><rect x="144" y="159" width="4" fill="#00e0b0"/><rect x="148" y="159" width="4" fill="#00e3b9"/><rect x="152" y="159" width="4" fill="#00e4bc"/><rect x="156" y="159" width="4" fill="#00e5be"/><rect x="160" y="159" width="4" fill="#00e5c0"/><rect x="164" y="159" width="4" fill="#00e7c6"/><rect x="168" y="159" width="4" fill="#00ebd0"/><rect x="172" y="159" width="4" fill="#00eedb"/><rect x="176" y="159" width="4" fill="#00ebe3"/><rect x="180" y="159" width="4" fill="#00e3e7"/><rect x="184" y="159" width="4" fill="#00ddeb"/><rect x="188" y="159" width="4" fill="#00d9ed"/><rect x="192" y="159" width="4" fill="#00d7ef"/><rect x="196" y="159" width="4" fill="#00d5ef"/><rect x="200" y="159" width="4" fill="#00d4f0"/><rect x="204" y="159" width="8" fill="#00d2f0"/><rect x="212" y="159" width="4" fill="#00d3f0"/><rect x="216" y="159" width="4" fill="#00d6ef"/><rect x="220" y="159" width="4" fill="#00dceb"/><rect x="224" y="159" width="4" fill="#00e4e7"/><rect x="228" y="159" width="4" fill="#00ede2"/><rect x="232" y="159" width="4" fill="#00edd8"/><rect x="236" y="159" width="4" fill="#00eacd"/><rect x="240" y="159" width="4" fill="#00e7c4"/><rect x="244" y="159" width="4" fill="#00e4bd"/><rect x="248" y="159" width="4" fill="#00e2b7"/><rect x="252" y="159" width="4" fill="#00e0b1"/><rect x="256" y="159" width="4" fill="#00dda8"/><rect x="260" y="159" width="4" fill="#00d99f"/><rect x="264" y="159" width="4" fill="#00d595"/><rect x="268" y="159" width="4" fill="#00d08c"/><rect x="272" y="159" width="4" fill="#00cc82"/><rect x="276" y="159" width="4" fill="#00c979"/><rect x="280" y="159" width="4" fill="#02c571"/><rect x="284" y="159" width="4" fill="#04c269"/><rect x="288" y="159" width="4" fill="#07be61"/><rect x="292" y="159" width="4" fill="#09bb59"/><rect x="296" y="159" width="4" fill="#0bb852"/><rect x="300" y="159" width="4" fill="#0db44a"/><rect x="304" y="159" width="4" fill="#0fb143"/><rect x="308" y="159" width="4" fill="#0faf3c"/><rect x="312" y="159" width="4" fill="#0dad35"/><rect x="316" y="159" width="4" fill="#0cac2f"/><rect x="320" y="159" width="4" fill="#0aaa28"/><rect x="324" y="159" width="4" fill="#08a822"/><rect x="328" y="159" width="4" fill="#07a71b"/><rect x="332" y="159" width="4" fill="#05a515"/><rect x="336" y="159" width="4" fill="#04a40e"/><rect x="340" y="159" width="4" fill="#02a208"/><rect x="344" y="159" width="4" fill="#00a002"/><rect x="348" y="159" width="4" fill="#03a100"/><rect x="352" y="159" width="4" fill="#07a100"/><rect x="356" y="159" width="4" fill="#0aa200"/><rect x="360" y="159" width="4" fill="#0da200"/><rect x="364" y="159" width="4" fill="#0fa300"/><rect x="368" y="159" width="4" fill="#11a300"/><rect x="372" y="159" width="4" fill="#14a300"/><rect x="376" y="159" width="4" fill="#17a400"/><rect x="380" y="159" width="4" fill="#1ba500"/><rect x="384" y="159" width="4" fill="#20a500"/><rect x="388" y="159" width="4" fill="#21a500"/><rect x="36" y="163" width="4" fill="#2fa800"/><rect x="40" y="163" width="4" fill="#32a900"/><rect x="44" y="163" width="4" fill="#38ab00"/><rect x="48" y="163" width="4" fill="#3faf00"/><rect x="52" y="163" width="4" fill="#48b300"/><rect x="56" y="163" width="4" fill="#52b700"/><rect x="60" y="163" width="4" fill="#5bbb00"/><rect x="64" y="163" width="4" fill="#64bf00"/><rect x="68" y="163" width="4" fill="#6bc200"/><rect x="72" y="163" width="4" fill="#6fc400"/><rect x="76" y="163" width="8" fill="#72c500"/><rect x="84" y="163" width="4" fill="#70c500"/><rect x="88" y="163" width="4" fill="#6fc400"/><rect x="92" y="163" width="12" fill="#6dc300"/><rect x="104" y="163" width="4" fill="#6bc200"/><rect x="108" y="163" width="4" fill="#65c000"/><rect x="112" y="163" width="4" fill="#58ba00"/><rect x="116" y="163" width="4" fill="#3faf00"/><rect x="120" y="163" width="4" fill="#22a600"/><rect x="124" y="163" width="4" fill="#04a100"/><rect x="128" y="163" width="4" fill="#0aaa28"/><rect x="132" y="163" width="4" fill="#0bb853"/><rect x="136" y="163" width="4" fill="#01c775"/><rect x="140" y="163" width="4" fill="#00d290"/><rect x="144" y="163" width="4" fill="#00d9a1"/><rect x="148" y="163" width="4" fill="#00ddaa"/><rect x="152" y="163" width="4" fill="#00dfad"/><rect x="156" y="163" width="4" fill="#00e0af"/><rect x="160" y="163" width="4" fill="#00e1b2"/><rect x="164" y="163" width="4" fill="#00e2b6"/><rect x="168" y="163" width="4" fill="#00e5be"/><rect x="172" y="163" width="4" fill="#00e8c8"/><rect x="176" y="163" width="4" fill="#00ecd3"/><rect x="180" y="163" width="4" fill="#00efdd"/><rect x="184" y="163" width="4" fill="#00ece2"/><rect x="188" y="163" width="4" fill="#00e8e5"/><rect x="192" y="163" width="4" fill="#00e5e6"/><rect x="196" y="163" width="4" fill="#00e3e7"/><rect x="200" y="163" width="4" fill="#00e2e8"/><rect x="204" y="163" width="8" fill="#00e1e9"/><rect x="212" y="163" width="4" fill="#00e2e8"/><rect x="216" y="163" width="4" fill="#00e4e7"/><rect x="220" y="163" width="4" fill="#00e9e4"/><rect x="224" y="163" width="4" fill="#00efe1"/><rect x="228" y="163" width="4" fill="#00edd7"/><rect x="232" y="163" width="4" fill="#00eacd"/><rect x="236" y="163" width="4" fill="#00e7c4"/><rect x="240" y="163" width="4" fill="#00e4bc"/><rect x="244" y="163" width="4" fill="#00e2b6"/><rect x="248" y="163" width="4" fill="#00e0b0"/><rect x="252" y="163" width="4" fill="#00dda9"/><rect x="256" y="163" width="4" fill="#00daa1"/><rect x="260" y="163" width="4" fill="#00d699"/><rect x="264" y="163" width="4" fill="#00d290"/><rect x="268" y="163" width="4" fill="#00cf88"/><rect x="272" y="163" width="4" fill="#00cb7f"/><rect x="276" y="163" width="4" fill="#00c877"/><rect x="280" y="163" width="4" fill="#03c46f"/><rect x="284" y="163" width="4" fill="#05c167"/><rect x="288" y="163" width="4" fill="#07bd5f"/><rect x="292" y="163" width="4" fill="#09ba57"/><rect x="296" y="163" width="4" fill="#0cb750"/><rect x="300" y="163" width="4" fill="#0eb448"/><rect x="304" y="163" width="4" fill="#0fb142"/><rect x="308" y="163" width="4" fill="#0faf3b"/><rect x="312" y="163" width="4" fill="#0dad35"/><rect x="316" y="163" width="4" fill="#0cac2e"/><rect x="320" y="163" width="4" fill="#0aaa27"/><rect x="324" y="163" width="4" fill="#08a821"/><rect x="328" y="163" width="4" fill="#06a61a"/><rect x="332" y="163" width="4" fill="#05a513"/><rect x="336" y="163" width="4" fill="#03a30c"/><rect x="340" y="163" width="4" fill="#01a106"/><rect x="344" y="163" width="4" fill="#00a000"/><rect x="348" y="163" width="4" fill="#03a100"/><rect x="352" y="163" width="4" fill="#06a100"/><rect x="356" y="163" width="4" fill="#09a100"/><rect x="360" y="163" width="4" fill="#0aa200"/><rect x="364" y="163" width="4" fill="#0ca200"/><rect x="368" y="163" width="4" fill="#0da200"/><rect x="372" y="163" width="4" fill="#10a300"/><rect x="376" y="163" width="4" fill="#12a300"/><rect x="380" y="163" width="4" fill="#16a400"/><rect x="384" y="163" width="4" fill="#1ba400"/><rect x="388" y="163" width="4" fill="#1ca500"/><rect x="36" y="167" width="4" fill="#30a800"/><rect x="40" y="167" width="4" fill="#32a900"/><rect x="44" y="167" width="4" fill="#36ab00"/><rect x="48" y="167" width="4" fill="#3cad00"/><rect x="52" y="167" width="4" fill="#43b000"/><rect x="56" y="167" width="4" fill="#4ab400"/><rect x="60" y="167" width="4" fill="#52b700"/><rect x="64" y="167" width="4" fill="#5aba00"/><rect x="68" y="167" width="4" fill="#60bd00"/><rect x="72" y="167" width="4" fill="#64bf00"/><rect x="76" y="167" width="4" fill="#67c000"/><rect x="80" y="167" width="4" fill="#67c100"/><rect x="84" y="167" width="4" fill="#66c000"/><rect x="88" y="167" width="4" fill="#64bf00"/><rect x="92" y="167" width="4" fill="#62be00"/><rect x="96" y="167" width="4" fill="#60bd00"/><rect x="100" y="167" width="4" fill="#5dbc00"/><rect x="104" y="167" width="4" fill="#5abb00"/><rect x="108" y="167" width="4" fill="#52b700"/><rect x="112" y="167" width="4" fill="#45b100"/><rect x="116" y="167" width="4" fill="#2fa800"/><rect x="120" y="167" width="4" fill="#1ba400"/><rect x="124" y="167" width="4" fill="#01a000"/><rect x="128" y="167" width="4" fill="#09a925"/><rect x="132" y="167" width="4" fill="#0db44a"/><rect x="136" y="167" width="4" fill="#05c168"/><rect x="140" y="167" width="4" fill="#00cb7f"/><rect x="144" y="167" width="4" fill="#00d28f"/><rect x="148" y="167" width="4" fill="#00d698"/><rect x="152" y="167" width="4" fill="#00d89d"/><rect x="156" y="167" width="4" fill="#00d99f"/><rect x="160" y="167" width="4" fill="#00daa2"/><rect x="164" y="167" width="4" fill="#00dca7"/><rect x="168" y="167" width="4" fill="#00e0af"/><rect x="172" y="167" width="4" fill="#00e2b7"/><rect x="176" y="167" width="4" fill="#00e5c0"/><rect x="180" y="167" width="4" fill="#00e8c9"/><rect x="184" y="167" width="4" fill="#00ebd1"/><rect x="188" y="167" width="4" fill="#00edd7"/><rect x="192" y="167" width="4" fill="#00eedb"/><rect x="196" y="167" width="4" fill="#00efde"/><rect x="200" y="167" width="4" fill="#00f0e0"/><rect x="204" y="167" width="8" fill="#00efe1"/><rect x="212" y="167" width="4" fill="#00f0e0"/><rect x="216" y="167" width="4" fill="#00efdd"/><rect x="220" y="167" width="4" fill="#00edd8"/><rect x="224" y="167" width="4" fill="#00ebd1"/><rect x="228" y="167" width="4" fill="#00e8c9"/><rect x="232" y="167" width="4" fill="#00e6c2"/><rect x="236" y="167" width="4" fill="#00e4bb"/><rect x="240" y="167" width="4" fill="#00e2b5"/><rect x="244" y="167" width="4" fill="#00e0b0"/><rect x="248" y="167" width="4" fill="#00dda9"/><rect x="252" y="167" width="4" fill="#00daa2"/><rect x="256" y="167" width="4" fill="#00d79b"/><rect x="260" y="167" width="4" fill="#00d493"/><rect x="264" y="167" width="4" fill="#00d08c"/><rect x="268" y="167" width="4" fill="#00cd84"/><rect x="272" y="167" width="4" fill="#00ca7d"/><rect x="276" y="167" width="4" fill="#01c775"/><rect x="280" y="167" width="4" fill="#03c46e"/><rect x="284" y="167" width="4" fill="#05c066"/><rect x="288" y="167" width="4" fill="#08bd5d"/><rect x="292" y="167" width="4" fill="#0ab955"/><rect x="296" y="167" width="4" fill="#0cb64e"/><rect x="300" y="167" width="4" fill="#0eb347"/><rect x="304" y="167" width="4" fill="#10b041"/><rect x="308" y="167" width="4" fill="#0faf3a"/><rect x="312" y="167" width="4" fill="#0dad34"/><rect x="316" y="167" width="4" fill="#0cac2e"/><rect x="320" y="167" width="4" fill="#0aaa27"/><rect x="324" y="167" width="4" fill="#08a820"/><rect x="328" y="167" width="4" fill="#06a619"/><rect x="332" y="167" width="4" fill="#04a412"/><rect x="336" y="167" width="4" fill="#03a30b"/><rect x="340" y="167" width="4" fill="#01a105"/><rect x="344" y="167" width="4" fill="#00a000"/><rect x="348" y="167" width="4" fill="#03a100"/><rect x="352" y="167" width="4" fill="#05a100"/><rect x="356" y="167" width="4" fill="#06a100"/><rect x="360" y="167" width="4" fill="#07a100"/><rect x="364" y="167" width="4" fill="#08a100"/><rect x="368" y="167" width="4" fill="#09a100"/><rect x="372" y="167" width="4" fill="#0ba200"/><rect x="376" y="167" width="4" fill="#0da200"/><rect x="380" y="167" width="4" fill="#11a300"/><rect x="384" y="167" width="4" fill="#16a400"/><rect x="388" y="167" width="4" fill="#17a400"/><rect x="36" y="171" width="4" fill="#30a800"/><rect x="40" y="171" width="4" fill="#32a900"/><rect x="44" y="171" width="4" fill="#35aa00"/><rect x="48" y="171" width="4" fill="#39ac00"/><rect x="52" y="171" width="4" fill="#3eae00"/><rect x="56" y="171" width="4" fill="#43b100"/><rect x="60" y="171" width="4" fill="#49b300"/><rect x="64" y="171" width="4" fill="#50b600"/><rect x="68" y="171" width="4" fill="#55b900"/><rect x="72" y="171" width="4" fill="#5abb00"/><rect x="76" y="171" width="4" fill="#5dbc00"/><rect x="80" y="171" width="8" fill="#5ebc00"/><rect x="88" y="171" width="4" fill="#5cbb00"/><rect x="92" y="171" width="4" fill="#59ba00"/><rect x="96" y="171" width="4" fill="#56b900"/><rect x="100" y="171" width="4" fill="#52b700"/><rect x="104" y="171" width="4" fill="#4db500"/><rect x="108" y="171" width="4" fill="#44b100"/><rect x="112" y="171" width="4" fill="#37ab00"/><rect x="116" y="171" width="4" fill="#28a700"/><rect x="120" y="171" width="4" fill="#16a400"/><rect x="124" y="171" width="4" fill="#01a000"/><rect x="128" y="171" width="4" fill="#08a81f"/><rect x="132" y="171" width="4" fill="#10b03f"/><rect x="136" y="171" width="4" fill="#09ba58"/><rect x="140" y="171" width="4" fill="#03c36d"/><rect x="144" y="171" width="4" fill="#00ca7c"/><rect x="148" y="171" width="4" fill="#00ce86"/><rect x="152" y="171" width="4" fill="#00d18c"/><rect x="156" y="171" width="4" fill="#00d290"/><rect x="160" y="171" width="4" fill="#00d494"/><rect x="164" y="171" width="4" fill="#00d699"/><rect x="168" y="171" width="4" fill="#00d9a0"/><rect x="172" y="171" width="4" fill="#00dca7"/><rect x="176" y="171" width="4" fill="#00e0b0"/><rect x="180" y="171" width="4" fill="#00e2b7"/><rect x="184" y="171" width="4" fill="#00e4bd"/><rect x="188" y="171" width="4" fill="#00e6c3"/><rect x="192" y="171" width="4" fill="#00e8c7"/><rect x="196" y="171" width="4" fill="#00e9cb"/><rect x="200" y="171" width="4" fill="#00eacd"/><rect x="204" y="171" width="8" fill="#00eacf"/><rect x="212" y="171" width="4" fill="#00eace"/><rect x="216" y="171" width="4" fill="#00e9cb"/><rect x="220" y="171" width="4" fill="#00e8c7"/><rect x="224" y="171" width="4" fill="#00e6c2"/><rect x="228" y="171" width="4" fill="#00e4bd"/><rect x="232" y="171" width="4" fill="#00e3b8"/><rect x="236" y="171" width="4" fill="#00e1b4"/><rect x="240" y="171" width="4" fill="#00e0af"/><rect x="244" y="171" width="4" fill="#00ddaa"/><rect x="248" y="171" width="4" fill="#00daa3"/><rect x="252" y="171" width="4" fill="#00d79c"/><rect x="256" y="171" width="4" fill="#00d494"/><rect x="260" y="171" width="4" fill="#00d18d"/><rect x="264" y="171" width="4" fill="#00ce87"/><rect x="268" y="171" width="4" fill="#00cc81"/><rect x="272" y="171" width="4" fill="#00c97a"/><rect x="276" y="171" width="4" fill="#01c674"/><rect x="280" y="171" width="4" fill="#03c36c"/><rect x="284" y="171" width="4" fill="#06bf64"/><rect x="288" y="171" width="4" fill="#08bc5c"/><rect x="292" y="171" width="4" fill="#0ab853"/><rect x="296" y="171" width="4" fill="#0db54c"/><rect x="300" y="171" width="4" fill="#0fb245"/><rect x="304" y="171" width="4" fill="#10b03f"/><rect x="308" y="171" width="4" fill="#0eae3a"/><rect x="312" y="171" width="4" fill="#0dad34"/><rect x="316" y="171" width="4" fill="#0cac2e"/><rect x="320" y="171" width="4" fill="#0aaa28"/><rect x="324" y="171" width="4" fill="#08a821"/><rect x="328" y="171" width="4" fill="#06a619"/><rect x="332" y="171" width="4" fill="#04a412"/><rect x="336" y="171" width="4" fill="#03a30b"/><rect x="340" y="171" width="4" fill="#01a105"/><rect x="344" y="171" width="4" fill="#00a001"/><rect x="348" y="171" width="4" fill="#02a000"/><rect x="352" y="171" width="4" fill="#03a100"/><rect x="356" y="171" width="8" fill="#04a100"/><rect x="364" y="171" width="4" fill="#03a100"/><rect x="368" y="171" width="4" fill="#04a100"/><rect x="372" y="171" width="4" fill="#05a100"/><rect x="376" y="171" width="4" fill="#08a100"/><rect x="380" y="171" width="4" fill="#0ba200"/><rect x="384" y="171" width="4" fill="#10a300"/><rect x="388" y="171" width="4" fill="#11a300"/><rect x="36" y="175" width="4" fill="#30a800"/><rect x="40" y="175" width="4" fill="#32a900"/><rect x="44" y="175" width="4" fill="#34aa00"/><rect x="48" y="175" width="4" fill="#36ab00"/><rect x="52" y="175" width="4" fill="#39ac00"/><rect x="56" y="175" width="4" fill="#3dae00"/><rect x="60" y="175" width="4" fill="#41b000"/><rect x="64" y="175" width="4" fill="#46b200"/><rect x="68" y="175" width="4" fill="#4bb400"/><rect x="72" y="175" width="4" fill="#50b600"/><rect x="76" y="175" width="4" fill="#54b800"/><rect x="80" y="175" width="4" fill="#56b900"/><rect x="84" y="175" width="4" fill="#57b900"/><rect x="88" y="175" width="4" fill="#56b900"/><rect x="92" y="175" width="4" fill="#53b800"/><rect x="96" y="175" width="4" fill="#4fb600"/><rect x="100" y="175" width="4" fill="#4ab400"/><rect x="104" y="175" width="4" fill="#43b100"/><rect x="108" y="175" width="4" fill="#3aac00"/><rect x="112" y="175" width="4" fill="#2ea800"/><rect x="116" y="175" width="4" fill="#23a600"/><rect x="120" y="175" width="4" fill="#14a300"/><rect x="124" y="175" width="4" fill="#03a000"/><rect x="128" y="175" width="4" fill="#06a616"/><rect x="132" y="175" width="4" fill="#0cac31"/><rect x="136" y="175" width="4" fill="#0eb348"/><rect x="140" y="175" width="4" fill="#08bb5a"/><rect x="144" y="175" width="4" fill="#04c269"/><rect x="148" y="175" width="4" fill="#01c674"/><rect x="152" y="175" width="4" fill="#00ca7c"/><rect x="156" y="175" width="4" fill="#00cc82"/><rect x="160" y="175" width="4" fill="#00cf87"/><rect x="164" y="175" width="4" fill="#00d18d"/><rect x="168" y="175" width="4" fill="#00d392"/><rect x="172" y="175" width="4" fill="#00d698"/><rect x="176" y="175" width="4" fill="#00d99f"/><rect x="180" y="175" width="4" fill="#00dba5"/><rect x="184" y="175" width="4" fill="#00deab"/><rect x="188" y="175" width="4" fill="#00e0b1"/><rect x="192" y="175" width="4" fill="#00e2b6"/><rect x="196" y="175" width="4" fill="#00e3ba"/><rect x="200" y="175" width="4" fill="#00e4bd"/><rect x="204" y="175" width="8" fill="#00e5be"/><rect x="212" y="175" width="4" fill="#00e4bd"/><rect x="216" y="175" width="4" fill="#00e4bb"/><rect x="220" y="175" width="4" fill="#00e3b8"/><rect x="224" y="175" width="4" fill="#00e2b5"/><rect x="228" y="175" width="4" fill="#00e1b2"/><rect x="232" y="175" width="4" fill="#00e0b0"/><rect x="236" y="175" width="4" fill="#00dfad"/><rect x="240" y="175" width="4" fill="#00dda9"/><rect x="244" y="175" width="4" fill="#00dba4"/><rect x="248" y="175" width="4" fill="#00d89d"/><rect x="252" y="175" width="4" fill="#00d596"/><rect x="256" y="175" width="4" fill="#00d28e"/><rect x="260" y="175" width="4" fill="#00cf88"/><rect x="264" y="175" width="4" fill="#00cc82"/><rect x="268" y="175" width="4" fill="#00ca7d"/><rect x="272" y="175" width="4" fill="#00c878"/><rect x="276" y="175" width="4" fill="#02c572"/><rect x="280" y="175" width="4" fill="#04c26b"/><rect x="284" y="175" width="4" fill="#06bf63"/><rect x="288" y="175" width="4" fill="#09bb5a"/><rect x="292" y="175" width="4" fill="#0bb852"/><rect x="296" y="175" width="4" fill="#0db44a"/><rect x="300" y="175" width="4" fill="#0fb244"/><rect x="304" y="175" width="4" fill="#10b03e"/><rect x="308" y="175" width="4" fill="#0eae39"/><rect x="312" y="175" width="4" fill="#0dad34"/><rect x="316" y="175" width="4" fill="#0cac2f"/><rect x="320" y="175" width="4" fill="#0aaa29"/><rect x="324" y="175" width="4" fill="#08a822"/><rect x="328" y="175" width="4" fill="#07a71a"/><rect x="332" y="175" width="4" fill="#05a513"/><rect x="336" y="175" width="4" fill="#03a30c"/><rect x="340" y="175" width="4" fill="#01a106"/><rect x="344" y="175" width="4" fill="#00a002"/><rect x="348" y="175" width="4" fill="#00a000"/><rect x="352" y="175" width="4" fill="#01a000"/><rect x="356" y="175" width="4" fill="#00a000"/><rect x="360" y="175" width="4" fill="#00a001"/><rect x="364" y="175" width="8" fill="#00a002"/><rect x="372" y="175" width="4" fill="#00a001"/><rect x="376" y="175" width="4" fill="#02a000"/><rect x="380" y="175" width="4" fill="#06a100"/><rect x="384" y="175" width="4" fill="#0ba200"/><rect x="388" y="175" width="4" fill="#0ca200"/><rect x="36" y="179" width="4" fill="#2fa800"/><rect x="40" y="179" width="4" fill="#30a800"/><rect x="44" y="179" width="4" fill="#32a900"/><rect x="48" y="179" width="4" fill="#33a900"/><rect x="52" y="179" width="4" fill="#34aa00"/><rect x="56" y="179" width="4" fill="#37ab00"/><rect x="60" y="179" width="4" fill="#3aac00"/><rect x="64" y="179" width="4" fill="#3eae00"/><rect x="68" y="179" width="4" fill="#42b000"/><rect x="72" y="179" width="4" fill="#47b200"/><rect x="76" y="179" width="4" fill="#4bb400"/><rect x="80" y="179" width="4" fill="#4eb600"/><rect x="84" y="179" width="8" fill="#50b600"/><rect x="92" y="179" width="4" fill="#4eb500"/><rect x="96" y="179" width="4" fill="#4ab400"/><rect x="100" y="179" width="4" fill="#44b100"/><rect x="104" y="179" width="4" fill="#3cae00"/><rect x="108" y="179" width="4" fill="#33a900"/><rect x="112" y="179" width="4" fill="#29a700"/><rect x="116" y="179" width="4" fill="#1fa500"/><rect x="120" y="179" width="4" fill="#13a300"/><rect x="124" y="179" width="4" fill="#05a100"/><rect x="128" y="179" width="4" fill="#04a40e"/><rect x="132" y="179" width="4" fill="#09a924"/><rect x="136" y="179" width="4" fill="#0eae38"/><rect x="140" y="179" width="4" fill="#0db44a"/><rect x="144" y="179" width="4" fill="#09bb59"/><rect x="148" y="179" width="4" fill="#06c065"/><rect x="152" y="179" width="4" fill="#03c46e"/><rect x="156" y="179" width="4" fill="#01c776"/><rect x="160" y="179" width="4" fill="#00ca7c"/><rect x="164" y="179" width="4" fill="#00cc82"/><rect x="168" y="179" width="4" fill="#00ce87"/><rect x="172" y="179" width="4" fill="#00d08b"/><rect x="176" y="179" width="4" fill="#00d290"/><rect x="180" y="179" width="4" fill="#00d595"/><rect x="184" y="179" width="4" fill="#00d79b"/><rect x="188" y="179" width="4" fill="#00d9a0"/><rect x="192" y="179" width="4" fill="#00dca6"/><rect x="196" y="179" width="4" fill="#00deab"/><rect x="200" y="179" width="4" fill="#00dfae"/><rect x="204" y="179" width="4" fill="#00e0b0"/><rect x="208" y="179" width="4" fill="#00e0b1"/><rect x="212" y="179" width="4" fill="#00e0af"/><rect x="216" y="179" width="4" fill="#00deac"/><rect x="220" y="179" width="4" fill="#00ddaa"/><rect x="224" y="179" width="4" fill="#00dda8"/><rect x="228" y="179" width="8" fill="#00dca7"/><rect x="236" y="179" width="4" fill="#00dca6"/><rect x="240" y="179" width="4" fill="#00daa3"/><rect x="244" y="179" width="4" fill="#00d89e"/><rect x="248" y="179" width="4" fill="#00d597"/><rect x="252" y="179" width="4" fill="#00d290"/><rect x="256" y="179" width="4" fill="#00cf89"/><rect x="260" y="179" width="4" fill="#00cc82"/><rect x="264" y="179" width="4" fill="#00ca7e"/><rect x="268" y="179" width="4" fill="#00c979"/><rect x="272" y="179" width="4" fill="#01c775"/><rect x="276" y="179" width="4" fill="#02c470"/><rect x="280" y="179" width="4" fill="#04c269"/><rect x="284" y="179" width="4" fill="#07be61"/><rect x="288" y="179" width="4" fill="#09ba58"/><rect x="292" y="179" width="4" fill="#0bb750"/><rect x="296" y="179" width="4" fill="#0eb448"/><rect x="300" y="179" width="4" fill="#0fb142"/><rect x="304" y="179" width="4" fill="#0faf3d"/><rect x="308" y="179" width="4" fill="#0eae39"/><rect x="312" y="179" width="4" fill="#0dad34"/><rect x="316" y="179" width="4" fill="#0cac30"/><rect x="320" y="179" width="4" fill="#0aaa2a"/><rect x="324" y="179" width="4" fill="#09a923"/><rect x="328" y="179" width="4" fill="#07a71b"/><rect x="332" y="179" width="4" fill="#05a514"/><rect x="336" y="179" width="4" fill="#03a30d"/><rect x="340" y="179" width="4" fill="#02a207"/><rect x="344" y="179" width="4" fill="#01a104"/><rect x="348" y="179" width="8" fill="#01a102"/><rect x="356" y="179" width="4" fill="#01a104"/><rect x="360" y="179" width="4" fill="#01a106"/><rect x="364" y="179" width="4" fill="#02a207"/><rect x="368" y="179" width="4" fill="#02a208"/><rect x="372" y="179" width="4" fill="#02a207"/><rect x="376" y="179" width="4" fill="#01a104"/><rect x="380" y="179" width="4" fill="#01a000"/><rect x="384" y="179" width="4" fill="#06a100"/><rect x="388" y="179" width="4" fill="#08a100"/><rect x="36" y="183" width="4" fill="#2ea800"/><rect x="40" y="183" width="12" fill="#2fa800"/><rect x="52" y="183" width="4" fill="#30a800"/><rect x="56" y="183" width="4" fill="#31a800"/><rect x="60" y="183" width="4" fill="#33a900"/><rect x="64" y="183" width="4" fill="#36ab00"/><rect x="68" y="183" width="4" fill="#3aac00"/><rect x="72" y="183" width="4" fill="#3fae00"/><rect x="76" y="183" width="4" fill="#43b000"/><rect x="80" y="183" width="4" fill="#47b200"/><rect x="84" y="183" width="4" fill="#49b300"/><rect x="88" y="183" width="4" fill="#4ab300"/><rect x="92" y="183" width="4" fill="#48b300"/><rect x="96" y="183" width="4" fill="#44b100"/><rect x="100" y="183" width="4" fill="#3eae00"/><rect x="104" y="183" width="4" fill="#36aa00"/><rect x="108" y="183" width="4" fill="#2da800"/><rect x="112" y="183" width="4" fill="#25a600"/><rect x="116" y="183" width="4" fill="#1ca500"/><rect x="120" y="183" width="4" fill="#12a300"/><rect x="124" y="183" width="4" fill="#07a100"/><rect x="128" y="183" width="4" fill="#02a208"/><rect x="132" y="183" width="4" fill="#06a61a"/><rect x="136" y="183" width="4" fill="#0bab2c"/><rect x="140" y="183" width="4" fill="#0faf3d"/><rect x="144" y="183" width="4" fill="#0db54c"/><rect x="148" y="183" width="4" fill="#09ba58"/><rect x="152" y="183" width="4" fill="#06bf63"/><rect x="156" y="183" width="4" fill="#03c36c"/><rect x="160" y="183" width="4" fill="#01c673"/><rect x="164" y="183" width="4" fill="#00c879"/><rect x="168" y="183" width="4" fill="#00ca7e"/><rect x="172" y="183" width="4" fill="#00cc81"/><rect x="176" y="183" width="4" fill="#00ce85"/><rect x="180" y="183" width="4" fill="#00cf89"/><rect x="184" y="183" width="4" fill="#00d18d"/><rect x="188" y="183" width="4" fill="#00d393"/><rect x="192" y="183" width="4" fill="#00d698"/><rect x="196" y="183" width="4" fill="#00d89d"/><rect x="200" y="183" width="4" fill="#00daa1"/><rect x="204" y="183" width="8" fill="#00dba4"/><rect x="212" y="183" width="4" fill="#00daa2"/><rect x="216" y="183" width="4" fill="#00d9a0"/><rect x="220" y="183" width="4" fill="#00d89e"/><rect x="224" y="183" width="4" fill="#00d89d"/><rect x="228" y="183" width="4" fill="#00d89e"/><rect x="232" y="183" width="8" fill="#00d99f"/><rect x="240" y="183" width="4" fill="#00d89d"/><rect x="244" y="183" width="4" fill="#00d698"/><rect x="248" y="183" width="4" fill="#00d392"/><rect x="252" y="183" width="4" fill="#00d08a"/><rect x="256" y="183" width="4" fill="#00cd83"/><rect x="260" y="183" width="4" fill="#00ca7d"/><rect x="264" y="183" width="4" fill="#00c879"/><rect x="268" y="183" width="4" fill="#01c775"/><rect x="272" y="183" width="4" fill="#02c572"/><rect x="276" y="183" width="4" fill="#03c36d"/><rect x="280" y="183" width="4" fill="#05c167"/><rect x="284" y="183" width="4" fill="#07bd5f"/><rect x="288" y="183" width="4" fill="#0aba56"/><rect x="292" y="183" width="4" fill="#0cb64e"/><rect x="296" y="183" width="4" fill="#0eb347"/><rect x="300" y="183" width="4" fill="#10b041"/><rect x="304" y="183" width="4" fill="#0faf3c"/><rect x="308" y="183" width="4" fill="#0eae38"/><rect x="312" y="183" width="4" fill="#0dad34"/><rect x="316" y="183" width="4" fill="#0cac30"/><rect x="320" y="183" width="4" fill="#0bab2a"/><rect x="324" y="183" width="4" fill="#09a924"/><rect x="328" y="183" width="4" fill="#07a71c"/><rect x="332" y="183" width="4" fill="#05a515"/><rect x="336" y="183" width="4" fill="#03a30e"/><rect x="340" y="183" width="4" fill="#02a209"/><rect x="344" y="183" width="4" fill="#01a106"/><rect x="348" y="183" width="4" fill="#01a104"/><rect x="352" y="183" width="4" fill="#01a105"/><rect x="356" y="183" width="4" fill="#02a207"/><rect x="360" y="183" width="4" fill="#02a209"/><rect x="364" y="183" width="4" fill="#03a30b"/><rect x="368" y="183" width="4" fill="#03a30c"/><rect x="372" y="183" width="4" fill="#03a30b"/><rect x="376" y="183" width="4" fill="#02a208"/><rect x="380" y="183" width="4" fill="#01a103"/><rect x="384" y="183" width="4" fill="#03a100"/><rect x="388" y="183" width="4" fill="#04a100"/><rect x="36" y="187" width="24" fill="#2ca700"/><rect x="60" y="187" width="4" fill="#2da800"/><rect x="64" y="187" width="4" fill="#2fa800"/><rect x="68" y="187" width="4" fill="#32a900"/><rect x="72" y="187" width="4" fill="#36ab00"/><rect x="76" y="187" width="4" fill="#3aac00"/><rect x="80" y="187" width="4" fill="#3eae00"/><rect x="84" y="187" width="4" fill="#40af00"/><rect x="88" y="187" width="4" fill="#41b000"/><rect x="92" y="187" width="4" fill="#40af00"/><rect x="96" y="187" width="4" fill="#3cad00"/><rect x="100" y="187" width="4" fill="#35aa00"/><rect x="104" y="187" width="4" fill="#2ea800"/><rect x="108" y="187" width="4" fill="#28a700"/><rect x="112" y="187" width="4" fill="#20a500"/><rect x="116" y="187" width="4" fill="#18a400"/><rect x="120" y="187" width="4" fill="#10a300"/><rect x="124" y="187" width="4" fill="#06a100"/><rect x="128" y="187" width="4" fill="#01a106"/><rect x="132" y="187" width="4" fill="#05a515"/><rect x="136" y="187" width="4" fill="#09a924"/><rect x="140" y="187" width="4" fill="#0dad34"/><rect x="144" y="187" width="4" fill="#0fb143"/><rect x="148" y="187" width="4" fill="#0cb750"/><rect x="152" y="187" width="4" fill="#08bb5b"/><rect x="156" y="187" width="4" fill="#06c064"/><rect x="160" y="187" width="4" fill="#03c36c"/><rect x="164" y="187" width="4" fill="#02c572"/><rect x="168" y="187" width="4" fill="#00c777"/><rect x="172" y="187" width="4" fill="#00c97a"/><rect x="176" y="187" width="4" fill="#00ca7d"/><rect x="180" y="187" width="4" fill="#00cb80"/><rect x="184" y="187" width="4" fill="#00cd84"/><rect x="188" y="187" width="4" fill="#00cf88"/><rect x="192" y="187" width="4" fill="#00d18e"/><rect x="196" y="187" width="4" fill="#00d493"/><rect x="200" y="187" width="4" fill="#00d597"/><rect x="204" y="187" width="8" fill="#00d699"/><rect x="212" y="187" width="4" fill="#00d698"/><rect x="216" y="187" width="4" fill="#00d595"/><rect x="220" y="187" width="8" fill="#00d494"/><rect x="228" y="187" width="4" fill="#00d595"/><rect x="232" y="187" width="4" fill="#00d597"/><rect x="236" y="187" width="4" fill="#00d698"/><rect x="240" y="187" width="4" fill="#00d596"/><rect x="244" y="187" width="4" fill="#00d392"/><rect x="248" y="187" width="4" fill="#00d08c"/><rect x="252" y="187" width="4" fill="#00cd84"/><rect x="256" y="187" width="4" fill="#00ca7e"/><rect x="260" y="187" width="4" fill="#00c878"/><rect x="264" y="187" width="4" fill="#01c674"/><rect x="268" y="187" width="4" fill="#02c571"/><rect x="272" y="187" width="4" fill="#03c46e"/><rect x="276" y="187" width="4" fill="#04c26a"/><rect x="280" y="187" width="4" fill="#06bf64"/><rect x="284" y="187" width="4" fill="#08bc5c"/><rect x="288" y="187" width="4" fill="#0ab954"/><rect x="292" y="187" width="4" fill="#0db54c"/><rect x="296" y="187" width="4" fill="#0fb245"/><rect x="300" y="187" width="4" fill="#10b03f"/><rect x="304" y="187" width="4" fill="#0faf3a"/><rect x="308" y="187" width="4" fill="#0eae37"/><rect x="312" y="187" width="4" fill="#0dad33"/><rect x="316" y="187" width="4" fill="#0cac2f"/><rect x="320" y="187" width="4" fill="#0aaa2a"/><rect x="324" y="187" width="4" fill="#09a924"/><rect x="328" y="187" width="4" fill="#07a71c"/><rect x="332" y="187" width="4" fill="#05a515"/><rect x="336" y="187" width="4" fill="#04a40e"/><rect x="340" y="187" width="4" fill="#02a20a"/><rect x="344" y="187" width="4" fill="#02a207"/><rect x="348" y="187" width="4" fill="#01a106"/><rect x="352" y="187" width="4" fill="#02a207"/><rect x="356" y="187" width="4" fill="#02a209"/><rect x="360" y="187" width="4" fill="#03a30b"/><rect x="364" y="187" width="4" fill="#03a30d"/><rect x="368" y="187" width="4" fill="#04a40e"/><rect x="372" y="187" width="4" fill="#03a30d"/><rect x="376" y="187" width="4" fill="#03a30a"/><rect x="380" y="187" width="4" fill="#01a105"/><rect x="384" y="187" width="4" fill="#01a000"/><rect x="388" y="187" width="4" fill="#03a000"/><rect x="36" y="191" width="8" fill="#2aa700"/><rect x="44" y="191" width="8" fill="#29a700"/><rect x="52" y="191" width="12" fill="#28a700"/><rect x="64" y="191" width="4" fill="#29a700"/><rect x="68" y="191" width="4" fill="#2ba700"/><rect x="72" y="191" width="4" fill="#2da800"/><rect x="76" y="191" width="4" fill="#30a800"/><rect x="80" y="191" width="4" fill="#33a900"/><rect x="84" y="191" width="4" fill="#36aa00"/><rect x="88" y="191" width="4" fill="#36ab00"/><rect x="92" y="191" width="4" fill="#35aa00"/><rect x="96" y="191" width="4" fill="#31a800"/><rect x="100" y="191" width="4" fill="#2ca700"/><rect x="104" y="191" width="4" fill="#27a600"/><rect x="108" y="191" width="4" fill="#21a500"/><rect x="112" y="191" width="4" fill="#1aa400"/><rect x="116" y="191" width="4" fill="#13a300"/><rect x="120" y="191" width="4" fill="#0ba200"/><rect x="124" y="191" width="4" fill="#03a100"/><rect x="128" y="191" width="4" fill="#02a208"/><rect x="132" y="191" width="4" fill="#05a514"/><rect x="136" y="191" width="4" fill="#09a922"/><rect x="140" y="191" width="4" fill="#0cac30"/><rect x="144" y="191" width="4" fill="#10b03f"/><rect x="148" y="191" width="4" fill="#0db54b"/><rect x="152" y="191" width="4" fill="#0ab956"/><rect x="156" y="191" width="4" fill="#07bd5f"/><rect x="160" y="191" width="4" fill="#05c167"/><rect x="164" y="191" width="4" fill="#03c36d"/><rect x="168" y="191" width="4" fill="#02c572"/><rect x="172" y="191" width="4" fill="#01c775"/><rect x="176" y="191" width="4" fill="#00c877"/><rect x="180" y="191" width="4" fill="#00c97a"/><rect x="184" y="191" width="4" fill="#00ca7d"/><rect x="188" y="191" width="4" fill="#00cc81"/><rect x="192" y="191" width="4" fill="#00ce86"/><rect x="196" y="191" width="4" fill="#00d08b"/><rect x="200" y="191" width="4" fill="#00d28f"/><rect x="204" y="191" width="8" fill="#00d391"/><rect x="212" y="191" width="4" fill="#00d28f"/><rect x="216" y="191" width="4" fill="#00d18d"/><rect x="220" y="191" width="8" fill="#00d18c"/><rect x="228" y="191" width="4" fill="#00d18e"/><rect x="232" y="191" width="4" fill="#00d290"/><rect x="236" y="191" width="4" fill="#00d391"/><rect x="240" y="191" width="4" fill="#00d290"/><rect x="244" y="191" width="4" fill="#00d08c"/><rect x="248" y="191" width="4" fill="#00ce86"/><rect x="252" y="191" width="4" fill="#00cb7f"/><rect x="256" y="191" width="4" fill="#00c878"/><rect x="260" y="191" width="4" fill="#01c673"/><rect x="264" y="191" width="4" fill="#02c46f"/><rect x="268" y="191" width="4" fill="#03c36d"/><rect x="272" y="191" width="4" fill="#04c26a"/><rect x="276" y="191" width="4" fill="#05c066"/><rect x="280" y="191" width="4" fill="#07be60"/><rect x="284" y="191" width="4" fill="#09bb59"/><rect x="288" y="191" width="4" fill="#0bb751"/><rect x="292" y="191" width="4" fill="#0db449"/><rect x="296" y="191" width="4" fill="#0fb143"/><rect x="300" y="191" width="4" fill="#0faf3d"/><rect x="304" y="191" width="4" fill="#0eae38"/><rect x="308" y="191" width="4" fill="#0dad35"/><rect x="312" y="191" width="4" fill="#0cac32"/><rect x="316" y="191" width="4" fill="#0bab2e"/><rect x="320" y="191" width="4" fill="#0aaa29"/><rect x="324" y="191" width="4" fill="#09a922"/><rect x="328" y="191" width="4" fill="#07a71c"/><rect x="332" y="191" width="4" fill="#05a515"/><rect x="336" y="191" width="4" fill="#04a40e"/><rect x="340" y="191" width="4" fill="#02a20a"/><rect x="344" y="191" width="4" fill="#02a207"/><rect x="348" y="191" width="4" fill="#01a106"/><rect x="352" y="191" width="4" fill="#02a207"/><rect x="356" y="191" width="4" fill="#02a208"/><rect x="360" y="191" width="4" fill="#03a30b"/><rect x="364" y="191" width="4" fill="#03a30c"/><rect x="368" y="191" width="4" fill="#03a30d"/><rect x="372" y="191" width="4" fill="#03a30c"/><rect x="376" y="191" width="4" fill="#02a209"/><rect x="380" y="191" width="4" fill="#01a104"/><rect x="384" y="191" width="4" fill="#02a000"/><rect x="388" y="191" width="4" fill="#03a000"/><rect x="36" y="195" width="12" fill="#26a600"/><rect x="48" y="195" width="4" fill="#25a600"/><rect x="52" y="195" width="16" fill="#24a600"/><rect x="68" y="195" width="4" fill="#25a600"/><rect x="72" y="195" width="4" fill="#27a600"/><rect x="76" y="195" width="4" fill="#29a700"/><rect x="80" y="195" width="4" fill="#2aa700"/><rect x="84" y="195" width="8" fill="#2ba700"/><rect x="92" y="195" width="4" fill="#2aa700"/><rect x="96" y="195" width="4" fill="#27a700"/><rect x="100" y="195" width="4" fill="#23a600"/><rect x="104" y="195" width="4" fill="#1ea500"/><rect x="108" y="195" width="4" fill="#18a400"/><rect x="112" y="195" width="4" fill="#12a300"/><rect x="116" y="195" width="4" fill="#0ba200"/><rect x="120" y="195" width="4" fill="#05a100"/><rect x="124" y="195" width="4" fill="#01a103"/><rect x="128" y="195" width="4" fill="#03a30d"/><rect x="132" y="195" width="4" fill="#06a618"/><rect x="136" y="195" width="4" fill="#09a924"/><rect x="140" y="195" width="4" fill="#0cac31"/><rect x="144" y="195" width="4" fill="#10b03e"/><rect x="148" y="195" width="4" fill="#0db449"/><rect x="152" y="195" width="4" fill="#0ab854"/><rect x="156" y="195" width="4" fill="#08bc5d"/><rect x="160" y="195" width="4" fill="#06c064"/><rect x="164" y="195" width="4" fill="#04c26a"/><rect x="168" y="195" width="4" fill="#03c46e"/><rect x="172" y="195" width="4" fill="#02c571"/><rect x="176" y="195" width="4" fill="#01c673"/><rect x="180" y="195" width="4" fill="#01c776"/><rect x="184" y="195" width="4" fill="#00c879"/><rect x="188" y="195" width="4" fill="#00ca7d"/><rect x="192" y="195" width="4" fill="#00cc81"/><rect x="196" y="195" width="4" fill="#00ce85"/><rect x="200" y="195" width="4" fill="#00cf89"/><rect x="204" y="195" width="4" fill="#00d08b"/><rect x="208" y="195" width="4" fill="#00d08a"/><rect x="212" y="195" width="4" fill="#00cf89"/><rect x="216" y="195" width="4" fill="#00ce87"/><rect x="220" y="195" width="8" fill="#00ce86"/><rect x="228" y="195" width="4" fill="#00cf88"/><rect x="232" y="195" width="4" fill="#00cf89"/><rect x="236" y="195" width="4" fill="#00d08a"/><rect x="240" y="195" width="4" fill="#00cf89"/><rect x="244" y="195" width="4" fill="#00ce85"/><rect x="248" y="195" width="4" fill="#00cb7f"/><rect x="252" y="195" width="4" fill="#00c879"/><rect x="256" y="195" width="4" fill="#01c673"/><rect x="260" y="195" width="4" fill="#03c46e"/><rect x="264" y="195" width="4" fill="#04c26b"/><rect x="268" y="195" width="4" fill="#05c168"/><rect x="272" y="195" width="4" fill="#05c065"/><rect x="276" y="195" width="4" fill="#07be61"/><rect x="280" y="195" width="4" fill="#08bc5c"/><rect x="284" y="195" width="4" fill="#0ab955"/><rect x="288" y="195" width="4" fill="#0cb64e"/><rect x="292" y="195" width="4" fill="#0eb347"/><rect x="296" y="195" width="4" fill="#10b040"/><rect x="300" y="195" width="4" fill="#0faf3a"/><rect x="304" y="195" width="4" fill="#0dad36"/><rect x="308" y="195" width="4" fill="#0dad32"/><rect x="312" y="195" width="4" fill="#0cac2f"/><rect x="316" y="195" width="4" fill="#0bab2b"/><rect x="320" y="195" width="4" fill="#0aaa26"/><rect x="324" y="195" width="4" fill="#08a821"/><rect x="328" y="195" width="4" fill="#07a71a"/><rect x="332" y="195" width="4" fill="#05a514"/><rect x="336" y="195" width="4" fill="#03a30e"/><rect x="340" y="195" width="4" fill="#02a209"/><rect x="344" y="195" width="4" fill="#02a206"/><rect x="348" y="195" width="8" fill="#01a105"/><rect x="356" y="195" width="4" fill="#02a207"/><rect x="360" y="195" width="4" fill="#02a208"/><rect x="364" y="195" width="4" fill="#02a209"/><rect x="368" y="195" width="4" fill="#02a20a"/><rect x="372" y="195" width="4" fill="#02a209"/><rect x="376" y="195" width="4" fill="#01a106"/><rect x="380" y="195" width="4" fill="#00a001"/><rect x="384" y="195" width="4" fill="#03a100"/><rect x="388" y="195" width="4" fill="#04a100"/><rect x="36" y="199" width="8" fill="#23a600"/><rect x="44" y="199" width="4" fill="#22a600"/><rect x="48" y="199" width="4" fill="#21a600"/><rect x="52" y="199" width="4" fill="#20a500"/><rect x="56" y="199" width="16" fill="#1fa500"/><rect x="72" y="199" width="4" fill="#20a500"/><rect x="76" y="199" width="4" fill="#21a600"/><rect x="80" y="199" width="12" fill="#22a600"/><rect x="92" y="199" width="4" fill="#20a500"/><rect x="96" y="199" width="4" fill="#1da500"/><rect x="100" y="199" width="4" fill="#19a400"/><rect x="104" y="199" width="4" fill="#14a300"/><rect x="108" y="199" width="4" fill="#0fa200"/><rect x="112" y="199" width="4" fill="#09a200"/><rect x="116" y="199" width="4" fill="#03a100"/><rect x="120" y="199" width="4" fill="#01a104"/><rect x="124" y="199" width="4" fill="#03a30c"/><rect x="128" y="199" width="4" fill="#05a515"/><rect x="132" y="199" width="4" fill="#08a81f"/><rect x="136" y="199" width="4" fill="#0aaa29"/><rect x="140" y="199" width="4" fill="#0dad35"/><rect x="144" y="199" width="4" fill="#10b040"/><rect x="148" y="199" width="4" fill="#0db44a"/><rect x="152" y="199" width="4" fill="#0ab853"/><rect x="156" y="199" width="4" fill="#08bc5c"/><rect x="160" y="199" width="4" fill="#06bf63"/><rect x="164" y="199" width="4" fill="#05c168"/><rect x="168" y="199" width="4" fill="#03c36c"/><rect x="172" y="199" width="4" fill="#03c46f"/><rect x="176" y="199" width="4" fill="#02c571"/><rect x="180" y="199" width="4" fill="#01c673"/><rect x="184" y="199" width="4" fill="#01c776"/><rect x="188" y="199" width="4" fill="#00c979"/><rect x="192" y="199" width="4" fill="#00ca7d"/><rect x="196" y="199" width="4" fill="#00cc81"/><rect x="200" y="199" width="4" fill="#00cd84"/><rect x="204" y="199" width="8" fill="#00ce85"/><rect x="212" y="199" width="4" fill="#00cd84"/><rect x="216" y="199" width="4" fill="#00cc82"/><rect x="220" y="199" width="8" fill="#00cc81"/><rect x="228" y="199" width="4" fill="#00cc82"/><rect x="232" y="199" width="8" fill="#00cd83"/><rect x="240" y="199" width="4" fill="#00cc82"/><rect x="244" y="199" width="4" fill="#00cb7e"/><rect x="248" y="199" width="4" fill="#00c879"/><rect x="252" y="199" width="4" fill="#01c673"/><rect x="256" y="199" width="4" fill="#03c46e"/><rect x="260" y="199" width="4" fill="#04c269"/><rect x="264" y="199" width="4" fill="#05c066"/><rect x="268" y="199" width="4" fill="#06bf63"/><rect x="272" y="199" width="4" fill="#07be60"/><rect x="276" y="199" width="4" fill="#08bc5c"/><rect x="280" y="199" width="4" fill="#09ba57"/><rect x="284" y="199" width="4" fill="#0bb751"/><rect x="288" y="199" width="4" fill="#0db44a"/><rect x="292" y="199" width="4" fill="#0fb244"/><rect x="296" y="199" width="4" fill="#0faf3d"/><rect x="300" y="199" width="4" fill="#0eae38"/><rect x="304" y="199" width="4" fill="#0dad33"/><rect x="308" y="199" width="4" fill="#0cac30"/><rect x="312" y="199" width="4" fill="#0bab2c"/><rect x="316" y="199" width="4" fill="#0aaa28"/><rect x="320" y="199" width="4" fill="#09a924"/><rect x="324" y="199" width="4" fill="#08a81e"/><rect x="328" y="199" width="4" fill="#06a618"/><rect x="332" y="199" width="4" fill="#04a412"/><rect x="336" y="199" width="4" fill="#03a30c"/><rect x="340" y="199" width="4" fill="#02a208"/><rect x="344" y="199" width="4" fill="#01a105"/><rect x="348" y="199" width="4" fill="#01a104"/><rect x="352" y="199" width="4" fill="#01a103"/><rect x="356" y="199" width="4" fill="#01a104"/><rect x="360" y="199" width="12" fill="#01a105"/><rect x="372" y="199" width="4" fill="#01a104"/><rect x="376" y="199" width="4" fill="#00a001"/><rect x="380" y="199" width="4" fill="#02a000"/><rect x="384" y="199" width="4" fill="#06a100"/><rect x="388" y="199" width="4" fill="#07a100"/><rect x="36" y="203" width="4" fill="#20a500"/><rect x="40" y="203" width="4" fill="#1fa500"/><rect x="44" y="203" width="4" fill="#1ea500"/><rect x="48" y="203" width="4" fill="#1da500"/><rect x="52" y="203" width="4" fill="#1ca500"/><rect x="56" y="203" width="4" fill="#1ba400"/><rect x="60" y="203" width="8" fill="#1aa400"/><rect x="68" y="203" width="4" fill="#19a400"/><rect x="72" y="203" width="12" fill="#1aa400"/><rect x="84" y="203" width="4" fill="#19a400"/><rect x="88" y="203" width="4" fill="#18a400"/><rect x="92" y="203" width="4" fill="#16a400"/><rect x="96" y="203" width="4" fill="#13a300"/><rect x="100" y="203" width="4" fill="#10a300"/><rect x="104" y="203" width="4" fill="#0ba200"/><rect x="108" y="203" width="4" fill="#06a100"/><rect x="112" y="203" width="4" fill="#00a000"/><rect x="116" y="203" width="4" fill="#02a207"/><rect x="120" y="203" width="4" fill="#04a40e"/><rect x="124" y="203" width="4" fill="#05a516"/><rect x="128" y="203" width="4" fill="#07a71e"/><rect x="132" y="203" width="4" fill="#0aaa26"/><rect x="136" y="203" width="4" fill="#0cac30"/><rect x="140" y="203" width="4" fill="#0eae39"/><rect x="144" y="203" width="4" fill="#0fb143"/><rect x="148" y="203" width="4" fill="#0db54c"/><rect x="152" y="203" width="4" fill="#0ab954"/><rect x="156" y="203" width="4" fill="#08bc5b"/><rect x="160" y="203" width="4" fill="#06be62"/><rect x="164" y="203" width="4" fill="#05c167"/><rect x="168" y="203" width="4" fill="#04c26a"/><rect x="172" y="203" width="4" fill="#03c36d"/><rect x="176" y="203" width="4" fill="#03c46f"/><rect x="180" y="203" width="4" fill="#02c571"/><rect x="184" y="203" width="4" fill="#01c674"/><rect x="188" y="203" width="4" fill="#00c777"/><rect x="192" y="203" width="4" fill="#00c97a"/><rect x="196" y="203" width="4" fill="#00ca7d"/><rect x="200" y="203" width="4" fill="#00cb7f"/><rect x="204" y="203" width="4" fill="#00cc80"/><rect x="208" y="203" width="4" fill="#00cb80"/><rect x="212" y="203" width="4" fill="#00cb7f"/><rect x="216" y="203" width="4" fill="#00ca7d"/><rect x="220" y="203" width="12" fill="#00ca7c"/><rect x="232" y="203" width="8" fill="#00ca7d"/><rect x="240" y="203" width="4" fill="#00c97b"/><rect x="244" y="203" width="4" fill="#00c878"/><rect x="248" y="203" width="4" fill="#01c673"/><rect x="252" y="203" width="4" fill="#03c46e"/><rect x="256" y="203" width="4" fill="#04c169"/><rect x="260" y="203" width="4" fill="#06c064"/><rect x="264" y="203" width="4" fill="#07be61"/><rect x="268" y="203" width="4" fill="#07bd5e"/><rect x="272" y="203" width="4" fill="#08bc5b"/><rect x="276" y="203" width="4" fill="#09ba57"/><rect x="280" y="203" width="4" fill="#0bb852"/><rect x="284" y="203" width="4" fill="#0cb54d"/><rect x="288" y="203" width="4" fill="#0eb347"/><rect x="292" y="203" width="4" fill="#10b041"/><rect x="296" y="203" width="4" fill="#0faf3b"/><rect x="300" y="203" width="4" fill="#0dad35"/><rect x="304" y="203" width="4" fill="#0cac31"/><rect x="308" y="203" width="4" fill="#0bab2d"/><rect x="312" y="203" width="4" fill="#0aaa29"/><rect x="316" y="203" width="4" fill="#09a925"/><rect x="320" y="203" width="4" fill="#08a821"/><rect x="324" y="203" width="4" fill="#07a71b"/><rect x="328" y="203" width="4" fill="#05a516"/><rect x="332" y="203" width="4" fill="#04a410"/><rect x="336" y="203" width="4" fill="#03a30b"/><rect x="340" y="203" width="4" fill="#02a207"/><rect x="344" y="203" width="4" fill="#01a104"/><rect x="348" y="203" width="4" fill="#00a002"/><rect x="352" y="203" width="4" fill="#00a001"/><rect x="356" y="203" width="16" fill="#00a000"/><rect x="372" y="203" width="4" fill="#01a000"/><rect x="376" y="203" width="4" fill="#03a100"/><rect x="380" y="203" width="4" fill="#06a100"/><rect x="384" y="203" width="8" fill="#0aa200"/></g>
<path d="M45.0 34.5L54.2 34.3M61.0 34.5L70.1 34.2M77.0 34.5L86.1 34.1M93.0 34.5L102.2 34.0M109.0 34.5L118.4 34.0M125.0 34.5L134.5 33.9M141.0 34.5L150.5 34.0M157.0 34.5L166.7 34.1M173.0 34.5L182.9 34.2M189.0 34.5L198.9 34.3M205.0 34.5L214.8 34.4M221.0 34.5L230.8 34.6M237.0 34.5L246.9 34.7M253.0 34.5L262.8 34.8M269.0 34.5L278.7 34.8M285.0 34.5L294.7 34.9M301.0 34.5L310.6 34.9M317.0 34.5L326.5 34.9M333.0 34.5L342.6 34.9M349.0 34.5L358.5 34.9M365.0 34.5L374.4 34.8M381.0 34.5L390.3 34.8M45.0 37.5L54.2 37.3M61.0 37.5L70.1 37.2M77.0 37.5L86.1 37.1M93.0 37.5L102.1 37.0M109.0 37.5L118.3 36.9M125.0 37.5L134.5 36.9M141.0 37.5L150.5 36.9M157.0 37.5L166.8 37.0M173.0 37.5L182.9 37.2M189.0 37.5L198.9 37.3M205.0 37.5L214.9 37.5M221.0 37.5L230.9 37.6M237.0 37.5L246.9 37.7M253.0 37.5L262.8 37.8M269.0 37.5L278.7 37.8M285.0 37.5L294.7 37.9M301.0 37.5L310.6 37.9M317.0 37.5L326.5 37.9M333.0 37.5L342.6 37.9M349.0 37.5L358.5 37.9M365.0 37.5L374.4 37.8M381.0 37.5L390.3 37.8M45.0 40.5L54.2 40.3M61.0 40.5L70.1 40.2M77.0 40.5L86.0 40.1M93.0 40.5L102.1 40.0M109.0 40.5L118.3 39.9M125.0 40.5L134.5 39.9M141.0 40.5L150.6 39.9M157.0 40.5L166.8 40.0M173.0 40.5L182.9 40.2M189.0 40.5L198.9 40.3M205.0 40.5L214.9 40.5M221.0 40.5L230.9 40.6M237.0 40.5L246.9 40.7M253.0 40.5L262.8 40.8M269.0 40.5L278.7 40.9M285.0 40.5L294.7 40.9M301.0 40.5L310.6 40.9M317.0 40.5L326.5 40.9M333.0 40.5L342.5 40.9M349.0 40.5L358.5 40.9M365.0 40.5L374.4 40.9M381.0 40.5L390.3 40.8M45.0 43.5L54.2 43.3M61.0 43.5L70.1 43.2M77.0 43.5L86.0 43.1M93.0 43.5L102.0 43.0M109.0 43.5L118.2 42.9M125.0 43.5L134.4 42.8M141.0 43.5L150.6 42.9M157.0 43.5L166.8 43.0M173.0 43.5L182.9 43.1M189.0 43.5L199.0 43.3M205.0 43.5L215.0 43.5M221.0 43.5L230.9 43.6M237.0 43.5L246.9 43.7M253.0 43.5L262.8 43.8M269.0 43.5L278.7 43.9M285.0 43.5L294.7 43.9M301.0 43.5L310.5 44.0M317.0 43.5L326.5 44.0M333.0 43.5L342.5 44.0M349.0 43.5L358.5 43.9M365.0 43.5L374.4 43.9M381.0 43.5L390.3 43.8M45.0 46.5L54.2 46.3M61.0 46.5L70.1 46.2M77.0 46.5L86.0 46.1M93.0 46.5L102.0 46.0M109.0 46.5L118.2 45.8M125.0 46.5L134.4 45.8M141.0 46.5L150.6 45.8M157.0 46.5L166.8 46.0M173.0 46.5L183.0 46.1M189.0 46.5L199.0 46.3M205.0 46.5L215.0 46.5M221.0 46.5L230.9 46.6M237.0 46.5L246.9 46.7M253.0 46.5L262.8 46.8M269.0 46.5L278.7 46.9M285.0 46.5L294.7 46.9M301.0 46.5L310.5 47.0M317.0 46.5L326.5 47.0M333.0 46.5L342.5 47.0M349.0 46.5L358.5 46.9M365.0 46.5L374.4 46.9M381.0 46.5L390.3 46.8M45.0 49.5L54.2 49.3M61.0 49.5L70.0 49.2M77.0 49.5L86.0 49.1M93.0 49.5L102.0 48.9M109.0 49.5L118.2 48.8M125.0 49.5L134.4 48.7M141.0 49.5L150.6 48.8M157.0 49.5L166.8 48.9M173.0 49.5L183.0 49.1M189.0 49.5L199.1 49.3M205.0 49.5L215.0 49.5M221.0 49.5L231.0 49.6M237.0 49.5L246.9 49.7M253.0 49.5L262.9 49.8M269.0 49.5L278.8 49.9M285.0 49.5L294.7 50.0M301.0 49.5L310.5 50.0M317.0 49.5L326.5 50.0M333.0 49.5L342.5 50.0M349.0 49.5L358.4 50.0M365.0 49.5L374.3 49.9M381.0 49.5L390.3 49.8M45.0 52.5L54.2 52.3M61.0 52.5L70.0 52.2M77.0 52.5L85.9 52.1M93.0 52.5L101.9 51.9M109.0 52.5L118.1 51.8M125.0 52.5L134.4 51.7M141.0 52.5L150.7 51.8M157.0 52.5L166.9 51.9M173.0 52.5L183.0 52.1M189.0 52.5L199.1 52.3M205.0 52.5L215.1 52.5M221.0 52.5L231.0 52.6M237.0 52.5L247.0 52.7M253.0 52.5L262.9 52.8M269.0 52.5L278.8 52.9M285.0 52.5L294.7 53.0M301.0 52.5L310.5 53.0M317.0 52.5L326.5 53.0M333.0 52.5L342.5 53.0M349.0 52.5L358.4 53.0M365.0 52.5L374.3 52.9M381.0 52.5L390.3 52.8M45.0 55.5L54.2 55.3M61.0 55.5L70.0 55.2M77.0 55.5L85.9 55.1M93.0 55.5L101.9 54.9M109.0 55.5L118.1 54.7M125.0 55.5L134.4 54.6M141.0 55.5L150.7 54.7M157.0 55.5L166.9 54.9M173.0 55.5L183.1 55.1M189.0 55.5L199.1 55.3M205.0 55.5L215.1 55.5M221.0 55.5L231.1 55.6M237.0 55.5L247.0 55.8M253.0 55.5L262.9 55.9M269.0 55.5L278.8 55.9M285.0 55.5L294.7 56.0M301.0 55.5L310.5 56.0M317.0 55.5L326.5 56.1M333.0 55.5L342.5 56.0M349.0 55.5L358.4 56.0M365.0 55.5L374.3 55.9M381.0 55.5L390.2 55.8M45.0 58.5L54.2 58.3M61.0 58.5L70.0 58.2M77.0 58.5L85.9 58.1M93.0 58.5L101.9 57.9M109.0 58.5L118.0 57.7M125.0 58.5L134.3 57.6M141.0 58.5L150.8 57.7M157.0 58.5L167.0 57.9M173.0 58.5L183.1 58.1M189.0 58.5L199.2 58.3M205.0 58.5L215.2 58.5M221.0 58.5L231.1 58.6M237.0 58.5L247.0 58.8M253.0 58.5L262.9 58.9M269.0 58.5L278.8 59.0M285.0 58.5L294.7 59.0M301.0 58.5L310.6 59.1M317.0 58.5L326.5 59.1M333.0 58.5L342.5 59.1M349.0 58.5L358.4 59.0M365.0 58.5L374.3 58.9M381.0 58.5L390.2 58.8M45.0 61.5L54.1 61.3M61.0 61.5L70.0 61.2M77.0 61.5L85.9 61.1M93.0 61.5L101.9 60.9M109.0 61.5L118.0 60.6M125.0 61.5L134.3 60.5M141.0 61.5L150.8 60.6M157.0 61.5L167.1 60.8M173.0 61.5L183.2 61.1M189.0 61.5L199.2 61.3M205.0 61.5L215.2 61.5M221.0 61.5L231.2 61.7M237.0 61.5L247.0 61.8M253.0 61.5L262.9 61.9M269.0 61.5L278.8 62.0M285.0 61.5L294.7 62.0M301.0 61.5L310.6 62.1M317.0 61.5L326.5 62.1M333.0 61.5L342.4 62.1M349.0 61.5L358.4 62.0M365.0 61.5L374.2 61.9M381.0 61.5L390.1 61.8M45.0 64.5L54.1 64.3M61.0 64.5L70.0 64.2M77.0 64.5L85.9 64.1M93.0 64.5L101.9 63.8M109.0 64.5L117.9 63.6M125.0 64.5L134.3 63.5M141.0 64.5L150.8 63.6M157.0 64.5L167.1 63.8M173.0 64.5L183.2 64.1M189.0 64.5L199.3 64.3M205.0 64.5L215.3 64.5M221.0 64.5L231.2 64.7M237.0 64.5L247.1 64.8M253.0 64.5L262.9 64.9M269.0 64.5L278.8 65.0M285.0 64.5L294.7 65.1M301.0 64.5L310.6 65.1M317.0 64.5L326.5 65.1M333.0 64.5L342.4 65.1M349.0 64.5L358.3 65.0M365.0 64.5L374.2 64.9M381.0 64.5L390.1 64.8M45.0 67.5L54.1 67.3M61.0 67.5L70.0 67.2M77.0 67.5L85.9 67.1M93.0 67.5L101.9 66.8M109.0 67.5L117.9 66.5M125.0 67.5L134.3 66.4M141.0 67.5L150.9 66.5M157.0 67.5L167.2 66.7M173.0 67.5L183.3 67.0M189.0 67.5L199.3 67.3M205.0 67.5L215.3 67.5M221.0 67.5L231.3 67.7M237.0 67.5L247.1 67.8M253.0 67.5L263.0 67.9M269.0 67.5L278.8 68.0M285.0 67.5L294.7 68.1M301.0 67.5L310.6 68.1M317.0 67.5L326.5 68.2M333.0 67.5L342.4 68.1M349.0 67.5L358.3 68.1M365.0 67.5L374.1 68.0M381.0 67.5L390.0 67.8M45.0 70.5L54.1 70.3M61.0 70.5L70.0 70.2M77.0 70.5L85.9 70.1M93.0 70.5L101.8 69.8M109.0 70.5L117.8 69.5M125.0 70.5L134.3 69.3M141.0 70.5L150.9 69.4M157.0 70.5L167.3 69.7M173.0 70.5L183.3 70.0M189.0 70.5L199.4 70.3M205.0 70.5L215.4 70.5M221.0 70.5L231.3 70.7M237.0 70.5L247.1 70.8M253.0 70.5L263.0 71.0M269.0 70.5L278.8 71.0M285.0 70.5L294.7 71.1M301.0 70.5L310.6 71.2M317.0 70.5L326.5 71.2M333.0 70.5L342.4 71.2M349.0 70.5L358.2 71.1M365.0 70.5L374.1 71.0M381.0 70.5L390.0 70.8M45.0 73.5L54.1 73.3M61.0 73.5L70.0 73.2M77.0 73.5L85.9 73.1M93.0 73.5L101.7 72.8M109.0 73.5L117.8 72.4M125.0 73.5L134.3 72.2M141.0 73.5L151.0 72.3M157.0 73.5L167.4 72.7M173.0 73.5L183.4 73.0M189.0 73.5L199.4 73.3M205.0 73.5L215.4 73.5M221.0 73.5L231.3 73.7M237.0 73.5L247.2 73.9M253.0 73.5L263.0 74.0M269.0 73.5L278.9 74.1M285.0 73.5L294.7 74.1M301.0 73.5L310.6 74.2M317.0 73.5L326.4 74.2M333.0 73.5L342.3 74.2M349.0 73.5L358.1 74.1M365.0 73.5L373.9 74.0M381.0 73.5L389.9 73.8M45.0 76.5L54.1 76.3M61.0 76.5L70.0 76.2M77.0 76.5L85.9 76.1M93.0 76.5L101.7 75.8M109.0 76.5L117.8 75.3M125.0 76.5L134.3 75.1M141.0 76.5L151.0 75.3M157.0 76.5L167.4 75.7M173.0 76.5L183.4 76.0M189.0 76.5L199.4 76.3M205.0 76.5L215.4 76.6M221.0 76.5L231.4 76.7M237.0 76.5L247.2 76.9M253.0 76.5L263.1 77.0M269.0 76.5L278.9 77.1M285.0 76.5L294.7 77.2M301.0 76.5L310.5 77.2M317.0 76.5L326.3 77.2M333.0 76.5L342.1 77.2M349.0 76.5L357.9 77.1M365.0 76.5L373.8 77.0M381.0 76.5L389.7 76.8M45.0 79.5L54.1 79.4M61.0 79.5L70.0 79.3M77.0 79.5L85.8 79.1M93.0 79.5L101.5 78.8M109.0 79.5L117.7 78.2M125.0 79.5L134.4 77.9M141.0 79.5L151.1 78.2M157.0 79.5L167.5 78.6M173.0 79.5L183.5 79.0M189.0 79.5L199.5 79.3M205.0 79.5L215.4 79.6M221.0 79.5L231.4 79.8M237.0 79.5L247.3 79.9M253.0 79.5L263.1 80.0M269.0 79.5L278.8 80.1M285.0 79.5L294.6 80.2M301.0 79.5L310.3 80.2M317.0 79.5L326.1 80.2M333.0 79.5L341.8 80.2M349.0 79.5L357.6 80.1M365.0 79.5L373.5 80.0M381.0 79.5L389.5 79.8M45.0 82.5L54.1 82.4M61.0 82.5L70.0 82.3M77.0 82.5L85.8 82.1M93.0 82.5L101.4 81.8M109.0 82.5L117.7 81.2M125.0 82.5L134.4 80.8M141.0 82.5L151.2 81.1M157.0 82.5L167.5 81.6M173.0 82.5L183.5 82.0M189.0 82.5L199.5 82.3M205.0 82.5L215.5 82.6M221.0 82.5L231.4 82.8M237.0 82.5L247.3 82.9M253.0 82.5L263.1 83.1M269.0 82.5L278.7 83.1M285.0 82.5L294.4 83.2M301.0 82.5L310.0 83.2M317.0 82.5L325.6 83.2M333.0 82.5L341.3 83.2M349.0 82.5L357.1 83.1M365.0 82.5L373.0 83.0M381.0 82.5L389.1 82.8M45.0 85.5L54.1 85.4M61.0 85.5L70.0 85.3M77.0 85.5L85.7 85.2M93.0 85.5L101.2 84.8M109.0 85.5L117.6 84.0M125.0 85.5L134.5 83.5M141.0 85.5L151.2 84.0M157.0 85.5L167.5 84.6M173.0 85.5L183.5 85.0M189.0 85.5L199.5 85.4M205.0 85.5L215.5 85.6M221.0 85.5L231.4 85.8M237.0 85.5L247.3 86.0M253.0 85.5L263.0 86.1M269.0 85.5L278.5 86.1M285.0 85.5L293.9 86.2M301.0 85.5L309.4 86.2M317.0 85.5L324.8 86.2M333.0 85.5L340.5 86.2M349.0 85.5L356.4 86.1M365.0 85.5L372.4 85.9M381.0 85.5L388.4 85.7M45.0 88.5L54.1 88.4M61.0 88.5L70.0 88.3M77.0 88.5L85.6 88.2M93.0 88.5L101.1 87.9M109.0 88.5L117.5 87.0M125.0 88.5L134.6 86.3M141.0 88.5L151.3 86.9M157.0 88.5L167.6 87.6M173.0 88.5L183.6 88.0M189.0 88.5L199.5 88.4M205.0 88.5L215.5 88.6M221.0 88.5L231.4 88.8M237.0 88.5L247.3 89.0M253.0 88.5L262.8 89.1M269.0 88.5L277.9 89.1M285.0 88.5L293.1 89.1M301.0 88.5L308.4 89.1M317.0 88.5L323.7 89.1M333.0 88.5L339.4 89.1M349.0 88.5L355.4 89.1M365.0 88.5L371.6 88.9M381.0 88.5L387.6 88.7M45.0 91.5L54.2 91.4M61.0 91.5L70.0 91.4M77.0 91.5L85.6 91.3M93.0 91.5L100.8 91.0M109.0 91.5L117.2 89.8M125.0 91.5L134.7 88.9M141.0 91.5L151.4 89.8M157.0 91.5L167.6 90.5M173.0 91.5L183.6 92.1M189.0 91.5L199.6 92.2M205.0 91.5L215.5 92.2M221.0 91.5L231.4 92.3M237.0 91.5L247.3 92.0M253.0 91.5L262.5 92.1M269.0 91.5L277.3 92.1M285.0 91.5L292.1 92.1M301.0 91.5L307.4 92.1M317.0 91.5L322.5 92.0M333.0 91.5L338.2 92.0M349.0 91.5L354.3 92.0M365.0 91.5L370.6 91.9M381.0 91.5L386.7 91.7M45.0 94.5L54.2 94.4M61.0 94.5L70.1 94.4M77.0 94.5L85.5 94.3M93.0 94.5L99.8 94.1M109.0 94.5L116.9 92.8M125.0 94.5L134.8 91.7M141.0 94.5L151.5 92.8M157.0 94.5L167.7 95.1M173.0 94.5L183.6 95.1M189.0 94.5L199.5 95.2M205.0 94.5L215.5 95.3M221.0 94.5L231.4 95.3M237.0 94.5L247.2 95.4M253.0 94.5L262.4 95.4M269.0 94.5L277.0 95.1M285.0 94.5L291.4 95.0M301.0 94.5L306.4 95.0M317.0 94.5L321.4 94.9M333.0 94.5L337.0 94.9M349.0 94.5L353.3 94.9M365.0 94.5L369.5 94.8M381.0 94.5L385.6 94.6M45.0 97.5L54.3 97.5M61.0 97.5L70.1 97.4M77.0 97.5L85.5 97.4M93.0 97.5L97.8 97.3M125.0 97.5L135.0 94.1M141.0 97.5L151.8 98.1M157.0 97.5L167.7 98.1M173.0 97.5L183.6 98.2M189.0 97.5L199.5 98.2M205.0 97.5L215.4 98.3M221.0 97.5L231.3 98.4M237.0 97.5L247.2 98.4M253.0 97.5L262.6 98.5M269.0 97.5L277.2 98.4M285.0 97.5L291.4 98.3M301.0 97.5L306.0 98.2M317.0 97.5L320.7 97.9M333.0 97.5L336.1 97.8M349.0 97.5L352.3 97.9M365.0 97.5L368.5 97.7M381.0 97.5L384.6 97.6M45.0 100.5L54.3 100.5M61.0 100.5L70.1 100.5M77.0 100.5L85.5 100.4M93.0 100.5L97.2 100.4M125.0 100.5L136.0 101.0M141.0 100.5L151.8 101.1M157.0 100.5L167.7 101.1M173.0 100.5L183.6 101.2M189.0 100.5L199.5 101.3M205.0 100.5L215.4 101.3M221.0 100.5L231.3 101.4M237.0 100.5L247.2 101.5M253.0 100.5L262.9 101.5M269.0 100.5L277.8 101.5M285.0 100.5L292.0 101.4M301.0 100.5L306.3 101.3M317.0 100.5L320.5 101.1M333.0 100.5L335.7 100.8M349.0 100.5L351.7 100.8M365.0 100.5L367.8 100.7M381.0 100.5L383.9 100.6M45.0 103.5L54.3 103.5M61.0 103.5L70.1 103.5M77.0 103.5L85.6 103.5M93.0 103.5L96.6 103.5M125.0 103.5L136.0 104.1M141.0 103.5L151.8 104.1M157.0 103.5L167.7 104.2M173.0 103.5L183.6 104.2M189.0 103.5L199.5 104.3M205.0 103.5L215.4 104.3M221.0 103.5L231.3 104.4M237.0 103.5L247.2 104.5M253.0 103.5L263.0 104.6M269.0 103.5L278.4 104.6M285.0 103.5L293.0 104.6M301.0 103.5L307.2 104.5M317.0 103.5L321.2 104.3M333.0 103.5L336.0 104.2M349.0 103.5L351.5 104.4M365.0 103.5L367.4 103.6M381.0 103.5L383.5 103.5M45.0 106.5L54.3 106.5M61.0 106.5L70.1 106.5M77.0 106.5L85.6 106.5M93.0 106.5L96.8 106.5M125.0 106.5L136.0 107.1M141.0 106.5L151.8 107.2M157.0 106.5L167.6 107.2M173.0 106.5L183.6 107.2M189.0 106.5L199.5 107.3M205.0 106.5L215.4 107.4M221.0 106.5L231.3 107.4M237.0 106.5L247.2 107.5M253.0 106.5L263.0 107.6M269.0 106.5L278.6 107.7M285.0 106.5L293.3 107.6M301.0 106.5L307.4 107.5M317.0 106.5L321.3 107.3M333.0 106.5L336.0 107.2M349.0 106.5L351.5 106.1M365.0 106.5L367.5 106.5M381.0 106.5L383.5 106.5M45.0 109.5L54.3 109.6M61.0 109.5L70.1 109.6M77.0 109.5L85.6 109.6M93.0 109.5L98.1 109.7M125.0 109.5L135.9 110.2M141.0 109.5L151.8 110.2M157.0 109.5L167.6 110.2M173.0 109.5L183.6 110.3M189.0 109.5L199.5 110.3M205.0 109.5L215.4 110.4M221.0 109.5L231.3 110.5M237.0 109.5L247.2 110.5M253.0 109.5L263.0 110.6M269.0 109.5L278.2 110.6M285.0 109.5L292.4 110.5M301.0 109.5L306.5 110.4M317.0 109.5L320.7 110.2M333.0 109.5L335.7 109.1M349.0 109.5L351.8 109.2M365.0 109.5L368.0 109.4M381.0 109.5L384.0 109.5M45.0 112.5L54.3 112.6M61.0 112.5L70.1 112.6M77.0 112.5L85.7 112.7M93.0 112.5L99.1 112.8M125.0 112.5L135.9 113.2M141.0 112.5L151.8 113.2M157.0 112.5L167.6 113.2M173.0 112.5L183.6 113.3M189.0 112.5L199.5 113.4M205.0 112.5L215.4 113.4M221.0 112.5L231.3 113.5M237.0 112.5L247.2 113.6M253.0 112.5L262.8 113.6M269.0 112.5L277.5 113.6M285.0 112.5L291.6 113.4M301.0 112.5L306.1 113.3M317.0 112.5L320.6 112.0M333.0 112.5L336.1 112.1M349.0 112.5L352.4 112.1M365.0 112.5L368.8 112.4M381.0 112.5L384.9 112.5M45.0 115.5L54.3 115.6M61.0 115.5L70.1 115.7M77.0 115.5L85.7 115.8M93.0 115.5L100.9 116.1M125.0 115.5L135.1 118.7M141.0 115.5L151.7 116.2M157.0 115.5L167.7 116.3M173.0 115.5L183.6 116.3M189.0 115.5L199.5 116.4M205.0 115.5L215.4 116.4M221.0 115.5L231.3 116.5M237.0 115.5L247.2 116.6M253.0 115.5L262.5 116.6M269.0 115.5L277.0 114.7M285.0 115.5L291.3 114.8M301.0 115.5L306.3 114.9M317.0 115.5L321.3 115.0M333.0 115.5L337.0 115.0M349.0 115.5L353.4 115.0M365.0 115.5L369.8 115.3M381.0 115.5L385.9 115.5M45.0 118.5L54.3 118.6M61.0 118.5L70.1 118.7M77.0 118.5L85.7 118.8M93.0 118.5L101.0 119.1M109.0 118.5L115.2 120.1M125.0 118.5L135.0 121.4M141.0 118.5L151.7 119.3M157.0 118.5L167.7 119.3M173.0 118.5L183.6 119.3M189.0 118.5L199.5 119.4M205.0 118.5L215.4 119.5M221.0 118.5L231.3 119.5M237.0 118.5L247.2 119.6M253.0 118.5L262.3 117.7M269.0 118.5L277.0 117.7M285.0 118.5L291.9 117.8M301.0 118.5L307.1 117.8M317.0 118.5L322.4 117.9M333.0 118.5L338.3 117.9M349.0 118.5L354.6 118.0M365.0 118.5L370.9 118.3M381.0 118.5L386.9 118.4M45.0 121.5L54.3 121.6M61.0 121.5L70.1 121.7M77.0 121.5L85.8 121.9M93.0 121.5L101.2 122.2M109.0 121.5L117.1 123.3M125.0 121.5L134.8 123.9M141.0 121.5L151.5 123.0M157.0 121.5L167.6 122.2M173.0 121.5L183.6 121.7M189.0 121.5L199.5 121.4M205.0 121.5L215.4 121.1M221.0 121.5L231.3 120.9M237.0 121.5L247.1 120.8M253.0 121.5L262.5 120.7M269.0 121.5L277.6 120.7M285.0 121.5L292.8 120.7M301.0 121.5L308.2 120.7M317.0 121.5L323.7 120.8M333.0 121.5L339.5 120.8M349.0 121.5L355.7 120.9M365.0 121.5L371.9 121.2M381.0 121.5L387.9 121.4M45.0 124.5L54.3 124.7M61.0 124.5L70.1 124.7M77.0 124.5L85.8 124.9M93.0 124.5L101.3 125.3M109.0 124.5L117.3 126.2M125.0 124.5L134.7 126.7M141.0 124.5L151.4 125.9M157.0 124.5L167.6 125.2M173.0 124.5L183.6 124.7M189.0 124.5L199.5 124.4M205.0 124.5L215.4 124.1M221.0 124.5L231.2 123.9M237.0 124.5L247.1 123.8M253.0 124.5L262.8 123.7M269.0 124.5L278.2 123.7M285.0 124.5L293.7 123.6M301.0 124.5L309.2 123.7M317.0 124.5L324.8 123.7M333.0 124.5L340.6 123.7M349.0 124.5L356.6 123.9M365.0 124.5L372.7 124.2M381.0 124.5L388.7 124.4M45.0 127.5L54.3 127.7M61.0 127.5L70.1 127.8M77.0 127.5L85.8 127.9M93.0 127.5L101.4 128.3M109.0 127.5L117.6 129.1M125.0 127.5L134.6 129.4M141.0 127.5L151.3 128.8M157.0 127.5L167.5 128.2M173.0 127.5L183.5 127.8M189.0 127.5L199.4 127.4M205.0 127.5L215.4 127.2M221.0 127.5L231.2 127.0M237.0 127.5L247.1 126.8M253.0 127.5L262.9 126.7M269.0 127.5L278.6 126.7M285.0 127.5L294.3 126.6M301.0 127.5L309.9 126.6M317.0 127.5L325.6 126.6M333.0 127.5L341.4 126.7M349.0 127.5L357.3 126.9M365.0 127.5L373.3 127.1M381.0 127.5L389.3 127.3M45.0 130.5L54.3 130.7M61.0 130.5L70.1 130.8M77.0 130.5L85.9 131.0M93.0 130.5L101.5 131.3M109.0 130.5L117.7 132.0M125.0 130.5L134.6 132.3M141.0 130.5L151.3 131.8M157.0 130.5L167.5 131.2M173.0 130.5L183.5 130.8M189.0 130.5L199.4 130.4M205.0 130.5L215.4 130.2M221.0 130.5L231.2 130.0M237.0 130.5L247.1 129.9M253.0 130.5L263.0 129.8M269.0 130.5L278.8 129.7M285.0 130.5L294.6 129.6M301.0 130.5L310.3 129.6M317.0 130.5L326.1 129.6M333.0 130.5L341.9 129.7M349.0 130.5L357.7 129.8M365.0 130.5L373.7 130.1M381.0 130.5L389.7 130.3M45.0 133.5L54.2 133.7M61.0 133.5L70.1 133.8M77.0 133.5L85.9 134.0M93.0 133.5L101.6 134.3M109.0 133.5L117.8 134.8M125.0 133.5L134.5 135.1M141.0 133.5L151.2 134.7M157.0 133.5L167.4 134.2M173.0 133.5L183.4 133.8M189.0 133.5L199.4 133.5M205.0 133.5L215.3 133.2M221.0 133.5L231.2 133.0M237.0 133.5L247.1 132.9M253.0 133.5L263.0 132.8M269.0 133.5L278.8 132.7M285.0 133.5L294.7 132.7M301.0 133.5L310.5 132.6M317.0 133.5L326.3 132.7M333.0 133.5L342.2 132.7M349.0 133.5L358.1 132.9M365.0 133.5L374.0 133.1M381.0 133.5L389.9 133.3M45.0 136.5L54.2 136.7M61.0 136.5L70.1 136.8M77.0 136.5L85.9 137.0M93.0 136.5L101.6 137.3M109.0 136.5L117.8 137.8M125.0 136.5L134.5 138.0M141.0 136.5L151.1 137.6M157.0 136.5L167.3 137.2M173.0 136.5L183.4 136.8M189.0 136.5L199.4 136.5M205.0 136.5L215.3 136.2M221.0 136.5L231.2 136.1M237.0 136.5L247.1 135.9M253.0 136.5L262.9 135.8M269.0 136.5L278.8 135.7M285.0 136.5L294.7 135.7M301.0 136.5L310.6 135.7M317.0 136.5L326.5 135.7M333.0 136.5L342.4 135.7M349.0 136.5L358.2 135.9M365.0 136.5L374.1 136.1M381.0 136.5L390.1 136.3M45.0 139.5L54.2 139.7M61.0 139.5L70.0 139.8M77.0 139.5L85.9 140.0M93.0 139.5L101.7 140.3M109.0 139.5L117.8 140.6M125.0 139.5L134.5 140.8M141.0 139.5L151.1 140.6M157.0 139.5L167.3 140.2M173.0 139.5L183.3 139.8M189.0 139.5L199.3 139.5M205.0 139.5L215.3 139.3M221.0 139.5L231.2 139.1M237.0 139.5L247.1 139.0M253.0 139.5L262.9 138.9M269.0 139.5L278.8 138.8M285.0 139.5L294.7 138.7M301.0 139.5L310.6 138.7M317.0 139.5L326.5 138.7M333.0 139.5L342.4 138.8M349.0 139.5L358.3 138.9M365.0 139.5L374.2 139.1M381.0 139.5L390.2 139.2M45.0 142.5L54.2 142.7M61.0 142.5L70.0 142.8M77.0 142.5L85.9 143.0M93.0 142.5L101.7 143.3M109.0 142.5L117.8 143.6M125.0 142.5L134.4 143.7M141.0 142.5L151.0 143.5M157.0 142.5L167.2 143.1M173.0 142.5L183.3 142.8M189.0 142.5L199.3 142.5M205.0 142.5L215.3 142.3M221.0 142.5L231.2 142.1M237.0 142.5L247.1 142.0M253.0 142.5L262.9 141.9M269.0 142.5L278.8 141.8M285.0 142.5L294.7 141.7M301.0 142.5L310.6 141.7M317.0 142.5L326.5 141.7M333.0 142.5L342.5 141.8M349.0 142.5L358.4 141.9M365.0 142.5L374.3 142.1M381.0 142.5L390.2 142.2M45.0 145.5L54.2 145.7M61.0 145.5L70.0 145.8M77.0 145.5L85.9 146.0M93.0 145.5L101.8 146.2M109.0 145.5L117.8 146.5M125.0 145.5L134.4 146.6M141.0 145.5L151.0 146.4M157.0 145.5L167.1 146.1M173.0 145.5L183.3 145.8M189.0 145.5L199.3 145.5M205.0 145.5L215.3 145.3M221.0 145.5L231.2 145.1M237.0 145.5L247.0 145.0M253.0 145.5L262.9 144.9M269.0 145.5L278.8 144.8M285.0 145.5L294.7 144.8M301.0 145.5L310.6 144.8M317.0 145.5L326.5 144.8M333.0 145.5L342.5 144.8M349.0 145.5L358.4 144.9M365.0 145.5L374.3 145.1M381.0 145.5L390.2 145.2M45.0 148.5L54.2 148.8M61.0 148.5L70.0 148.9M77.0 148.5L85.9 149.0M93.0 148.5L101.8 149.2M109.0 148.5L117.9 149.4M125.0 148.5L134.4 149.5M141.0 148.5L151.0 149.4M157.0 148.5L167.1 149.1M173.0 148.5L183.2 148.8M189.0 148.5L199.3 148.5M205.0 148.5L215.3 148.3M221.0 148.5L231.2 148.2M237.0 148.5L247.0 148.0M253.0 148.5L262.9 147.9M269.0 148.5L278.8 147.9M285.0 148.5L294.7 147.8M301.0 148.5L310.6 147.8M317.0 148.5L326.5 147.8M333.0 148.5L342.5 147.8M349.0 148.5L358.4 148.0M365.0 148.5L374.3 148.1M381.0 148.5L390.2 148.2M45.0 151.5L54.2 151.8M61.0 151.5L70.0 151.9M77.0 151.5L85.9 152.0M93.0 151.5L101.9 152.2M109.0 151.5L117.9 152.4M125.0 151.5L134.5 152.4M141.0 151.5L150.9 152.3M157.0 151.5L167.0 152.1M173.0 151.5L183.2 151.8M189.0 151.5L199.2 151.5M205.0 151.5L215.2 151.3M221.0 151.5L231.2 151.2M237.0 151.5L247.0 151.1M253.0 151.5L262.9 151.0M269.0 151.5L278.8 150.9M285.0 151.5L294.7 150.8M301.0 151.5L310.6 150.8M317.0 151.5L326.5 150.8M333.0 151.5L342.5 150.9M349.0 151.5L358.4 151.0M365.0 151.5L374.3 151.1M381.0 151.5L390.3 151.2M45.0 154.5L54.2 154.8M61.0 154.5L70.0 154.9M77.0 154.5L86.0 155.0M93.0 154.5L101.9 155.2M109.0 154.5L117.9 155.3M125.0 154.5L134.5 155.4M141.0 154.5L150.9 155.3M157.0 154.5L167.0 155.0M173.0 154.5L183.1 154.8M189.0 154.5L199.2 154.6M205.0 154.5L215.2 154.4M221.0 154.5L231.1 154.2M237.0 154.5L247.0 154.1M253.0 154.5L262.9 154.0M269.0 154.5L278.8 153.9M285.0 154.5L294.7 153.9M301.0 154.5L310.6 153.8M317.0 154.5L326.5 153.8M333.0 154.5L342.5 153.9M349.0 154.5L358.4 154.0M365.0 154.5L374.3 154.1M381.0 154.5L390.3 154.2M45.0 157.5L54.2 157.8M61.0 157.5L70.0 157.9M77.0 157.5L86.0 158.0M93.0 157.5L102.0 158.1M109.0 157.5L118.0 158.3M125.0 157.5L134.5 158.3M141.0 157.5L150.9 158.2M157.0 157.5L167.0 158.0M173.0 157.5L183.1 157.8M189.0 157.5L199.2 157.6M205.0 157.5L215.2 157.4M221.0 157.5L231.1 157.2M237.0 157.5L247.0 157.1M253.0 157.5L262.9 157.0M269.0 157.5L278.8 156.9M285.0 157.5L294.7 156.9M301.0 157.5L310.6 156.9M317.0 157.5L326.5 156.9M333.0 157.5L342.4 156.9M349.0 157.5L358.4 157.0M365.0 157.5L374.3 157.1M381.0 157.5L390.3 157.2M45.0 160.5L54.2 160.8M61.0 160.5L70.0 160.9M77.0 160.5L86.0 161.0M93.0 160.5L102.0 161.1M109.0 160.5L118.0 161.2M125.0 160.5L134.5 161.3M141.0 160.5L150.9 161.2M157.0 160.5L166.9 161.0M173.0 160.5L183.1 160.8M189.0 160.5L199.1 160.6M205.0 160.5L215.1 160.4M221.0 160.5L231.1 160.2M237.0 160.5L246.9 160.1M253.0 160.5L262.9 160.0M269.0 160.5L278.8 159.9M285.0 160.5L294.7 159.9M301.0 160.5L310.6 159.9M317.0 160.5L326.5 159.9M333.0 160.5L342.4 159.9M349.0 160.5L358.4 160.0M365.0 160.5L374.3 160.1M381.0 160.5L390.3 160.2M45.0 163.5L54.2 163.8M61.0 163.5L70.1 163.9M77.0 163.5L86.0 164.0M93.0 163.5L102.0 164.1M109.0 163.5L118.1 164.2M125.0 163.5L134.5 164.2M141.0 163.5L150.8 164.1M157.0 163.5L166.9 164.0M173.0 163.5L183.0 163.8M189.0 163.5L199.1 163.6M205.0 163.5L215.1 163.4M221.0 163.5L231.0 163.2M237.0 163.5L246.9 163.1M253.0 163.5L262.8 163.0M269.0 163.5L278.7 163.0M285.0 163.5L294.7 162.9M301.0 163.5L310.6 162.9M317.0 163.5L326.5 162.9M333.0 163.5L342.4 163.0M349.0 163.5L358.4 163.0M365.0 163.5L374.4 163.1M381.0 163.5L390.3 163.2M45.0 166.5L54.2 166.8M61.0 166.5L70.1 166.9M77.0 166.5L86.1 167.0M93.0 166.5L102.1 167.1M109.0 166.5L118.1 167.2M125.0 166.5L134.5 167.2M141.0 166.5L150.8 167.1M157.0 166.5L166.9 166.9M173.0 166.5L183.0 166.8M189.0 166.5L199.0 166.6M205.0 166.5L215.1 166.4M221.0 166.5L231.0 166.3M237.0 166.5L246.9 166.1M253.0 166.5L262.8 166.1M269.0 166.5L278.7 166.0M285.0 166.5L294.7 166.0M301.0 166.5L310.6 165.9M317.0 166.5L326.5 165.9M333.0 166.5L342.4 166.0M349.0 166.5L358.4 166.1M365.0 166.5L374.4 166.1M381.0 166.5L390.3 166.2M45.0 169.5L54.2 169.8M61.0 169.5L70.1 169.9M77.0 169.5L86.1 169.9M93.0 169.5L102.1 170.0M109.0 169.5L118.2 170.1M125.0 169.5L134.5 170.1M141.0 169.5L150.8 170.1M157.0 169.5L166.8 169.9M173.0 169.5L182.9 169.7M189.0 169.5L199.0 169.6M205.0 169.5L215.0 169.4M221.0 169.5L231.0 169.3M237.0 169.5L246.9 169.2M253.0 169.5L262.8 169.1M269.0 169.5L278.7 169.0M285.0 169.5L294.7 169.0M301.0 169.5L310.6 169.0M317.0 169.5L326.5 169.0M333.0 169.5L342.4 169.0M349.0 169.5L358.4 169.1M365.0 169.5L374.4 169.1M381.0 169.5L390.3 169.2M45.0 172.5L54.2 172.8M61.0 172.5L70.1 172.8M77.0 172.5L86.1 172.9M93.0 172.5L102.1 173.0M109.0 172.5L118.2 173.1M125.0 172.5L134.5 173.1M141.0 172.5L150.8 173.0M157.0 172.5L166.8 172.9M173.0 172.5L182.9 172.7M189.0 172.5L199.0 172.6M205.0 172.5L215.0 172.4M221.0 172.5L230.9 172.3M237.0 172.5L246.9 172.2M253.0 172.5L262.8 172.1M269.0 172.5L278.7 172.0M285.0 172.5L294.7 172.0M301.0 172.5L310.6 172.0M317.0 172.5L326.5 172.0M333.0 172.5L342.4 172.0M349.0 172.5L358.4 172.1M365.0 172.5L374.4 172.2M381.0 172.5L390.3 172.2M45.0 175.5L54.2 175.8M61.0 175.5L70.2 175.8M77.0 175.5L86.1 175.9M93.0 175.5L102.1 176.0M109.0 175.5L118.2 176.1M125.0 175.5L134.5 176.1M141.0 175.5L150.7 176.0M157.0 175.5L166.8 175.9M173.0 175.5L182.9 175.7M189.0 175.5L198.9 175.6M205.0 175.5L214.9 175.4M221.0 175.5L230.9 175.3M237.0 175.5L246.9 175.2M253.0 175.5L262.8 175.1M269.0 175.5L278.7 175.1M285.0 175.5L294.6 175.0M301.0 175.5L310.6 175.0M317.0 175.5L326.5 175.0M333.0 175.5L342.4 175.0M349.0 175.5L358.4 175.1M365.0 175.5L374.4 175.2M381.0 175.5L390.4 175.2M45.0 178.5L54.2 178.8M61.0 178.5L70.2 178.8M77.0 178.5L86.1 178.9M93.0 178.5L102.1 179.0M109.0 178.5L118.2 179.0M125.0 178.5L134.5 179.1M141.0 178.5L150.7 179.0M157.0 178.5L166.8 178.9M173.0 178.5L182.8 178.7M189.0 178.5L198.9 178.6M205.0 178.5L214.9 178.4M221.0 178.5L230.9 178.3M237.0 178.5L246.9 178.2M253.0 178.5L262.8 178.1M269.0 178.5L278.7 178.1M285.0 178.5L294.6 178.0M301.0 178.5L310.6 178.0M317.0 178.5L326.5 178.0M333.0 178.5L342.4 178.1M349.0 178.5L358.4 178.1M365.0 178.5L374.4 178.2M381.0 178.5L390.4 178.2M45.0 181.5L54.2 181.8M61.0 181.5L70.2 181.8M77.0 181.5L86.1 181.9M93.0 181.5L102.2 182.0M109.0 181.5L118.3 182.0M125.0 181.5L134.4 182.0M141.0 181.5L150.6 182.0M157.0 181.5L166.7 181.8M173.0 181.5L182.8 181.7M189.0 181.5L198.9 181.6M205.0 181.5L214.9 181.4M221.0 181.5L230.9 181.3M237.0 181.5L246.8 181.2M253.0 181.5L262.8 181.2M269.0 181.5L278.7 181.1M285.0 181.5L294.6 181.1M301.0 181.5L310.6 181.0M317.0 181.5L326.5 181.0M333.0 181.5L342.4 181.1M349.0 181.5L358.4 181.1M365.0 181.5L374.4 181.2M381.0 181.5L390.4 181.2M45.0 184.5L54.2 184.8M61.0 184.5L70.2 184.8M77.0 184.5L86.2 184.9M93.0 184.5L102.2 185.0M109.0 184.5L118.3 185.0M125.0 184.5L134.4 185.0M141.0 184.5L150.6 184.9M157.0 184.5L166.7 184.8M173.0 184.5L182.8 184.7M189.0 184.5L198.8 184.6M205.0 184.5L214.9 184.4M221.0 184.5L230.8 184.3M237.0 184.5L246.8 184.2M253.0 184.5L262.8 184.2M269.0 184.5L278.7 184.1M285.0 184.5L294.6 184.1M301.0 184.5L310.6 184.1M317.0 184.5L326.5 184.1M333.0 184.5L342.4 184.1M349.0 184.5L358.4 184.1M365.0 184.5L374.4 184.2M381.0 184.5L390.4 184.2M45.0 187.5L54.2 187.8M61.0 187.5L70.2 187.8M77.0 187.5L86.2 187.9M93.0 187.5L102.2 187.9M109.0 187.5L118.3 188.0M125.0 187.5L134.4 188.0M141.0 187.5L150.6 187.9M157.0 187.5L166.7 187.8M173.0 187.5L182.8 187.7M189.0 187.5L198.8 187.6M205.0 187.5L214.8 187.5M221.0 187.5L230.8 187.3M237.0 187.5L246.8 187.3M253.0 187.5L262.8 187.2M269.0 187.5L278.7 187.1M285.0 187.5L294.6 187.1M301.0 187.5L310.6 187.1M317.0 187.5L326.5 187.1M333.0 187.5L342.4 187.1M349.0 187.5L358.4 187.1M365.0 187.5L374.5 187.2M381.0 187.5L390.4 187.2M45.0 190.5L54.3 190.8M61.0 190.5L70.2 190.8M77.0 190.5L86.2 190.9M93.0 190.5L102.2 190.9M109.0 190.5L118.3 191.0M125.0 190.5L134.4 190.9M141.0 190.5L150.6 190.9M157.0 190.5L166.7 190.8M173.0 190.5L182.8 190.7M189.0 190.5L198.8 190.6M205.0 190.5L214.8 190.5M221.0 190.5L230.8 190.3M237.0 190.5L246.8 190.3M253.0 190.5L262.7 190.2M269.0 190.5L278.7 190.1M285.0 190.5L294.6 190.1M301.0 190.5L310.6 190.1M317.0 190.5L326.5 190.1M333.0 190.5L342.4 190.1M349.0 190.5L358.4 190.1M365.0 190.5L374.5 190.2M381.0 190.5L390.4 190.2M45.0 193.5L54.3 193.8M61.0 193.5L70.3 193.8M77.0 193.5L86.2 193.9M93.0 193.5L102.2 193.9M109.0 193.5L118.3 193.9M125.0 193.5L134.4 193.9M141.0 193.5L150.6 193.9M157.0 193.5L166.7 193.8M173.0 193.5L182.7 193.7M189.0 193.5L198.8 193.6M205.0 193.5L214.8 193.5M221.0 193.5L230.8 193.4M237.0 193.5L246.8 193.3M253.0 193.5L262.7 193.2M269.0 193.5L278.7 193.2M285.0 193.5L294.6 193.1M301.0 193.5L310.6 193.1M317.0 193.5L326.5 193.1M333.0 193.5L342.4 193.1M349.0 193.5L358.4 193.2M365.0 193.5L374.4 193.2M381.0 193.5L390.4 193.3M45.0 196.5L54.3 196.8M61.0 196.5L70.3 196.8M77.0 196.5L86.2 196.9M93.0 196.5L102.3 196.9M109.0 196.5L118.3 196.9M125.0 196.5L134.4 196.9M141.0 196.5L150.6 196.9M157.0 196.5L166.7 196.8M173.0 196.5L182.7 196.7M189.0 196.5L198.8 196.6M205.0 196.5L214.8 196.5M221.0 196.5L230.8 196.4M237.0 196.5L246.8 196.3M253.0 196.5L262.7 196.2M269.0 196.5L278.7 196.2M285.0 196.5L294.6 196.1M301.0 196.5L310.6 196.1M317.0 196.5L326.5 196.1M333.0 196.5L342.4 196.1M349.0 196.5L358.4 196.2M365.0 196.5L374.4 196.2M381.0 196.5L390.4 196.3M45.0 199.5L54.3 199.7M61.0 199.5L70.3 199.8M77.0 199.5L86.3 199.8M93.0 199.5L102.3 199.9M109.0 199.5L118.4 199.9M125.0 199.5L134.5 199.9M141.0 199.5L150.6 199.8M157.0 199.5L166.7 199.8M173.0 199.5L182.7 199.7M189.0 199.5L198.8 199.6M205.0 199.5L214.8 199.5M221.0 199.5L230.8 199.4M237.0 199.5L246.8 199.3M253.0 199.5L262.7 199.2M269.0 199.5L278.7 199.2M285.0 199.5L294.6 199.2M301.0 199.5L310.5 199.1M317.0 199.5L326.5 199.1M333.0 199.5L342.4 199.2M349.0 199.5L358.4 199.2M365.0 199.5L374.4 199.2M381.0 199.5L390.4 199.3" stroke="#000" stroke-opacity="0.18" stroke-width="1" fill="none"/>
<path d="M54.3 34.3L54.3 37.3L54.3 40.3L54.3 43.3L54.3 46.3L54.3 49.3L54.3 52.3L54.3 55.3L54.3 58.3L54.2 61.3L54.2 64.3L54.2 67.3L54.2 70.3L54.2 73.3L54.2 76.3L54.2 79.4L54.2 82.4L54.2 85.4L54.2 88.4L54.3 91.4L54.3 94.4L54.4 97.5L54.4 100.5L54.4 103.5L54.4 106.5L54.4 109.6L54.4 112.6L54.4 115.6L54.4 118.6L54.4 121.6L54.4 124.7L54.4 127.7L54.4 130.7L54.3 133.7L54.3 136.7L54.3 139.7L54.3 142.7L54.3 145.8L54.3 148.8L54.3 151.8L54.3 154.8L54.3 157.8L54.3 160.8L54.3 163.8L54.3 166.8L54.3 169.8L54.3 172.8L54.3 175.8L54.3 178.8L54.3 181.8L54.3 184.8L54.3 187.8L54.4 190.8L54.4 193.8L54.4 196.8L54.4 199.8M70.2 34.2L70.2 37.2L70.2 40.2L70.2 43.2L70.2 46.2L70.1 49.2L70.1 52.2L70.1 55.2L70.1 58.2L70.1 61.2L70.1 64.2L70.1 67.2L70.1 70.2L70.1 73.2L70.1 76.2L70.1 79.3L70.1 82.3L70.1 85.3L70.1 88.3L70.1 91.4L70.2 94.4L70.2 97.4L70.2 100.5L70.2 103.5L70.2 106.5L70.2 109.6L70.2 112.6L70.2 115.7L70.2 118.7L70.2 121.7L70.2 124.7L70.2 127.8L70.2 130.8L70.2 133.8L70.2 136.8L70.1 139.8L70.1 142.8L70.1 145.9L70.1 148.9L70.1 151.9L70.1 154.9L70.1 157.9L70.1 160.9L70.2 163.9L70.2 166.9L70.2 169.9L70.2 172.9L70.3 175.8L70.3 178.8L70.3 181.8L70.3 184.8L70.3 187.8L70.3 190.8L70.4 193.8L70.4 196.8L70.4 199.8M86.2 34.1L86.2 37.1L86.1 40.1L86.1 43.1L86.1 46.1L86.1 49.1L86.0 52.1L86.0 55.1L86.0 58.1L86.0 61.0L86.0 64.0L86.0 67.1L86.0 70.1L86.0 73.1L86.0 76.1L85.9 79.1L85.9 82.1L85.8 85.2L85.7 88.2L85.7 91.3L85.6 94.3L85.6 97.4L85.6 100.4L85.7 103.5L85.7 106.5L85.7 109.6L85.8 112.7L85.8 115.8L85.8 118.8L85.9 121.9L85.9 124.9L85.9 127.9L86.0 131.0L86.0 134.0L86.0 137.0L86.0 140.0L86.0 143.0L86.0 146.0L86.0 149.0L86.0 152.0L86.1 155.0L86.1 158.0L86.1 161.0L86.1 164.0L86.2 167.0L86.2 170.0L86.2 172.9L86.2 175.9L86.2 178.9L86.2 181.9L86.3 184.9L86.3 187.9L86.3 190.9L86.3 193.9L86.3 196.9L86.4 199.8M102.3 34.0L102.2 37.0L102.2 40.0L102.1 43.0L102.1 46.0L102.1 48.9L102.0 51.9L102.0 54.9L102.0 57.9L102.0 60.8L102.0 63.8L102.0 66.8L101.9 69.8L101.8 72.8L101.8 75.8L101.6 78.8L101.5 81.8L101.3 84.8L101.2 87.9L100.9 91.0L99.9 94.1L97.9 97.3L97.3 100.4L96.7 103.5L96.9 106.5L98.2 109.7L99.2 112.8L101.0 116.1L101.1 119.1L101.3 122.2L101.4 125.3L101.5 128.3L101.6 131.3L101.7 134.3L101.7 137.3L101.8 140.3L101.8 143.3L101.9 146.2L101.9 149.2L102.0 152.2L102.0 155.2L102.1 158.1L102.1 161.1L102.1 164.1L102.2 167.1L102.2 170.1L102.2 173.0L102.2 176.0L102.2 179.0L102.3 182.0L102.3 185.0L102.3 187.9L102.3 190.9L102.3 193.9L102.4 196.9L102.4 199.9M118.5 33.9L118.4 36.9L118.4 39.9L118.3 42.9L118.3 45.8L118.3 48.8L118.2 51.8L118.2 54.7L118.1 57.7L118.1 60.6L118.0 63.6L118.0 66.5L117.9 69.5L117.9 72.4L117.9 75.3L117.8 78.2L117.8 81.2L117.7 84.0L117.6 86.9L117.3 89.8L117.0 92.7M115.3 120.1L117.2 123.3L117.4 126.3L117.7 129.1L117.8 132.0L117.9 134.8L117.9 137.8L117.9 140.6L117.9 143.6L117.9 146.5L118.0 149.5L118.0 152.4L118.0 155.3L118.1 158.3L118.1 161.3L118.2 164.2L118.2 167.2L118.3 170.1L118.3 173.1L118.3 176.1L118.3 179.1L118.4 182.0L118.4 185.0L118.4 188.0L118.4 191.0L118.4 193.9L118.4 196.9L118.5 199.9M134.6 33.9L134.6 36.9L134.6 39.9L134.5 42.8L134.5 45.8L134.5 48.7L134.5 51.7L134.5 54.6L134.4 57.6L134.4 60.5L134.4 63.5L134.4 66.4L134.4 69.3L134.4 72.2L134.4 75.1L134.5 77.9L134.5 80.8L134.6 83.5L134.7 86.3L134.8 88.9L134.9 91.7L135.1 94.1L136.1 101.0L136.1 104.1L136.1 107.1L136.0 110.2L136.0 113.2L135.2 118.7L135.1 121.4L134.9 124.0L134.8 126.8L134.7 129.4L134.7 132.3L134.6 135.1L134.6 138.0L134.6 140.8L134.5 143.7L134.5 146.6L134.5 149.6L134.6 152.5L134.6 155.4L134.6 158.3L134.6 161.3L134.6 164.2L134.6 167.2L134.6 170.2L134.6 173.1L134.6 176.1L134.6 179.1L134.5 182.0L134.5 185.0L134.5 188.0L134.5 190.9L134.5 193.9L134.5 196.9L134.6 199.9M150.6 34.0L150.6 36.9L150.7 39.9L150.7 42.9L150.7 45.8L150.7 48.8L150.8 51.8L150.8 54.7L150.9 57.7L150.9 60.6L150.9 63.5L151.0 66.5L151.0 69.4L151.1 72.3L151.1 75.3L151.2 78.2L151.3 81.1L151.3 84.0L151.4 86.9L151.5 89.8L151.6 92.8L151.9 98.1L151.9 101.1L151.9 104.1L151.9 107.2L151.9 110.2L151.9 113.2L151.8 116.3L151.8 119.3L151.6 123.0L151.5 125.9L151.4 128.8L151.4 131.8L151.3 134.7L151.2 137.7L151.2 140.6L151.1 143.5L151.1 146.4L151.1 149.4L151.0 152.3L151.0 155.3L151.0 158.2L151.0 161.2L150.9 164.1L150.9 167.1L150.9 170.1L150.9 173.1L150.8 176.0L150.8 179.0L150.7 182.0L150.7 184.9L150.7 187.9L150.7 190.9L150.7 193.9L150.7 196.9L150.7 199.8M166.8 34.1L166.9 37.0L166.9 40.0L166.9 43.0L166.9 46.0L166.9 48.9L167.0 51.9L167.0 54.9L167.1 57.8L167.2 60.8L167.2 63.8L167.3 66.7L167.4 69.7L167.5 72.7L167.5 75.6L167.6 78.6L167.6 81.6L167.6 84.6L167.7 87.5L167.7 90.5L167.8 95.1L167.8 98.1L167.8 101.2L167.8 104.2L167.7 107.2L167.7 110.2L167.7 113.3L167.8 116.3L167.8 119.3L167.7 122.2L167.7 125.2L167.6 128.2L167.6 131.2L167.5 134.2L167.4 137.2L167.4 140.2L167.3 143.1L167.2 146.1L167.2 149.1L167.1 152.1L167.1 155.0L167.1 158.0L167.0 161.0L167.0 164.0L167.0 167.0L166.9 169.9L166.9 172.9L166.9 175.9L166.9 178.9L166.8 181.8L166.8 184.8L166.8 187.8L166.8 190.8L166.8 193.8L166.8 196.8L166.8 199.8M183.0 34.2L183.0 37.2L183.0 40.2L183.0 43.1L183.1 46.1L183.1 49.1L183.1 52.1L183.2 55.1L183.2 58.1L183.3 61.1L183.3 64.1L183.4 67.0L183.4 70.0L183.5 73.0L183.5 76.0L183.6 79.0L183.6 82.0L183.6 85.0L183.7 88.0L183.7 92.1L183.7 95.2L183.7 98.2L183.7 101.2L183.7 104.2L183.7 107.3L183.7 110.3L183.7 113.3L183.7 116.3L183.7 119.4L183.7 121.7L183.7 124.7L183.6 127.8L183.6 130.8L183.5 133.8L183.5 136.8L183.4 139.8L183.4 142.8L183.4 145.8L183.3 148.8L183.3 151.8L183.2 154.8L183.2 157.8L183.2 160.8L183.1 163.8L183.1 166.8L183.0 169.7L183.0 172.7L183.0 175.7L182.9 178.7L182.9 181.7L182.9 184.7L182.9 187.7L182.8 190.7L182.8 193.7L182.8 196.7L182.8 199.7M199.0 34.3L199.0 37.3L199.0 40.3L199.1 43.3L199.1 46.3L199.2 49.3L199.2 52.3L199.2 55.3L199.3 58.3L199.3 61.3L199.4 64.3L199.4 67.3L199.5 70.3L199.5 73.3L199.5 76.3L199.6 79.3L199.6 82.3L199.6 85.4L199.6 88.4L199.7 92.2L199.6 95.2L199.6 98.2L199.6 101.3L199.6 104.3L199.6 107.3L199.6 110.3L199.6 113.4L199.6 116.4L199.6 119.4L199.6 121.4L199.6 124.4L199.5 127.4L199.5 130.4L199.5 133.5L199.5 136.5L199.4 139.5L199.4 142.5L199.4 145.5L199.4 148.5L199.3 151.5L199.3 154.6L199.3 157.6L199.2 160.6L199.2 163.6L199.1 166.6L199.1 169.6L199.1 172.6L199.0 175.6L199.0 178.6L199.0 181.6L198.9 184.6L198.9 187.6L198.9 190.6L198.9 193.6L198.9 196.6L198.9 199.6M214.9 34.4L215.0 37.5L215.0 40.5L215.1 43.5L215.1 46.5L215.1 49.5L215.2 52.5L215.2 55.5L215.3 58.5L215.3 61.5L215.4 64.5L215.4 67.5L215.5 70.5L215.5 73.5L215.5 76.6L215.5 79.6L215.6 82.6L215.6 85.6L215.6 88.6L215.6 92.2L215.6 95.3L215.5 98.3L215.5 101.3L215.5 104.4L215.5 107.4L215.5 110.4L215.5 113.4L215.5 116.5L215.5 119.5L215.5 121.1L215.5 124.1L215.5 127.2L215.5 130.2L215.4 133.2L215.4 136.2L215.4 139.3L215.4 142.3L215.4 145.3L215.4 148.3L215.3 151.3L215.3 154.4L215.3 157.4L215.2 160.4L215.2 163.4L215.2 166.4L215.1 169.4L215.1 172.4L215.0 175.4L215.0 178.4L215.0 181.4L215.0 184.4L214.9 187.5L214.9 190.5L214.9 193.5L214.9 196.5L214.9 199.5M230.9 34.6L231.0 37.6L231.0 40.6L231.0 43.6L231.0 46.6L231.1 49.6L231.1 52.6L231.2 55.6L231.2 58.6L231.3 61.7L231.3 64.7L231.4 67.7L231.4 70.7L231.4 73.7L231.5 76.7L231.5 79.8L231.5 82.8L231.5 85.8L231.5 88.8L231.5 92.3L231.5 95.3L231.4 98.4L231.4 101.4L231.4 104.4L231.4 107.4L231.4 110.5L231.4 113.5L231.4 116.5L231.4 119.5L231.4 120.9L231.3 123.9L231.3 127.0L231.3 130.0L231.3 133.0L231.3 136.1L231.3 139.1L231.3 142.1L231.3 145.1L231.3 148.1L231.3 151.2L231.2 154.2L231.2 157.2L231.2 160.2L231.1 163.2L231.1 166.3L231.1 169.3L231.0 172.3L231.0 175.3L231.0 178.3L231.0 181.3L230.9 184.3L230.9 187.3L230.9 190.3L230.9 193.4L230.9 196.4L230.9 199.4M247.0 34.7L247.0 37.7L247.0 40.7L247.0 43.7L247.0 46.7L247.0 49.7L247.1 52.7L247.1 55.8L247.1 58.8L247.1 61.8L247.2 64.8L247.2 67.8L247.2 70.9L247.3 73.9L247.3 76.9L247.4 79.9L247.4 82.9L247.4 86.0L247.4 89.0L247.4 92.0L247.3 95.4L247.3 98.5L247.3 101.5L247.3 104.5L247.3 107.5L247.3 110.6L247.3 113.6L247.3 116.6L247.3 119.6L247.2 120.8L247.2 123.8L247.2 126.8L247.2 129.9L247.2 132.9L247.2 135.9L247.2 139.0L247.2 142.0L247.1 145.0L247.1 148.0L247.1 151.0L247.1 154.1L247.1 157.1L247.0 160.1L247.0 163.1L247.0 166.1L247.0 169.2L247.0 172.2L247.0 175.2L247.0 178.2L246.9 181.2L246.9 184.2L246.9 187.2L246.9 190.3L246.9 193.3L246.9 196.3L246.9 199.3M262.9 34.8L262.9 37.8L262.9 40.8L262.9 43.8L262.9 46.8L263.0 49.8L263.0 52.8L263.0 55.9L263.0 58.9L263.0 61.9L263.0 64.9L263.1 67.9L263.1 71.0L263.1 74.0L263.2 77.0L263.2 80.0L263.2 83.1L263.1 86.1L262.9 89.1L262.6 92.1L262.5 95.4L262.7 98.5L263.0 101.5L263.1 104.6L263.1 107.6L263.1 110.6L262.9 113.6L262.6 116.6L262.4 117.7L262.6 120.7L262.9 123.7L263.0 126.7L263.1 129.7L263.1 132.8L263.0 135.8L263.0 138.8L263.0 141.9L263.0 144.9L263.0 147.9L263.0 150.9L263.0 154.0L263.0 157.0L263.0 160.0L262.9 163.0L262.9 166.1L262.9 169.1L262.9 172.1L262.9 175.1L262.9 178.1L262.9 181.1L262.9 184.2L262.9 187.2L262.8 190.2L262.8 193.2L262.8 196.2L262.8 199.2M278.8 34.8L278.8 37.8L278.8 40.9L278.8 43.9L278.8 46.9L278.9 49.9L278.9 52.9L278.9 55.9L278.9 59.0L278.9 62.0L278.9 65.0L278.9 68.0L278.9 71.0L279.0 74.1L279.0 77.1L278.9 80.1L278.8 83.1L278.6 86.2L278.0 89.1L277.4 92.1L277.1 95.1L277.3 98.4L277.9 101.5L278.5 104.6L278.7 107.7L278.3 110.7L277.6 113.6L277.1 114.7L277.1 117.7L277.7 120.7L278.3 123.7L278.7 126.7L278.9 129.7L278.9 132.7L278.9 135.7L278.9 138.8L278.9 141.8L278.9 144.8L278.9 147.8L278.9 150.9L278.9 153.9L278.9 156.9L278.9 159.9L278.8 163.0L278.8 166.0L278.8 169.0L278.8 172.0L278.8 175.1L278.8 178.1L278.8 181.1L278.8 184.1L278.8 187.1L278.8 190.1L278.8 193.2L278.8 196.2L278.8 199.2M294.8 34.9L294.8 37.9L294.8 40.9L294.8 43.9L294.8 46.9L294.8 50.0L294.8 53.0L294.8 56.0L294.8 59.0L294.8 62.1L294.8 65.1L294.8 68.1L294.8 71.1L294.8 74.1L294.8 77.2L294.7 80.2L294.5 83.2L294.0 86.2L293.2 89.1L292.2 92.1L291.5 95.0L291.5 98.3L292.1 101.4L293.1 104.6L293.4 107.7L292.5 110.5L291.7 113.5L291.4 114.8L292.0 117.8L292.9 120.7L293.8 123.6L294.4 126.6L294.7 129.6L294.8 132.7L294.8 135.7L294.8 138.7L294.8 141.7L294.8 144.8L294.8 147.8L294.8 150.8L294.8 153.8L294.8 156.9L294.8 159.9L294.8 162.9L294.8 165.9L294.8 169.0L294.8 172.0L294.7 175.0L294.7 178.0L294.7 181.1L294.7 184.1L294.7 187.1L294.7 190.1L294.7 193.1L294.7 196.1L294.7 199.1M310.7 34.9L310.7 37.9L310.7 40.9L310.6 44.0L310.6 47.0L310.6 50.0L310.6 53.0L310.6 56.0L310.7 59.1L310.7 62.1L310.7 65.1L310.7 68.1L310.7 71.2L310.7 74.2L310.6 77.2L310.4 80.2L310.1 83.2L309.5 86.2L308.5 89.1L307.4 92.1L306.5 95.0L306.1 98.3L306.3 101.3L307.3 104.5L307.5 107.5L306.6 110.4L306.2 113.3L306.4 114.9L307.2 117.8L308.3 120.7L309.3 123.6L310.0 126.6L310.4 129.6L310.6 132.6L310.7 135.6L310.7 138.7L310.7 141.7L310.7 144.8L310.7 147.8L310.7 150.8L310.7 153.8L310.7 156.9L310.7 159.9L310.7 162.9L310.7 165.9L310.7 169.0L310.7 172.0L310.7 175.0L310.7 178.0L310.7 181.0L310.7 184.0L310.7 187.1L310.7 190.1L310.7 193.1L310.7 196.1L310.6 199.1M326.6 34.9L326.6 37.9L326.6 41.0L326.6 44.0L326.6 47.0L326.6 50.0L326.6 53.0L326.6 56.1L326.6 59.1L326.6 62.1L326.6 65.1L326.6 68.2L326.6 71.2L326.5 74.2L326.4 77.2L326.2 80.2L325.7 83.2L324.9 86.2L323.8 89.1L322.6 92.0L321.5 94.9L320.8 97.9L320.6 101.2L321.3 104.3L321.4 107.3L320.8 110.2L320.7 112.0L321.4 115.0L322.5 117.9L323.8 120.8L324.9 123.7L325.7 126.6L326.2 129.6L326.4 132.6L326.6 135.7L326.6 138.7L326.6 141.7L326.6 144.8L326.6 147.8L326.6 150.8L326.6 153.8L326.6 156.9L326.6 159.9L326.6 162.9L326.6 165.9L326.6 169.0L326.6 172.0L326.6 175.0L326.6 178.0L326.6 181.0L326.6 184.1L326.6 187.1L326.6 190.1L326.6 193.1L326.6 196.1L326.6 199.1M342.7 34.9L342.7 37.9L342.6 40.9L342.6 44.0L342.6 47.0L342.6 50.0L342.6 53.0L342.6 56.0L342.6 59.1L342.5 62.1L342.5 65.1L342.5 68.1L342.5 71.2L342.4 74.2L342.2 77.2L341.9 80.2L341.4 83.2L340.6 86.2L339.5 89.1L338.3 92.0L337.1 94.9L336.2 97.9L335.8 100.8L336.1 104.2L336.1 107.2L335.8 109.1L336.2 112.1L337.1 115.0L338.4 117.9L339.6 120.8L340.7 123.7L341.5 126.7L342.0 129.7L342.3 132.7L342.5 135.7L342.5 138.8L342.6 141.8L342.6 144.8L342.6 147.8L342.6 150.9L342.6 153.9L342.5 156.9L342.5 159.9L342.5 163.0L342.5 166.0L342.5 169.0L342.5 172.0L342.5 175.0L342.5 178.1L342.5 181.1L342.5 184.1L342.5 187.1L342.5 190.1L342.5 193.1L342.5 196.1L342.5 199.1M358.6 34.9L358.6 37.9L358.6 40.9L358.6 43.9L358.6 46.9L358.5 50.0L358.5 53.0L358.5 56.0L358.5 59.0L358.5 62.0L358.4 65.0L358.4 68.1L358.3 71.1L358.2 74.1L358.0 77.1L357.7 80.1L357.2 83.1L356.5 86.1L355.5 89.1L354.4 92.0L353.4 94.9L352.4 97.9L351.8 100.8L351.6 104.5L351.6 106.1L351.9 109.1L352.5 112.1L353.5 115.0L354.7 118.0L355.7 120.9L356.7 123.9L357.4 126.9L357.8 129.8L358.2 132.9L358.3 135.9L358.4 138.9L358.5 141.9L358.5 144.9L358.5 147.9L358.5 151.0L358.5 154.0L358.5 157.0L358.5 160.0L358.5 163.0L358.5 166.0L358.5 169.1L358.5 172.1L358.5 175.1L358.5 178.1L358.5 181.1L358.5 184.1L358.5 187.1L358.5 190.1L358.5 193.2L358.5 196.2L358.5 199.2M374.5 34.8L374.5 37.9L374.5 40.9L374.5 43.9L374.5 46.9L374.4 49.9L374.4 52.9L374.4 55.9L374.4 58.9L374.3 61.9L374.3 64.9L374.2 68.0L374.2 71.0L374.0 74.0L373.9 77.0L373.6 80.0L373.1 83.0L372.5 85.9L371.7 88.9L370.7 91.9L369.6 94.8L368.6 97.7L367.9 100.7L367.5 103.6L367.6 106.5L368.1 109.4L368.9 112.4L369.9 115.3L371.0 118.3L372.0 121.2L372.8 124.1L373.4 127.1L373.8 130.1L374.1 133.1L374.2 136.1L374.3 139.1L374.4 142.1L374.4 145.1L374.4 148.1L374.4 151.1L374.4 154.1L374.4 157.1L374.4 160.1L374.5 163.1L374.5 166.1L374.5 169.1L374.5 172.1L374.5 175.2L374.5 178.2L374.5 181.2L374.5 184.2L374.6 187.2L374.6 190.2L374.5 193.2L374.5 196.2L374.5 199.2M390.4 34.8L390.4 37.8L390.4 40.8L390.4 43.8L390.4 46.8L390.4 49.8L390.4 52.8L390.3 55.8L390.3 58.8L390.2 61.8L390.2 64.8L390.1 67.8L390.1 70.8L390.0 73.8L389.8 76.8L389.6 79.8L389.2 82.8L388.5 85.8L387.7 88.7L386.8 91.7L385.7 94.6L384.7 97.6L384.0 100.6L383.6 103.5L383.6 106.5L384.1 109.5L385.0 112.5L386.0 115.5L387.0 118.4L388.0 121.4L388.8 124.4L389.4 127.3L389.8 130.3L390.0 133.3L390.2 136.3L390.3 139.2L390.3 142.2L390.3 145.2L390.3 148.2L390.4 151.2L390.4 154.2L390.4 157.2L390.4 160.2L390.4 163.2L390.4 166.2L390.4 169.2L390.4 172.2L390.5 175.2L390.5 178.2L390.5 181.2L390.5 184.2L390.5 187.2L390.5 190.2L390.5 193.2L390.5 196.3L390.5 199.3" stroke="#000" stroke-opacity="0.16" stroke-width="1" fill="none"/>
<path d="M56.0 34.2L53.7 35.6L53.6 33.0ZM71.9 34.1L69.7 35.5L69.6 32.9ZM87.9 34.0L85.7 35.4L85.6 32.8ZM104.0 33.9L101.8 35.3L101.6 32.8ZM120.2 33.8L117.9 35.3L117.8 32.7ZM136.3 33.8L134.1 35.3L133.9 32.7ZM152.3 33.9L150.1 35.3L150.0 32.7ZM168.5 34.0L166.3 35.4L166.2 32.8ZM184.7 34.1L182.4 35.5L182.4 32.9ZM200.7 34.3L198.4 35.6L198.4 33.0ZM216.6 34.4L214.4 35.8L214.3 33.2ZM232.6 34.6L230.3 35.9L230.4 33.3ZM248.7 34.7L246.4 36.0L246.4 33.4ZM264.6 34.8L262.2 36.0L262.3 33.4ZM280.5 34.9L278.1 36.1L278.2 33.5ZM296.5 34.9L294.1 36.2L294.2 33.6ZM312.4 35.0L310.0 36.2L310.1 33.6ZM328.3 35.0L326.0 36.2L326.1 33.6ZM344.4 35.0L342.0 36.2L342.1 33.6ZM360.3 35.0L357.9 36.2L358.0 33.6ZM376.2 34.9L373.8 36.1L373.9 33.5ZM392.1 34.8L389.8 36.1L389.9 33.5ZM56.0 37.2L53.7 38.6L53.6 36.0ZM71.9 37.1L69.7 38.5L69.6 35.9ZM87.9 37.0L85.6 38.4L85.5 35.8ZM103.9 36.9L101.7 38.3L101.6 35.7ZM120.1 36.8L117.9 38.2L117.7 35.7ZM136.3 36.8L134.0 38.2L133.9 35.6ZM152.3 36.8L150.1 38.3L150.0 35.7ZM168.6 36.9L166.3 38.4L166.2 35.8ZM184.7 37.1L182.5 38.5L182.4 35.9ZM200.7 37.3L198.4 38.6L198.4 36.0ZM216.7 37.4L214.4 38.8L214.4 36.2ZM232.7 37.6L230.4 38.9L230.4 36.3ZM248.7 37.7L246.4 39.0L246.4 36.4ZM264.6 37.8L262.3 39.1L262.3 36.5ZM280.5 37.9L278.1 39.1L278.2 36.5ZM296.5 38.0L294.1 39.2L294.2 36.6ZM312.4 38.0L310.0 39.2L310.1 36.6ZM328.3 38.0L326.0 39.2L326.1 36.6ZM344.4 38.0L342.0 39.2L342.1 36.6ZM360.3 38.0L357.9 39.2L358.0 36.6ZM376.2 37.9L373.8 39.1L373.9 36.5ZM392.1 37.8L389.8 39.1L389.9 36.5ZM56.0 40.2L53.7 41.6L53.6 39.0ZM71.9 40.1L69.7 41.5L69.6 38.9ZM87.8 40.0L85.6 41.4L85.5 38.8ZM103.9 39.9L101.7 41.3L101.5 38.7ZM120.1 39.8L117.9 41.2L117.7 38.6ZM136.3 39.7L134.0 41.2L133.9 38.6ZM152.4 39.8L150.1 41.2L150.0 38.6ZM168.6 39.9L166.3 41.3L166.2 38.7ZM184.7 40.1L182.5 41.5L182.4 38.9ZM200.7 40.3L198.5 41.6L198.4 39.0ZM216.7 40.4L214.4 41.8L214.4 39.2ZM232.7 40.6L230.4 41.9L230.4 39.3ZM248.7 40.7L246.4 42.0L246.4 39.4ZM264.6 40.8L262.3 42.1L262.3 39.5ZM280.5 40.9L278.2 42.1L278.3 39.5ZM296.5 41.0L294.1 42.2L294.2 39.6ZM312.4 41.0L310.0 42.2L310.1 39.6ZM328.3 41.0L325.9 42.2L326.1 39.6ZM344.3 41.0L342.0 42.2L342.1 39.6ZM360.3 41.0L357.9 42.2L358.0 39.6ZM376.2 40.9L373.8 42.1L373.9 39.5ZM392.1 40.9L389.8 42.1L389.9 39.5ZM56.0 43.2L53.7 44.6L53.6 42.0ZM71.9 43.1L69.6 44.5L69.5 41.9ZM87.8 43.0L85.6 44.4L85.4 41.8ZM103.8 42.9L101.6 44.3L101.5 41.7ZM120.0 42.7L117.8 44.2L117.7 41.6ZM136.2 42.7L134.0 44.2L133.8 41.6ZM152.4 42.8L150.2 44.2L150.0 41.6ZM168.6 42.9L166.3 44.3L166.2 41.7ZM184.7 43.1L182.5 44.5L182.4 41.9ZM200.8 43.3L198.5 44.6L198.5 42.0ZM216.8 43.5L214.5 44.8L214.4 42.2ZM232.7 43.6L230.4 44.9L230.4 42.3ZM248.7 43.7L246.4 45.0L246.5 42.4ZM264.6 43.9L262.3 45.1L262.4 42.5ZM280.5 43.9L278.2 45.2L278.3 42.6ZM296.5 44.0L294.1 45.2L294.2 42.6ZM312.3 44.0L310.0 45.2L310.1 42.6ZM328.3 44.1L325.9 45.2L326.1 42.6ZM344.3 44.1L342.0 45.2L342.1 42.6ZM360.3 44.0L357.9 45.2L358.0 42.6ZM376.2 43.9L373.8 45.1L373.9 42.5ZM392.1 43.9L389.8 45.1L389.9 42.5ZM56.0 46.2L53.7 47.6L53.6 45.0ZM71.9 46.1L69.6 47.5L69.5 44.9ZM87.8 46.0L85.5 47.4L85.4 44.8ZM103.8 45.8L101.6 47.3L101.4 44.7ZM120.0 45.7L117.8 47.2L117.6 44.6ZM136.2 45.7L134.0 47.1L133.8 44.5ZM152.4 45.7L150.2 47.2L150.0 44.6ZM168.6 45.9L166.4 47.3L166.2 44.7ZM184.8 46.1L182.5 47.5L182.4 44.9ZM200.8 46.3L198.5 47.6L198.5 45.0ZM216.8 46.5L214.5 47.8L214.5 45.2ZM232.7 46.6L230.4 47.9L230.4 45.3ZM248.7 46.8L246.4 48.0L246.5 45.4ZM264.6 46.9L262.3 48.1L262.4 45.5ZM280.5 47.0L278.2 48.2L278.3 45.6ZM296.5 47.0L294.1 48.2L294.2 45.6ZM312.3 47.1L310.0 48.2L310.1 45.6ZM328.3 47.1L325.9 48.3L326.1 45.7ZM344.3 47.1L342.0 48.2L342.1 45.7ZM360.3 47.0L357.9 48.2L358.0 45.6ZM376.2 46.9L373.8 48.2L373.9 45.6ZM392.1 46.9L389.8 48.1L389.9 45.5ZM56.0 49.2L53.7 50.6L53.6 48.0ZM71.8 49.1L69.6 50.5L69.5 47.9ZM87.7 49.0L85.5 50.4L85.4 47.8ZM103.8 48.8L101.5 50.3L101.4 47.7ZM120.0 48.7L117.8 50.1L117.6 47.5ZM136.2 48.6L134.0 50.1L133.8 47.5ZM152.4 48.7L150.2 50.1L150.0 47.5ZM168.6 48.8L166.4 50.3L166.3 47.7ZM184.8 49.0L182.5 50.4L182.4 47.8ZM200.9 49.3L198.6 50.6L198.5 48.0ZM216.8 49.5L214.6 50.8L214.5 48.2ZM232.8 49.6L230.5 50.9L230.5 48.3ZM248.7 49.8L246.4 51.0L246.5 48.4ZM264.7 49.9L262.3 51.1L262.4 48.5ZM280.6 50.0L278.2 51.2L278.3 48.6ZM296.5 50.1L294.1 51.2L294.2 48.6ZM312.3 50.1L310.0 51.3L310.1 48.7ZM328.3 50.1L325.9 51.3L326.0 48.7ZM344.3 50.1L341.9 51.3L342.1 48.7ZM360.2 50.0L357.9 51.2L358.0 48.6ZM376.1 50.0L373.8 51.2L373.9 48.6ZM392.1 49.9L389.7 51.1L389.8 48.5ZM56.0 52.2L53.7 53.6L53.6 51.0ZM71.8 52.1L69.6 53.5L69.5 50.9ZM87.7 52.0L85.5 53.4L85.4 50.8ZM103.7 51.8L101.5 53.2L101.4 50.7ZM119.9 51.6L117.7 53.1L117.5 50.5ZM136.2 51.6L134.0 53.0L133.8 50.5ZM152.5 51.6L150.3 53.1L150.1 50.5ZM168.7 51.8L166.4 53.2L166.3 50.6ZM184.8 52.0L182.6 53.4L182.5 50.8ZM200.9 52.3L198.6 53.6L198.6 51.0ZM216.9 52.5L214.6 53.8L214.6 51.2ZM232.8 52.6L230.5 53.9L230.5 51.3ZM248.8 52.8L246.4 54.0L246.5 51.4ZM264.7 52.9L262.3 54.1L262.4 51.5ZM280.6 53.0L278.2 54.2L278.3 51.6ZM296.5 53.1L294.1 54.3L294.2 51.7ZM312.3 53.1L310.0 54.3L310.1 51.7ZM328.3 53.1L325.9 54.3L326.1 51.7ZM344.3 53.1L341.9 54.3L342.1 51.7ZM360.2 53.1L357.9 54.2L358.0 51.6ZM376.1 53.0L373.8 54.2L373.9 51.6ZM392.1 52.9L389.7 54.1L389.8 51.5ZM56.0 55.2L53.7 56.6L53.6 54.0ZM71.8 55.1L69.6 56.5L69.5 53.9ZM87.7 55.0L85.5 56.4L85.4 53.8ZM103.7 54.8L101.5 56.2L101.3 53.6ZM119.9 54.6L117.7 56.1L117.5 53.5ZM136.2 54.5L134.0 56.0L133.8 53.4ZM152.5 54.6L150.3 56.0L150.1 53.4ZM168.7 54.8L166.5 56.2L166.4 53.6ZM184.9 55.0L182.6 56.4L182.5 53.8ZM200.9 55.3L198.7 56.6L198.6 54.0ZM216.9 55.5L214.7 56.8L214.6 54.2ZM232.9 55.7L230.5 56.9L230.6 54.3ZM248.8 55.8L246.4 57.0L246.5 54.5ZM264.7 55.9L262.3 57.1L262.4 54.5ZM280.6 56.0L278.2 57.2L278.3 54.6ZM296.5 56.1L294.1 57.3L294.2 54.7ZM312.3 56.1L310.0 57.3L310.1 54.7ZM328.3 56.2L325.9 57.3L326.1 54.7ZM344.3 56.1L341.9 57.3L342.0 54.7ZM360.2 56.1L357.8 57.3L358.0 54.7ZM376.1 56.0L373.7 57.2L373.9 54.6ZM392.0 55.9L389.7 57.1L389.8 54.5ZM56.0 58.2L53.7 59.6L53.6 57.0ZM71.8 58.1L69.6 59.5L69.5 56.9ZM87.7 58.0L85.5 59.4L85.4 56.8ZM103.7 57.8L101.5 59.2L101.3 56.6ZM119.8 57.5L117.7 59.0L117.4 56.4ZM136.1 57.4L134.0 58.9L133.7 56.4ZM152.5 57.5L150.4 59.0L150.1 56.4ZM168.8 57.7L166.6 59.2L166.4 56.6ZM184.9 58.0L182.6 59.4L182.5 56.8ZM201.0 58.3L198.7 59.6L198.6 57.0ZM217.0 58.5L214.7 59.8L214.7 57.2ZM232.9 58.7L230.6 59.9L230.6 57.3ZM248.8 58.8L246.5 60.1L246.5 57.5ZM264.7 58.9L262.4 60.2L262.5 57.6ZM280.6 59.0L278.2 60.2L278.4 57.6ZM296.5 59.1L294.1 60.3L294.2 57.7ZM312.4 59.2L310.0 60.3L310.1 57.7ZM328.3 59.2L325.9 60.3L326.1 57.7ZM344.3 59.2L341.9 60.3L342.0 57.7ZM360.2 59.1L357.8 60.3L358.0 57.7ZM376.1 59.0L373.7 60.2L373.8 57.6ZM392.0 58.9L389.6 60.1L389.7 57.5ZM55.9 61.2L53.7 62.6L53.6 60.0ZM71.8 61.1L69.6 62.5L69.5 59.9ZM87.7 61.0L85.5 62.4L85.4 59.8ZM103.7 60.7L101.5 62.2L101.3 59.6ZM119.8 60.5L117.6 62.0L117.4 59.4ZM136.1 60.3L134.0 61.9L133.7 59.3ZM152.6 60.4L150.4 61.9L150.2 59.3ZM168.9 60.7L166.7 62.1L166.5 59.5ZM185.0 61.0L182.7 62.4L182.6 59.8ZM201.0 61.3L198.8 62.6L198.7 60.0ZM217.0 61.5L214.7 62.8L214.7 60.2ZM233.0 61.7L230.6 63.0L230.7 60.4ZM248.8 61.8L246.5 63.1L246.6 60.5ZM264.7 62.0L262.4 63.2L262.5 60.6ZM280.6 62.1L278.2 63.3L278.4 60.7ZM296.5 62.1L294.1 63.3L294.2 60.7ZM312.4 62.2L310.0 63.4L310.1 60.8ZM328.3 62.2L325.9 63.4L326.1 60.8ZM344.2 62.2L341.9 63.4L342.0 60.8ZM360.2 62.1L357.8 63.3L357.9 60.7ZM376.0 62.0L373.7 63.2L373.8 60.6ZM391.9 61.9L389.6 63.1L389.7 60.5ZM55.9 64.3L53.7 65.6L53.6 63.0ZM71.8 64.1L69.6 65.5L69.5 62.9ZM87.7 64.0L85.5 65.4L85.4 62.8ZM103.7 63.7L101.5 65.2L101.3 62.6ZM119.7 63.4L117.6 64.9L117.3 62.4ZM136.1 63.3L133.9 64.8L133.7 62.2ZM152.6 63.4L150.5 64.9L150.2 62.3ZM168.9 63.7L166.7 65.1L166.5 62.5ZM185.0 64.0L182.8 65.4L182.6 62.8ZM201.1 64.3L198.8 65.6L198.7 63.0ZM217.1 64.5L214.8 65.8L214.8 63.2ZM233.0 64.7L230.7 66.0L230.7 63.4ZM248.9 64.9L246.5 66.1L246.6 63.5ZM264.7 65.0L262.4 66.2L262.5 63.6ZM280.6 65.1L278.2 66.3L278.4 63.7ZM296.5 65.2L294.1 66.3L294.2 63.7ZM312.4 65.2L310.0 66.4L310.2 63.8ZM328.3 65.2L325.9 66.4L326.1 63.8ZM344.2 65.2L341.8 66.4L342.0 63.8ZM360.1 65.1L357.8 66.3L357.9 63.7ZM376.0 65.0L373.6 66.2L373.8 63.6ZM391.9 64.9L389.6 66.1L389.7 63.5ZM55.9 67.3L53.6 68.6L53.6 66.0ZM71.8 67.2L69.5 68.5L69.5 65.9ZM87.7 67.0L85.5 68.4L85.4 65.8ZM103.6 66.7L101.5 68.1L101.3 65.6ZM119.7 66.3L117.5 67.9L117.2 65.3ZM136.1 66.2L133.9 67.7L133.6 65.1ZM152.7 66.3L150.6 67.8L150.3 65.2ZM169.0 66.6L166.8 68.1L166.6 65.5ZM185.1 67.0L182.8 68.4L182.7 65.8ZM201.1 67.3L198.9 68.6L198.8 66.0ZM217.1 67.5L214.8 68.8L214.8 66.2ZM233.1 67.7L230.7 69.0L230.8 66.4ZM248.9 67.9L246.6 69.1L246.7 66.5ZM264.8 68.0L262.4 69.2L262.5 66.6ZM280.6 68.1L278.3 69.3L278.4 66.7ZM296.5 68.2L294.1 69.4L294.2 66.8ZM312.4 68.3L310.0 69.4L310.2 66.8ZM328.3 68.3L325.9 69.4L326.1 66.8ZM344.2 68.3L341.8 69.4L342.0 66.8ZM360.1 68.2L357.7 69.3L357.9 66.7ZM375.9 68.0L373.6 69.2L373.7 66.6ZM391.8 67.9L389.5 69.1L389.6 66.5ZM55.9 70.3L53.6 71.6L53.6 69.0ZM71.8 70.2L69.5 71.5L69.5 68.9ZM87.7 70.0L85.5 71.4L85.4 68.8ZM103.6 69.7L101.4 71.1L101.2 68.5ZM119.6 69.3L117.5 70.8L117.2 68.3ZM136.0 69.1L133.9 70.7L133.6 68.1ZM152.7 69.2L150.6 70.8L150.3 68.2ZM169.1 69.6L166.9 71.1L166.7 68.5ZM185.1 70.0L182.9 71.4L182.8 68.8ZM201.2 70.3L198.9 71.6L198.8 69.0ZM217.2 70.5L214.9 71.8L214.9 69.2ZM233.1 70.7L230.8 72.0L230.8 69.4ZM248.9 70.9L246.6 72.1L246.7 69.5ZM264.8 71.0L262.4 72.2L262.6 69.6ZM280.6 71.1L278.3 72.3L278.4 69.7ZM296.5 71.2L294.1 72.4L294.3 69.8ZM312.4 71.3L310.0 72.4L310.2 69.8ZM328.3 71.3L325.9 72.4L326.1 69.8ZM344.2 71.3L341.8 72.4L342.0 69.8ZM360.0 71.2L357.6 72.4L357.8 69.8ZM375.9 71.0L373.5 72.2L373.6 69.6ZM391.8 70.9L389.4 72.1L389.5 69.5ZM55.9 73.3L53.6 74.6L53.5 72.0ZM71.8 73.2L69.5 74.6L69.5 72.0ZM87.7 73.0L85.5 74.4L85.3 71.8ZM103.5 72.6L101.3 74.1L101.1 71.5ZM119.6 72.2L117.5 73.8L117.1 71.2ZM136.1 71.9L134.0 73.5L133.6 71.0ZM152.8 72.1L150.7 73.7L150.4 71.1ZM169.1 72.5L167.0 74.0L166.8 71.4ZM185.2 72.9L182.9 74.3L182.8 71.7ZM201.2 73.3L198.9 74.6L198.9 72.0ZM217.2 73.6L214.9 74.8L214.9 72.2ZM233.1 73.8L230.8 75.0L230.9 72.4ZM249.0 73.9L246.6 75.2L246.7 72.6ZM264.8 74.1L262.5 75.3L262.6 72.7ZM280.6 74.2L278.3 75.3L278.4 72.7ZM296.5 74.3L294.1 75.4L294.3 72.8ZM312.4 74.3L310.0 75.4L310.2 72.9ZM328.2 74.3L325.8 75.5L326.0 72.9ZM344.1 74.3L341.7 75.4L341.9 72.9ZM359.9 74.2L357.5 75.4L357.7 72.8ZM375.7 74.1L373.4 75.2L373.5 72.6ZM391.7 73.9L389.3 75.1L389.4 72.5ZM55.9 76.3L53.6 77.6L53.5 75.0ZM71.8 76.2L69.5 77.6L69.5 75.0ZM87.7 76.0L85.4 77.4L85.3 74.8ZM103.5 75.6L101.3 77.1L101.1 74.5ZM119.5 75.1L117.4 76.7L117.1 74.1ZM136.1 74.8L134.0 76.5L133.6 73.9ZM152.8 75.1L150.7 76.6L150.4 74.0ZM169.2 75.5L167.0 77.0L166.8 74.4ZM185.2 75.9L183.0 77.3L182.9 74.7ZM201.2 76.3L199.0 77.6L198.9 75.0ZM217.2 76.6L214.9 77.9L214.9 75.3ZM233.2 76.8L230.8 78.0L230.9 75.4ZM249.0 77.0L246.7 78.2L246.8 75.6ZM264.9 77.1L262.5 78.3L262.6 75.7ZM280.7 77.2L278.3 78.4L278.4 75.8ZM296.5 77.3L294.1 78.4L294.2 75.8ZM312.3 77.3L309.9 78.5L310.1 75.9ZM328.1 77.4L325.7 78.5L325.9 75.9ZM343.9 77.3L341.5 78.5L341.7 75.9ZM359.7 77.2L357.3 78.4L357.5 75.8ZM375.6 77.1L373.2 78.2L373.3 75.6ZM391.5 76.9L389.2 78.1L389.3 75.5ZM55.9 79.3L53.6 80.7L53.6 78.1ZM71.8 79.2L69.5 80.6L69.5 78.0ZM87.6 79.0L85.4 80.4L85.3 77.8ZM103.3 78.6L101.1 80.1L100.9 77.5ZM119.5 78.0L117.4 79.6L117.0 77.0ZM136.1 77.6L134.1 79.3L133.7 76.7ZM152.9 77.9L150.8 79.5L150.4 76.9ZM169.2 78.5L167.1 80.0L166.8 77.4ZM185.3 78.9L183.0 80.3L182.9 77.7ZM201.3 79.3L199.0 80.6L199.0 78.0ZM217.2 79.6L214.9 80.9L215.0 78.3ZM233.2 79.8L230.9 81.1L230.9 78.5ZM249.1 80.0L246.7 81.2L246.8 78.6ZM264.9 80.1L262.5 81.3L262.6 78.7ZM280.6 80.2L278.3 81.4L278.4 78.8ZM296.4 80.3L294.0 81.4L294.2 78.8ZM312.1 80.4L309.7 81.5L309.9 78.9ZM327.9 80.4L325.5 81.5L325.7 78.9ZM343.6 80.4L341.2 81.5L341.4 78.9ZM359.4 80.3L357.0 81.4L357.2 78.8ZM375.3 80.1L372.9 81.2L373.0 78.6ZM391.3 79.9L388.9 81.1L389.0 78.5ZM55.9 82.3L53.6 83.7L53.6 81.1ZM71.8 82.2L69.5 83.6L69.5 81.0ZM87.6 82.1L85.3 83.4L85.2 80.9ZM103.2 81.7L101.0 83.1L100.8 80.6ZM119.4 80.9L117.4 82.5L117.0 80.0ZM136.2 80.5L134.2 82.2L133.7 79.6ZM152.9 80.9L150.8 82.5L150.5 79.9ZM169.3 81.4L167.1 82.9L166.9 80.3ZM185.3 81.9L183.1 83.3L182.9 80.7ZM201.3 82.3L199.0 83.6L199.0 81.0ZM217.3 82.6L214.9 83.9L215.0 81.3ZM233.2 82.8L230.9 84.1L230.9 81.5ZM249.1 83.0L246.7 84.2L246.8 81.6ZM264.9 83.2L262.5 84.3L262.6 81.7ZM280.5 83.2L278.2 84.4L278.3 81.8ZM296.2 83.3L293.8 84.4L294.0 81.9ZM311.8 83.4L309.4 84.5L309.6 81.9ZM327.4 83.4L325.0 84.5L325.2 81.9ZM343.0 83.3L340.6 84.4L340.9 81.9ZM358.9 83.3L356.5 84.4L356.7 81.8ZM374.8 83.1L372.5 84.2L372.6 81.6ZM390.9 82.8L388.5 84.1L388.6 81.5ZM55.9 85.4L53.6 86.7L53.6 84.1ZM71.8 85.3L69.5 86.6L69.5 84.0ZM87.5 85.1L85.2 86.5L85.1 83.9ZM103.0 84.7L100.8 86.2L100.6 83.6ZM119.3 83.7L117.3 85.4L116.8 82.8ZM136.3 83.1L134.3 84.9L133.8 82.3ZM153.0 83.7L150.9 85.4L150.6 82.8ZM169.3 84.4L167.1 85.9L166.9 83.3ZM185.3 84.9L183.1 86.3L183.0 83.7ZM201.3 85.3L199.0 86.7L199.0 84.1ZM217.3 85.6L215.0 86.9L215.0 84.3ZM233.2 85.9L230.9 87.1L230.9 84.5ZM249.1 86.1L246.7 87.2L246.8 84.7ZM264.8 86.2L262.4 87.4L262.6 84.8ZM280.3 86.3L277.9 87.4L278.1 84.8ZM295.7 86.3L293.3 87.4L293.5 84.8ZM311.1 86.3L308.7 87.5L309.0 84.9ZM326.6 86.3L324.2 87.4L324.4 84.8ZM342.2 86.3L339.8 87.4L340.1 84.8ZM358.1 86.3L355.7 87.4L356.0 84.8ZM374.2 86.0L371.8 87.2L372.0 84.6ZM390.2 85.8L387.9 87.0L388.0 84.4ZM55.9 88.4L53.7 89.7L53.6 87.1ZM71.8 88.3L69.5 89.6L69.5 87.0ZM87.4 88.1L85.2 89.5L85.1 86.9ZM102.9 87.7L100.7 89.2L100.5 86.6ZM119.2 86.6L117.2 88.3L116.7 85.8ZM136.4 85.9L134.4 87.7L133.8 85.2ZM153.1 86.7L151.0 88.3L150.6 85.7ZM169.3 87.4L167.2 88.9L166.9 86.3ZM185.4 87.9L183.1 89.3L183.0 86.7ZM201.3 88.4L199.1 89.7L199.0 87.1ZM217.3 88.7L215.0 89.9L215.0 87.3ZM233.2 88.9L230.9 90.1L230.9 87.5ZM249.1 89.1L246.7 90.3L246.8 87.7ZM264.6 89.2L262.2 90.4L262.4 87.8ZM279.7 89.3L277.4 90.4L277.5 87.8ZM294.9 89.3L292.5 90.4L292.7 87.8ZM310.2 89.3L307.8 90.4L308.0 87.8ZM325.5 89.3L323.1 90.4L323.4 87.8ZM341.2 89.3L338.8 90.3L339.0 87.8ZM357.2 89.2L354.8 90.3L355.0 87.7ZM373.4 89.0L371.0 90.2L371.1 87.6ZM389.4 88.8L387.1 90.0L387.2 87.4ZM56.0 91.4L53.7 92.7L53.7 90.1ZM71.8 91.4L69.6 92.7L69.5 90.1ZM87.4 91.2L85.1 92.6L85.0 90.0ZM102.6 90.8L100.4 92.3L100.2 89.7ZM118.9 89.4L116.9 91.2L116.4 88.6ZM136.5 88.5L134.6 90.3L133.9 87.8ZM153.2 89.5L151.1 91.2L150.7 88.6ZM169.4 90.4L167.2 91.9L167.0 89.3ZM185.4 92.2L183.1 93.4L183.2 90.8ZM201.3 92.3L199.0 93.5L199.1 90.9ZM217.3 92.4L214.9 93.5L215.1 90.9ZM233.2 92.5L230.8 93.6L231.0 91.0ZM249.1 92.1L246.7 93.3L246.8 90.7ZM264.3 92.2L261.9 93.4L262.1 90.8ZM279.1 92.2L276.7 93.4L276.9 90.8ZM293.9 92.2L291.5 93.3L291.7 90.8ZM309.1 92.2L306.7 93.3L307.0 90.7ZM324.3 92.2L321.9 93.3L322.2 90.7ZM340.0 92.2L337.6 93.3L337.8 90.7ZM356.1 92.2L353.7 93.3L354.0 90.7ZM372.3 92.0L370.0 93.1L370.1 90.5ZM388.5 91.7L386.1 93.0L386.2 90.4ZM56.0 94.4L53.7 95.7L53.7 93.1ZM71.9 94.4L69.6 95.7L69.5 93.1ZM87.3 94.3L85.1 95.6L85.0 93.0ZM101.6 94.0L99.4 95.4L99.2 92.8ZM118.7 92.4L116.7 94.1L116.1 91.6ZM136.5 91.2L134.7 93.1L134.0 90.6ZM153.3 92.5L151.2 94.1L150.8 91.6ZM169.5 95.2L167.1 96.4L167.3 93.8ZM185.4 95.3L183.0 96.4L183.2 93.8ZM201.3 95.3L199.0 96.5L199.1 93.9ZM217.2 95.4L214.9 96.5L215.0 93.9ZM233.2 95.5L230.8 96.6L231.0 94.0ZM249.0 95.6L246.6 96.7L246.9 94.1ZM264.1 95.6L261.7 96.7L262.0 94.1ZM278.7 95.2L276.4 96.4L276.6 93.8ZM293.2 95.2L290.8 96.3L291.0 93.7ZM308.2 95.2L305.8 96.2L306.0 93.7ZM323.2 95.1L320.8 96.2L321.0 93.6ZM338.8 95.1L336.4 96.2L336.6 93.6ZM355.1 95.1L352.6 96.2L352.9 93.6ZM371.3 94.9L368.9 96.1L369.1 93.5ZM387.4 94.7L385.1 95.9L385.1 93.3ZM56.1 97.5L53.8 98.8L53.8 96.2ZM71.9 97.4L69.6 98.7L69.6 96.1ZM87.3 97.3L85.0 98.7L85.0 96.1ZM99.6 97.2L97.4 98.6L97.3 96.0ZM136.7 93.6L134.9 95.5L134.1 93.1ZM153.6 98.2L151.2 99.4L151.4 96.8ZM169.5 98.2L167.1 99.4L167.3 96.8ZM185.4 98.3L183.0 99.4L183.2 96.8ZM201.3 98.4L198.9 99.5L199.1 96.9ZM217.2 98.4L214.8 99.6L215.0 97.0ZM233.1 98.5L230.7 99.6L230.9 97.0ZM249.0 98.6L246.6 99.7L246.8 97.1ZM264.4 98.7L261.9 99.7L262.2 97.1ZM279.0 98.6L276.5 99.7L276.8 97.1ZM293.1 98.6L290.7 99.5L291.0 97.0ZM307.7 98.5L305.3 99.5L305.7 96.9ZM322.4 98.1L320.0 99.1L320.3 96.5ZM337.9 98.0L335.5 99.1L335.8 96.5ZM354.1 98.1L351.7 99.1L352.0 96.5ZM370.3 97.8L367.9 99.0L368.1 96.4ZM386.4 97.6L384.1 98.9L384.2 96.3ZM56.1 100.5L53.8 101.8L53.8 99.2ZM71.9 100.5L69.6 101.8L69.6 99.2ZM87.3 100.4L85.0 101.7L85.0 99.1ZM99.0 100.3L96.7 101.7L96.6 99.1ZM137.8 101.1L135.4 102.3L135.6 99.7ZM153.6 101.2L151.2 102.4L151.4 99.8ZM169.5 101.3L167.1 102.4L167.2 99.8ZM185.4 101.3L183.0 102.5L183.2 99.9ZM201.3 101.4L198.9 102.5L199.1 99.9ZM217.2 101.5L214.8 102.6L215.0 100.0ZM233.1 101.5L230.7 102.6L230.9 100.0ZM249.0 101.6L246.6 102.7L246.8 100.1ZM264.7 101.7L262.2 102.8L262.5 100.2ZM279.6 101.7L277.1 102.8L277.4 100.2ZM293.8 101.7L291.3 102.6L291.7 100.1ZM308.0 101.6L305.6 102.5L306.0 99.9ZM322.3 101.5L319.8 102.3L320.3 99.8ZM337.5 101.0L335.1 102.0L335.4 99.5ZM353.5 101.0L351.1 102.1L351.4 99.5ZM369.6 100.8L367.2 101.9L367.4 99.3ZM385.7 100.6L383.3 101.8L383.4 99.2ZM56.1 103.5L53.8 104.8L53.8 102.2ZM71.9 103.5L69.6 104.8L69.6 102.2ZM87.4 103.5L85.1 104.8L85.1 102.2ZM98.4 103.5L96.2 104.8L96.1 102.2ZM137.8 104.2L135.4 105.4L135.6 102.8ZM153.6 104.2L151.2 105.4L151.4 102.8ZM169.4 104.3L167.1 105.4L167.2 102.9ZM185.4 104.4L183.0 105.5L183.2 102.9ZM201.3 104.4L198.9 105.5L199.1 103.0ZM217.2 104.5L214.8 105.6L215.0 103.0ZM233.1 104.6L230.7 105.7L230.9 103.1ZM249.0 104.7L246.6 105.7L246.8 103.1ZM264.8 104.8L262.4 105.8L262.7 103.2ZM280.2 104.8L277.7 105.9L278.0 103.3ZM294.8 104.8L292.3 105.8L292.7 103.2ZM309.0 104.7L306.5 105.7L306.9 103.1ZM322.9 104.6L320.4 105.5L320.9 102.9ZM337.7 104.6L335.2 105.4L335.8 102.8ZM353.2 105.1L350.6 105.5L351.5 103.1ZM369.2 103.7L366.8 104.9L366.9 102.3ZM385.3 103.6L383.0 104.8L383.0 102.2ZM56.1 106.5L53.8 107.8L53.8 105.2ZM71.9 106.5L69.6 107.8L69.6 105.2ZM87.4 106.6L85.1 107.8L85.1 105.2ZM98.6 106.5L96.3 107.8L96.3 105.2ZM137.8 107.2L135.4 108.4L135.5 105.8ZM153.6 107.3L151.2 108.4L151.4 105.8ZM169.4 107.3L167.1 108.5L167.2 105.9ZM185.4 107.4L183.0 108.5L183.1 105.9ZM201.3 107.4L198.9 108.6L199.1 106.0ZM217.2 107.5L214.8 108.6L215.0 106.0ZM233.1 107.6L230.7 108.7L230.9 106.1ZM249.0 107.7L246.6 108.8L246.8 106.2ZM264.8 107.8L262.4 108.8L262.7 106.2ZM280.4 107.9L277.9 108.9L278.3 106.3ZM295.1 107.9L292.7 108.9L293.0 106.3ZM309.2 107.8L306.7 108.7L307.1 106.1ZM323.1 107.6L320.6 108.5L321.0 105.9ZM337.7 107.6L335.2 108.4L335.8 105.8ZM353.3 105.9L351.2 107.5L350.8 104.9ZM369.3 106.6L366.9 107.8L367.0 105.2ZM385.3 106.5L383.0 107.8L383.1 105.2ZM56.1 109.6L53.8 110.9L53.8 108.3ZM71.9 109.6L69.6 110.9L69.6 108.3ZM87.4 109.7L85.1 110.9L85.2 108.3ZM99.9 109.7L97.5 111.0L97.6 108.4ZM137.7 110.3L135.3 111.4L135.5 108.8ZM153.6 110.3L151.2 111.5L151.4 108.9ZM169.4 110.4L167.1 111.5L167.2 108.9ZM185.3 110.4L183.0 111.5L183.1 108.9ZM201.3 110.5L198.9 111.6L199.1 109.0ZM217.2 110.5L214.8 111.6L215.0 109.1ZM233.1 110.6L230.7 111.7L230.9 109.1ZM249.0 110.7L246.6 111.8L246.8 109.2ZM264.8 110.8L262.4 111.9L262.6 109.3ZM279.9 110.9L277.5 111.9L277.8 109.3ZM294.2 110.8L291.7 111.8L292.1 109.2ZM308.3 110.7L305.8 111.6L306.2 109.0ZM322.5 110.5L320.0 111.4L320.4 108.8ZM337.5 108.9L335.4 110.5L335.0 107.9ZM353.6 108.9L351.4 110.5L351.1 107.9ZM369.8 109.4L367.5 110.8L367.4 108.2ZM385.8 109.5L383.5 110.8L383.5 108.2ZM56.1 112.6L53.8 113.9L53.9 111.3ZM71.9 112.6L69.6 113.9L69.6 111.3ZM87.5 112.7L85.1 114.0L85.2 111.4ZM100.9 112.9L98.6 114.1L98.7 111.5ZM137.7 113.3L135.3 114.5L135.5 111.9ZM153.6 113.3L151.2 114.5L151.3 111.9ZM169.4 113.4L167.1 114.5L167.2 111.9ZM185.3 113.4L183.0 114.6L183.2 112.0ZM201.3 113.5L198.9 114.6L199.1 112.0ZM217.2 113.6L214.8 114.7L215.0 112.1ZM233.1 113.6L230.7 114.7L230.9 112.1ZM249.0 113.7L246.6 114.8L246.8 112.2ZM264.6 113.8L262.1 114.8L262.4 112.3ZM279.3 113.8L276.9 114.8L277.2 112.2ZM293.4 113.7L290.9 114.7L291.3 112.1ZM307.9 113.6L305.4 114.5L305.8 112.0ZM322.4 111.8L320.3 113.4L320.0 110.8ZM337.9 111.9L335.8 113.5L335.4 110.9ZM354.2 111.9L352.1 113.4L351.8 110.9ZM370.6 112.3L368.3 113.7L368.2 111.1ZM386.7 112.5L384.4 113.8L384.4 111.2ZM56.1 115.6L53.8 116.9L53.9 114.3ZM71.9 115.7L69.6 116.9L69.7 114.3ZM87.5 115.8L85.2 117.0L85.3 114.4ZM102.7 116.2L100.3 117.3L100.5 114.7ZM136.8 119.2L134.2 119.7L135.0 117.3ZM153.5 116.4L151.2 117.5L151.3 114.9ZM169.4 116.4L167.1 117.5L167.2 114.9ZM185.4 116.5L183.0 117.6L183.2 115.0ZM201.3 116.5L198.9 117.6L199.1 115.0ZM217.2 116.6L214.8 117.7L215.0 115.1ZM233.1 116.7L230.7 117.8L230.9 115.2ZM249.0 116.8L246.6 117.8L246.9 115.2ZM264.3 116.8L261.9 117.8L262.2 115.3ZM278.7 114.5L276.6 116.1L276.3 113.5ZM293.1 114.6L291.0 116.2L290.7 113.6ZM308.1 114.7L305.9 116.2L305.7 113.7ZM323.1 114.8L321.0 116.3L320.7 113.8ZM338.8 114.8L336.7 116.4L336.4 113.8ZM355.2 114.9L353.1 116.4L352.8 113.8ZM371.6 115.2L369.4 116.6L369.3 114.0ZM387.7 115.4L385.4 116.8L385.4 114.2ZM56.1 118.6L53.8 119.9L53.9 117.3ZM71.9 118.7L69.6 120.0L69.7 117.4ZM87.5 118.9L85.2 120.1L85.3 117.5ZM102.8 119.3L100.4 120.4L100.6 117.8ZM117.0 120.6L114.4 121.2L115.1 118.7ZM136.7 121.9L134.1 122.5L134.9 120.0ZM153.5 119.4L151.2 120.5L151.3 117.9ZM169.5 119.4L167.1 120.6L167.3 118.0ZM185.4 119.5L183.0 120.6L183.2 118.0ZM201.3 119.6L198.9 120.7L199.1 118.1ZM217.2 119.6L214.8 120.7L215.0 118.1ZM233.1 119.7L230.7 120.8L230.9 118.2ZM249.0 119.8L246.6 120.8L246.9 118.3ZM264.1 117.5L261.9 119.0L261.7 116.4ZM278.8 117.5L276.7 119.1L276.4 116.5ZM293.7 117.6L291.5 119.1L291.2 116.5ZM308.9 117.6L306.7 119.2L306.5 116.6ZM324.2 117.7L322.1 119.2L321.8 116.6ZM340.0 117.7L337.9 119.2L337.6 116.7ZM356.4 117.8L354.2 119.3L353.9 116.7ZM372.7 118.2L370.5 119.6L370.4 117.0ZM388.7 118.4L386.5 119.7L386.4 117.1ZM56.1 121.7L53.8 122.9L53.8 120.3ZM71.9 121.8L69.6 123.0L69.7 120.4ZM87.6 121.9L85.2 123.1L85.3 120.5ZM103.0 122.4L100.6 123.5L100.8 120.9ZM118.9 123.7L116.4 124.5L116.9 121.9ZM136.5 124.4L134.0 125.1L134.6 122.6ZM153.3 123.2L150.8 124.2L151.2 121.6ZM169.4 122.4L167.0 123.5L167.2 120.9ZM185.4 121.8L183.1 123.0L183.1 120.4ZM201.3 121.4L199.0 122.7L199.0 120.1ZM217.2 121.0L214.9 122.4L214.8 119.8ZM233.0 120.8L230.8 122.2L230.7 119.7ZM248.9 120.7L246.7 122.1L246.5 119.5ZM264.3 120.6L262.1 122.0L261.9 119.5ZM279.4 120.5L277.2 122.0L277.0 119.5ZM294.6 120.5L292.4 122.1L292.2 119.5ZM310.0 120.6L307.8 122.1L307.6 119.5ZM325.4 120.6L323.3 122.1L323.0 119.5ZM341.3 120.6L339.1 122.2L338.9 119.6ZM357.4 120.8L355.3 122.3L355.0 119.7ZM373.7 121.1L371.5 122.5L371.4 119.9ZM389.7 121.4L387.4 122.7L387.4 120.1ZM56.1 124.7L53.8 125.9L53.8 123.3ZM71.9 124.8L69.6 126.0L69.6 123.4ZM87.6 125.0L85.2 126.2L85.4 123.6ZM103.1 125.4L100.7 126.5L100.9 123.9ZM119.1 126.6L116.6 127.4L117.1 124.9ZM136.5 127.2L133.9 127.9L134.5 125.4ZM153.2 126.2L150.8 127.1L151.1 124.6ZM169.4 125.4L167.0 126.5L167.2 123.9ZM185.4 124.8L183.0 126.0L183.1 123.4ZM201.3 124.4L199.0 125.7L199.0 123.1ZM217.2 124.1L214.9 125.5L214.8 122.9ZM233.0 123.8L230.8 125.3L230.7 122.7ZM248.9 123.7L246.7 125.1L246.5 122.5ZM264.6 123.6L262.4 125.0L262.2 122.5ZM280.0 123.5L277.9 125.0L277.6 122.4ZM295.5 123.5L293.3 125.0L293.1 122.4ZM311.0 123.5L308.8 125.0L308.6 122.4ZM326.6 123.5L324.4 125.0L324.1 122.4ZM342.4 123.5L340.2 125.1L339.9 122.5ZM358.3 123.7L356.2 125.2L355.9 122.6ZM374.5 124.1L372.3 125.5L372.2 122.9ZM390.5 124.3L388.2 125.7L388.2 123.1ZM56.1 127.7L53.8 129.0L53.8 126.4ZM71.9 127.8L69.6 129.1L69.6 126.5ZM87.6 128.0L85.3 129.2L85.4 126.6ZM103.2 128.5L100.8 129.5L101.1 127.0ZM119.4 129.4L116.9 130.3L117.3 127.7ZM136.4 129.8L133.9 130.6L134.4 128.0ZM153.1 129.1L150.6 130.1L151.0 127.5ZM169.3 128.3L166.9 129.5L167.1 126.9ZM185.3 127.8L183.0 129.1L183.0 126.5ZM201.2 127.4L199.0 128.7L198.9 126.1ZM217.2 127.1L214.9 128.5L214.8 125.9ZM233.0 126.9L230.8 128.3L230.7 125.7ZM248.9 126.7L246.7 128.2L246.5 125.6ZM264.7 126.6L262.5 128.1L262.3 125.5ZM280.4 126.5L278.2 128.0L278.0 125.4ZM296.1 126.5L293.9 128.0L293.7 125.4ZM311.7 126.5L309.5 128.0L309.3 125.4ZM327.4 126.5L325.2 128.0L324.9 125.4ZM343.2 126.5L341.0 128.0L340.7 125.5ZM359.1 126.7L356.9 128.2L356.7 125.6ZM375.1 127.0L372.9 128.4L372.8 125.8ZM391.1 127.3L388.8 128.6L388.8 126.0ZM56.1 130.7L53.7 132.0L53.8 129.4ZM71.9 130.8L69.5 132.1L69.6 129.5ZM87.7 131.1L85.3 132.2L85.4 129.6ZM103.3 131.5L100.9 132.6L101.1 130.0ZM119.4 132.3L117.0 133.2L117.4 130.6ZM136.3 132.6L133.8 133.5L134.3 130.9ZM153.0 132.0L150.6 133.0L150.9 130.4ZM169.3 131.3L166.9 132.5L167.1 129.9ZM185.3 130.8L182.9 132.1L183.0 129.5ZM201.2 130.4L198.9 131.7L198.9 129.1ZM217.2 130.1L214.9 131.5L214.8 128.9ZM233.0 129.9L230.8 131.3L230.7 128.7ZM248.9 129.7L246.7 131.2L246.5 128.6ZM264.8 129.6L262.6 131.1L262.4 128.5ZM280.6 129.5L278.4 131.0L278.2 128.4ZM296.4 129.5L294.2 131.0L294.0 128.4ZM312.1 129.4L309.9 131.0L309.7 128.4ZM327.9 129.5L325.7 131.0L325.5 128.4ZM343.7 129.5L341.5 131.0L341.3 128.4ZM359.5 129.7L357.3 131.2L357.1 128.6ZM375.5 130.0L373.3 131.4L373.2 128.8ZM391.5 130.3L389.2 131.6L389.2 129.0ZM56.0 133.7L53.7 135.0L53.8 132.4ZM71.9 133.9L69.5 135.1L69.6 132.5ZM87.7 134.1L85.3 135.3L85.4 132.7ZM103.4 134.5L101.0 135.6L101.2 133.0ZM119.5 135.1L117.1 136.0L117.5 133.5ZM136.3 135.3L133.8 136.3L134.2 133.7ZM152.9 134.9L150.5 135.9L150.8 133.3ZM169.2 134.3L166.8 135.5L167.0 132.9ZM185.2 133.8L182.9 135.1L183.0 132.5ZM201.2 133.5L198.9 134.8L198.9 132.2ZM217.1 133.2L214.9 134.5L214.8 131.9ZM233.0 133.0L230.8 134.4L230.7 131.8ZM248.9 132.8L246.7 134.2L246.5 131.6ZM264.7 132.7L262.5 134.1L262.4 131.5ZM280.6 132.6L278.4 134.1L278.2 131.5ZM296.5 132.5L294.3 134.0L294.1 131.4ZM312.3 132.5L310.1 134.0L309.9 131.4ZM328.1 132.5L326.0 134.0L325.7 131.4ZM344.0 132.6L341.8 134.1L341.6 131.5ZM359.9 132.7L357.6 134.2L357.5 131.6ZM375.8 133.0L373.6 134.4L373.4 131.8ZM391.7 133.2L389.5 134.6L389.4 132.0ZM56.0 136.8L53.7 138.0L53.7 135.4ZM71.9 136.9L69.5 138.1L69.6 135.5ZM87.7 137.1L85.3 138.3L85.5 135.7ZM103.4 137.5L101.0 138.5L101.2 136.0ZM119.6 138.0L117.1 139.0L117.5 136.4ZM136.3 138.2L133.8 139.2L134.2 136.6ZM152.9 137.8L150.5 138.9L150.8 136.3ZM169.1 137.3L166.8 138.5L166.9 135.9ZM185.2 136.8L182.9 138.1L182.9 135.5ZM201.2 136.5L198.9 137.8L198.9 135.2ZM217.1 136.2L214.9 137.6L214.8 135.0ZM233.0 136.0L230.8 137.4L230.7 134.8ZM248.9 135.8L246.7 137.2L246.5 134.7ZM264.7 135.7L262.5 137.1L262.4 134.6ZM280.6 135.6L278.4 137.1L278.2 134.5ZM296.5 135.5L294.3 137.0L294.1 134.4ZM312.4 135.5L310.2 137.0L310.0 134.4ZM328.3 135.5L326.1 137.0L325.9 134.4ZM344.1 135.6L342.0 137.1L341.7 134.5ZM360.0 135.7L357.8 137.2L357.6 134.6ZM375.9 136.0L373.7 137.4L373.6 134.8ZM391.9 136.2L389.6 137.6L389.5 135.0ZM56.0 139.8L53.7 141.0L53.7 138.4ZM71.8 139.9L69.5 141.1L69.6 138.5ZM87.7 140.1L85.3 141.3L85.5 138.7ZM103.5 140.4L101.1 141.5L101.3 138.9ZM119.6 140.9L117.1 141.9L117.5 139.3ZM136.2 141.0L133.8 142.0L134.1 139.4ZM152.8 140.7L150.4 141.8L150.7 139.2ZM169.1 140.3L166.7 141.4L166.8 138.8ZM185.1 139.9L182.8 141.1L182.9 138.5ZM201.1 139.5L198.8 140.8L198.8 138.2ZM217.1 139.2L214.8 140.6L214.8 138.0ZM233.0 139.0L230.8 140.4L230.7 137.8ZM248.9 138.9L246.6 140.3L246.5 137.7ZM264.7 138.7L262.5 140.2L262.3 137.6ZM280.6 138.6L278.4 140.1L278.2 137.5ZM296.5 138.6L294.3 140.1L294.1 137.5ZM312.4 138.6L310.2 140.0L310.0 137.4ZM328.3 138.6L326.1 140.0L325.9 137.5ZM344.2 138.6L342.0 140.1L341.8 137.5ZM360.1 138.8L357.9 140.2L357.7 137.6ZM376.0 139.0L373.8 140.4L373.7 137.8ZM392.0 139.2L389.7 140.6L389.6 138.0ZM56.0 142.8L53.6 144.0L53.7 141.4ZM71.8 142.9L69.5 144.1L69.6 141.5ZM87.7 143.1L85.3 144.3L85.5 141.7ZM103.5 143.4L101.1 144.5L101.3 141.9ZM119.6 143.8L117.2 144.8L117.5 142.2ZM136.2 144.0L133.8 144.9L134.1 142.4ZM152.8 143.7L150.4 144.8L150.7 142.2ZM169.0 143.3L166.6 144.4L166.8 141.8ZM185.1 142.9L182.8 144.1L182.9 141.5ZM201.1 142.5L198.8 143.8L198.8 141.2ZM217.1 142.2L214.8 143.6L214.8 141.0ZM233.0 142.0L230.8 143.4L230.7 140.8ZM248.9 141.9L246.6 143.3L246.5 140.7ZM264.7 141.8L262.5 143.2L262.3 140.6ZM280.6 141.7L278.4 143.1L278.2 140.5ZM296.5 141.6L294.3 143.1L294.1 140.5ZM312.4 141.6L310.2 143.1L310.0 140.5ZM328.3 141.6L326.1 143.1L325.9 140.5ZM344.3 141.7L342.1 143.1L341.9 140.5ZM360.2 141.8L357.9 143.2L357.8 140.6ZM376.1 142.0L373.8 143.4L373.7 140.8ZM392.0 142.2L389.7 143.6L389.7 141.0ZM56.0 145.8L53.6 147.0L53.7 144.4ZM71.8 145.9L69.5 147.1L69.6 144.5ZM87.7 146.1L85.3 147.3L85.5 144.7ZM103.6 146.4L101.2 147.5L101.4 144.9ZM119.6 146.7L117.2 147.7L117.5 145.1ZM136.2 146.8L133.8 147.8L134.1 145.2ZM152.8 146.6L150.4 147.7L150.6 145.1ZM168.9 146.2L166.6 147.4L166.7 144.8ZM185.1 145.9L182.7 147.1L182.8 144.5ZM201.1 145.5L198.8 146.8L198.8 144.2ZM217.1 145.3L214.8 146.6L214.8 144.0ZM233.0 145.1L230.7 146.5L230.6 143.9ZM248.8 144.9L246.6 146.3L246.5 143.7ZM264.7 144.8L262.5 146.2L262.3 143.6ZM280.6 144.7L278.4 146.2L278.2 143.6ZM296.5 144.7L294.3 146.1L294.1 143.5ZM312.4 144.6L310.2 146.1L310.0 143.5ZM328.3 144.6L326.1 146.1L325.9 143.5ZM344.3 144.7L342.1 146.2L341.9 143.6ZM360.2 144.8L358.0 146.3L357.8 143.7ZM376.1 145.0L373.9 146.4L373.7 143.8ZM392.0 145.2L389.8 146.5L389.7 143.9ZM56.0 148.8L53.6 150.0L53.7 147.4ZM71.8 148.9L69.5 150.1L69.6 147.5ZM87.7 149.1L85.3 150.3L85.5 147.7ZM103.6 149.4L101.2 150.5L101.4 147.9ZM119.6 149.6L117.2 150.7L117.5 148.1ZM136.2 149.7L133.8 150.8L134.1 148.2ZM152.8 149.6L150.3 150.6L150.6 148.1ZM168.9 149.2L166.5 150.4L166.7 147.8ZM185.0 148.8L182.7 150.1L182.8 147.5ZM201.1 148.5L198.8 149.8L198.8 147.2ZM217.1 148.3L214.8 149.6L214.8 147.0ZM233.0 148.1L230.7 149.5L230.6 146.9ZM248.8 147.9L246.6 149.3L246.5 146.7ZM264.7 147.8L262.5 149.2L262.3 146.7ZM280.6 147.7L278.4 149.2L278.2 146.6ZM296.5 147.7L294.3 149.1L294.1 146.5ZM312.4 147.6L310.2 149.1L310.0 146.5ZM328.3 147.7L326.1 149.1L325.9 146.5ZM344.3 147.7L342.1 149.2L341.9 146.6ZM360.2 147.9L358.0 149.3L357.8 146.7ZM376.1 148.0L373.9 149.4L373.7 146.8ZM392.0 148.2L389.8 149.5L389.7 146.9ZM56.0 151.8L53.6 153.0L53.7 150.4ZM71.8 151.9L69.5 153.1L69.6 150.5ZM87.7 152.1L85.4 153.3L85.5 150.7ZM103.7 152.3L101.3 153.4L101.5 150.9ZM119.7 152.5L117.3 153.6L117.5 151.0ZM136.3 152.6L133.8 153.7L134.1 151.1ZM152.7 152.5L150.3 153.6L150.5 151.0ZM168.8 152.2L166.5 153.3L166.6 150.7ZM185.0 151.8L182.6 153.1L182.7 150.5ZM201.0 151.6L198.7 152.8L198.7 150.2ZM217.0 151.3L214.8 152.7L214.7 150.1ZM232.9 151.1L230.7 152.5L230.6 149.9ZM248.8 151.0L246.6 152.4L246.4 149.8ZM264.7 150.9L262.5 152.3L262.3 149.7ZM280.6 150.8L278.4 152.2L278.2 149.6ZM296.5 150.7L294.3 152.2L294.1 149.6ZM312.4 150.7L310.2 152.2L310.0 149.6ZM328.3 150.7L326.1 152.2L325.9 149.6ZM344.3 150.8L342.0 152.2L341.9 149.6ZM360.2 150.9L358.0 152.3L357.8 149.7ZM376.1 151.0L373.9 152.4L373.8 149.8ZM392.1 151.2L389.8 152.5L389.7 149.9ZM56.0 154.8L53.6 156.0L53.7 153.4ZM71.8 154.9L69.5 156.1L69.6 153.5ZM87.8 155.1L85.4 156.3L85.5 153.7ZM103.7 155.3L101.3 156.4L101.5 153.8ZM119.7 155.5L117.3 156.6L117.6 154.0ZM136.3 155.6L133.9 156.7L134.1 154.1ZM152.7 155.4L150.3 156.5L150.5 154.0ZM168.8 155.1L166.4 156.3L166.6 153.7ZM184.9 154.8L182.6 156.1L182.7 153.5ZM201.0 154.6L198.7 155.9L198.7 153.3ZM217.0 154.3L214.7 155.7L214.7 153.1ZM232.9 154.1L230.7 155.5L230.6 152.9ZM248.8 154.0L246.5 155.4L246.4 152.8ZM264.7 153.9L262.5 155.3L262.3 152.7ZM280.6 153.8L278.3 155.2L278.2 152.6ZM296.5 153.7L294.3 155.2L294.1 152.6ZM312.4 153.7L310.2 155.2L310.0 152.6ZM328.3 153.7L326.1 155.2L325.9 152.6ZM344.2 153.8L342.0 155.2L341.9 152.6ZM360.2 153.9L358.0 155.3L357.8 152.7ZM376.1 154.0L373.9 155.4L373.8 152.8ZM392.1 154.2L389.8 155.5L389.7 152.9ZM56.0 157.8L53.6 159.1L53.7 156.5ZM71.8 157.9L69.5 159.1L69.6 156.5ZM87.8 158.1L85.4 159.3L85.6 156.7ZM103.8 158.3L101.4 159.4L101.5 156.8ZM119.8 158.4L117.4 159.5L117.6 156.9ZM136.3 158.5L133.9 159.6L134.1 157.0ZM152.7 158.4L150.3 159.5L150.5 156.9ZM168.8 158.1L166.4 159.3L166.5 156.7ZM184.9 157.8L182.5 159.1L182.6 156.5ZM201.0 157.6L198.7 158.9L198.7 156.3ZM217.0 157.3L214.7 158.7L214.7 156.1ZM232.9 157.2L230.6 158.5L230.6 155.9ZM248.8 157.0L246.5 158.4L246.4 155.8ZM264.7 156.9L262.4 158.3L262.3 155.7ZM280.6 156.8L278.3 158.3L278.2 155.7ZM296.5 156.8L294.2 158.2L294.1 155.6ZM312.4 156.8L310.2 158.2L310.0 155.6ZM328.3 156.8L326.1 158.2L325.9 155.6ZM344.2 156.8L342.0 158.3L341.9 155.7ZM360.2 156.9L357.9 158.3L357.8 155.7ZM376.1 157.0L373.9 158.4L373.8 155.8ZM392.1 157.2L389.8 158.5L389.7 155.9ZM56.0 160.8L53.6 162.1L53.7 159.5ZM71.8 160.9L69.5 162.1L69.6 159.5ZM87.8 161.1L85.4 162.3L85.6 159.7ZM103.8 161.2L101.4 162.4L101.6 159.8ZM119.8 161.4L117.4 162.5L117.6 159.9ZM136.3 161.4L133.9 162.5L134.1 160.0ZM152.7 161.3L150.3 162.5L150.5 159.9ZM168.7 161.1L166.4 162.3L166.5 159.7ZM184.9 160.8L182.5 162.1L182.6 159.5ZM200.9 160.6L198.6 161.9L198.6 159.3ZM216.9 160.4L214.7 161.7L214.6 159.1ZM232.9 160.2L230.6 161.5L230.5 158.9ZM248.7 160.0L246.5 161.4L246.4 158.8ZM264.7 159.9L262.4 161.3L262.3 158.7ZM280.6 159.8L278.3 161.3L278.2 158.7ZM296.5 159.8L294.2 161.2L294.1 158.6ZM312.4 159.8L310.2 161.2L310.0 158.6ZM328.3 159.8L326.1 161.2L325.9 158.6ZM344.2 159.8L342.0 161.3L341.9 158.7ZM360.2 159.9L357.9 161.3L357.8 158.8ZM376.1 160.1L373.9 161.4L373.8 158.8ZM392.1 160.2L389.8 161.5L389.8 158.9ZM56.0 163.8L53.6 165.1L53.7 162.5ZM71.9 163.9L69.5 165.1L69.6 162.5ZM87.8 164.1L85.5 165.2L85.6 162.6ZM103.8 164.2L101.5 165.4L101.6 162.8ZM119.9 164.3L117.5 165.5L117.7 162.9ZM136.3 164.4L133.9 165.5L134.1 162.9ZM152.6 164.3L150.3 165.4L150.4 162.8ZM168.7 164.0L166.3 165.2L166.5 162.6ZM184.8 163.8L182.5 165.0L182.5 162.4ZM200.9 163.6L198.6 164.9L198.6 162.3ZM216.9 163.4L214.6 164.7L214.6 162.1ZM232.8 163.2L230.6 164.6L230.5 162.0ZM248.7 163.1L246.5 164.5L246.4 161.9ZM264.6 163.0L262.4 164.4L262.3 161.8ZM280.5 162.9L278.3 164.3L278.2 161.7ZM296.5 162.8L294.2 164.3L294.1 161.7ZM312.4 162.8L310.2 164.2L310.0 161.7ZM328.3 162.8L326.1 164.3L325.9 161.7ZM344.2 162.9L342.0 164.3L341.9 161.7ZM360.2 163.0L357.9 164.4L357.8 161.8ZM376.2 163.1L373.9 164.5L373.8 161.9ZM392.1 163.2L389.8 164.5L389.8 161.9ZM56.0 166.8L53.7 168.1L53.7 165.5ZM71.9 166.9L69.5 168.1L69.6 165.5ZM87.8 167.1L85.5 168.2L85.6 165.6ZM103.9 167.2L101.5 168.3L101.6 165.7ZM119.9 167.3L117.5 168.4L117.7 165.8ZM136.3 167.3L133.9 168.5L134.1 165.9ZM152.6 167.2L150.2 168.4L150.4 165.8ZM168.7 167.0L166.3 168.2L166.4 165.6ZM184.8 166.8L182.4 168.0L182.5 165.4ZM200.8 166.6L198.5 167.9L198.6 165.3ZM216.9 166.4L214.6 167.7L214.6 165.1ZM232.8 166.2L230.5 167.6L230.5 165.0ZM248.7 166.1L246.5 167.5L246.4 164.9ZM264.6 166.0L262.4 167.4L262.3 164.8ZM280.5 165.9L278.3 167.3L278.2 164.7ZM296.5 165.8L294.2 167.3L294.1 164.7ZM312.4 165.8L310.2 167.3L310.0 164.7ZM328.3 165.8L326.1 167.3L325.9 164.7ZM344.2 165.9L342.0 167.3L341.9 164.7ZM360.2 166.0L357.9 167.4L357.8 164.8ZM376.2 166.1L373.9 167.5L373.8 164.9ZM392.1 166.2L389.9 167.5L389.8 164.9ZM56.0 169.8L53.7 171.1L53.7 168.5ZM71.9 169.9L69.6 171.1L69.7 168.5ZM87.9 170.0L85.5 171.2L85.6 168.6ZM103.9 170.2L101.5 171.3L101.7 168.7ZM120.0 170.2L117.6 171.4L117.8 168.8ZM136.3 170.3L133.9 171.4L134.1 168.8ZM152.6 170.2L150.2 171.3L150.4 168.7ZM168.6 170.0L166.3 171.2L166.4 168.6ZM184.7 169.8L182.4 171.0L182.5 168.4ZM200.8 169.6L198.5 170.9L198.5 168.3ZM216.8 169.4L214.5 170.7L214.5 168.1ZM232.8 169.2L230.5 170.6L230.4 168.0ZM248.7 169.1L246.4 170.5L246.3 167.9ZM264.6 169.0L262.4 170.4L262.3 167.8ZM280.5 168.9L278.3 170.3L278.2 167.7ZM296.5 168.9L294.2 170.3L294.1 167.7ZM312.4 168.9L310.1 170.3L310.0 167.7ZM328.3 168.9L326.1 170.3L325.9 167.7ZM344.2 168.9L342.0 170.3L341.9 167.7ZM360.2 169.0L358.0 170.4L357.8 167.8ZM376.2 169.1L373.9 170.5L373.8 167.9ZM392.1 169.2L389.9 170.5L389.8 167.9ZM56.0 172.8L53.7 174.1L53.7 171.5ZM71.9 172.9L69.6 174.1L69.7 171.5ZM87.9 173.0L85.5 174.2L85.7 171.6ZM103.9 173.1L101.5 174.3L101.7 171.7ZM120.0 173.2L117.6 174.4L117.8 171.8ZM136.3 173.2L133.9 174.4L134.1 171.8ZM152.5 173.1L150.2 174.3L150.3 171.7ZM168.6 173.0L166.3 174.2L166.4 171.6ZM184.7 172.8L182.4 174.0L182.4 171.4ZM200.8 172.6L198.5 173.9L198.5 171.3ZM216.8 172.4L214.5 173.7L214.5 171.1ZM232.7 172.2L230.5 173.6L230.4 171.0ZM248.7 172.1L246.4 173.5L246.3 170.9ZM264.6 172.0L262.4 173.4L262.3 170.8ZM280.5 171.9L278.3 173.4L278.2 170.8ZM296.4 171.9L294.2 173.3L294.1 170.7ZM312.4 171.9L310.1 173.3L310.0 170.7ZM328.3 171.9L326.1 173.3L325.9 170.7ZM344.2 171.9L342.0 173.3L341.9 170.8ZM360.2 172.0L358.0 173.4L357.8 170.8ZM376.2 172.1L373.9 173.5L373.8 170.9ZM392.1 172.2L389.9 173.5L389.8 170.9ZM56.0 175.8L53.7 177.1L53.8 174.5ZM72.0 175.9L69.6 177.1L69.7 174.5ZM87.9 176.0L85.6 177.2L85.7 174.6ZM103.9 176.1L101.6 177.3L101.7 174.7ZM120.0 176.2L117.6 177.3L117.8 174.7ZM136.3 176.2L133.9 177.3L134.1 174.7ZM152.5 176.1L150.1 177.3L150.3 174.7ZM168.6 176.0L166.2 177.2L166.3 174.6ZM184.6 175.8L182.3 177.0L182.4 174.4ZM200.7 175.6L198.4 176.9L198.4 174.3ZM216.7 175.4L214.4 176.7L214.4 174.1ZM232.7 175.3L230.4 176.6L230.4 174.0ZM248.7 175.1L246.4 176.5L246.3 173.9ZM264.6 175.0L262.3 176.4L262.2 173.8ZM280.5 175.0L278.3 176.4L278.2 173.8ZM296.4 174.9L294.2 176.3L294.1 173.7ZM312.4 174.9L310.1 176.3L310.0 173.7ZM328.3 174.9L326.1 176.3L325.9 173.7ZM344.2 175.0L342.0 176.4L341.9 173.8ZM360.2 175.0L358.0 176.4L357.9 173.8ZM376.2 175.1L374.0 176.5L373.9 173.9ZM392.2 175.2L389.9 176.5L389.8 173.9ZM56.0 178.8L53.7 180.1L53.8 177.5ZM72.0 178.9L69.6 180.1L69.7 177.5ZM87.9 179.0L85.6 180.2L85.7 177.6ZM103.9 179.1L101.6 180.3L101.7 177.7ZM120.0 179.2L117.7 180.3L117.8 177.7ZM136.3 179.2L133.9 180.3L134.0 177.7ZM152.5 179.1L150.1 180.3L150.2 177.7ZM168.6 178.9L166.2 180.1L166.3 177.6ZM184.6 178.8L182.3 180.0L182.4 177.4ZM200.7 178.6L198.4 179.9L198.4 177.3ZM216.7 178.4L214.4 179.7L214.4 177.1ZM232.7 178.3L230.4 179.6L230.4 177.0ZM248.7 178.2L246.4 179.5L246.3 176.9ZM264.6 178.1L262.3 179.4L262.2 176.8ZM280.5 178.0L278.3 179.4L278.2 176.8ZM296.4 177.9L294.2 179.4L294.1 176.8ZM312.4 177.9L310.1 179.3L310.0 176.7ZM328.3 177.9L326.1 179.3L326.0 176.8ZM344.2 178.0L342.0 179.4L341.9 176.8ZM360.2 178.0L358.0 179.4L357.9 176.8ZM376.2 178.1L374.0 179.5L373.9 176.9ZM392.2 178.2L389.9 179.5L389.8 176.9ZM56.0 181.8L53.7 183.1L53.8 180.5ZM72.0 181.9L69.7 183.1L69.7 180.5ZM87.9 182.0L85.6 183.2L85.7 180.6ZM104.0 182.1L101.6 183.2L101.7 180.6ZM120.1 182.1L117.7 183.3L117.8 180.7ZM136.2 182.1L133.9 183.3L134.0 180.7ZM152.4 182.0L150.1 183.2L150.2 180.6ZM168.5 181.9L166.2 183.1L166.3 180.5ZM184.6 181.7L182.3 183.0L182.3 180.4ZM200.7 181.6L198.3 182.9L198.4 180.3ZM216.7 181.4L214.4 182.7L214.4 180.1ZM232.7 181.3L230.4 182.6L230.3 180.0ZM248.6 181.2L246.4 182.5L246.3 179.9ZM264.6 181.1L262.3 182.5L262.2 179.9ZM280.5 181.0L278.3 182.4L278.2 179.8ZM296.4 181.0L294.2 182.4L294.1 179.8ZM312.4 181.0L310.1 182.4L310.0 179.8ZM328.3 181.0L326.1 182.4L326.0 179.8ZM344.2 181.0L342.0 182.4L341.9 179.8ZM360.2 181.0L358.0 182.4L357.9 179.8ZM376.2 181.1L374.0 182.5L373.9 179.9ZM392.2 181.2L389.9 182.5L389.9 180.0ZM56.0 184.8L53.7 186.1L53.8 183.5ZM72.0 184.9L69.7 186.1L69.8 183.5ZM88.0 185.0L85.6 186.2L85.7 183.6ZM104.0 185.0L101.6 186.2L101.7 183.6ZM120.1 185.1L117.7 186.3L117.8 183.7ZM136.2 185.1L133.9 186.3L134.0 183.7ZM152.4 185.0L150.1 186.2L150.2 183.6ZM168.5 184.9L166.2 186.1L166.3 183.5ZM184.6 184.7L182.3 186.0L182.3 183.4ZM200.6 184.6L198.3 185.9L198.3 183.3ZM216.7 184.4L214.4 185.7L214.4 183.1ZM232.6 184.3L230.4 185.6L230.3 183.0ZM248.6 184.2L246.4 185.5L246.3 182.9ZM264.6 184.1L262.3 185.5L262.2 182.9ZM280.5 184.0L278.3 185.4L278.2 182.8ZM296.4 184.0L294.2 185.4L294.1 182.8ZM312.4 184.0L310.1 185.4L310.0 182.8ZM328.3 184.0L326.1 185.4L326.0 182.8ZM344.2 184.0L342.0 185.4L341.9 182.8ZM360.2 184.1L358.0 185.4L357.9 182.8ZM376.2 184.1L374.0 185.5L373.9 182.9ZM392.2 184.2L389.9 185.6L389.9 183.0ZM56.0 187.8L53.7 189.0L53.8 186.4ZM72.0 187.9L69.7 189.1L69.8 186.5ZM88.0 188.0L85.6 189.2L85.7 186.6ZM104.0 188.0L101.6 189.2L101.8 186.6ZM120.1 188.1L117.7 189.2L117.9 186.6ZM136.2 188.0L133.9 189.2L134.0 186.6ZM152.4 188.0L150.0 189.2L150.2 186.6ZM168.5 187.9L166.2 189.1L166.3 186.5ZM184.6 187.7L182.2 189.0L182.3 186.4ZM200.6 187.6L198.3 188.9L198.3 186.3ZM216.6 187.4L214.3 188.8L214.3 186.2ZM232.6 187.3L230.3 188.7L230.3 186.1ZM248.6 187.2L246.4 188.6L246.3 186.0ZM264.6 187.1L262.3 188.5L262.2 185.9ZM280.5 187.1L278.3 188.4L278.2 185.8ZM296.4 187.0L294.2 188.4L294.1 185.8ZM312.4 187.0L310.1 188.4L310.0 185.8ZM328.3 187.0L326.1 188.4L326.0 185.8ZM344.2 187.0L342.0 188.4L341.9 185.8ZM360.2 187.1L358.0 188.5L357.9 185.9ZM376.3 187.1L374.0 188.5L373.9 185.9ZM392.2 187.2L389.9 188.6L389.9 186.0ZM56.1 190.8L53.7 192.0L53.8 189.4ZM72.0 190.9L69.7 192.1L69.8 189.5ZM88.0 190.9L85.6 192.1L85.8 189.6ZM104.0 191.0L101.6 192.2L101.8 189.6ZM120.1 191.0L117.7 192.2L117.9 189.6ZM136.2 191.0L133.9 192.2L134.0 189.6ZM152.4 191.0L150.0 192.2L150.1 189.6ZM168.5 190.9L166.2 192.1L166.2 189.5ZM184.5 190.7L182.2 192.0L182.3 189.4ZM200.6 190.6L198.3 191.9L198.3 189.3ZM216.6 190.4L214.3 191.8L214.3 189.2ZM232.6 190.3L230.3 191.7L230.3 189.1ZM248.6 190.2L246.3 191.6L246.3 189.0ZM264.5 190.1L262.3 191.5L262.2 188.9ZM280.5 190.1L278.3 191.5L278.2 188.9ZM296.4 190.0L294.2 191.4L294.1 188.8ZM312.4 190.0L310.1 191.4L310.0 188.8ZM328.3 190.0L326.1 191.4L326.0 188.8ZM344.2 190.0L342.0 191.4L341.9 188.8ZM360.2 190.1L358.0 191.5L357.9 188.9ZM376.3 190.1L374.0 191.5L373.9 188.9ZM392.2 190.2L389.9 191.6L389.9 189.0ZM56.1 193.8L53.7 195.0L53.8 192.4ZM72.1 193.9L69.7 195.1L69.8 192.5ZM88.0 193.9L85.7 195.1L85.8 192.5ZM104.0 194.0L101.7 195.2L101.8 192.6ZM120.1 194.0L117.8 195.2L117.9 192.6ZM136.2 194.0L133.9 195.2L134.0 192.6ZM152.4 193.9L150.0 195.1L150.1 192.5ZM168.5 193.8L166.2 195.1L166.2 192.5ZM184.5 193.7L182.2 195.0L182.3 192.4ZM200.6 193.6L198.3 194.9L198.3 192.3ZM216.6 193.5L214.3 194.8L214.3 192.2ZM232.6 193.3L230.3 194.7L230.3 192.1ZM248.6 193.2L246.3 194.6L246.3 192.0ZM264.5 193.2L262.3 194.5L262.2 191.9ZM280.5 193.1L278.2 194.5L278.1 191.9ZM296.4 193.1L294.2 194.4L294.1 191.8ZM312.4 193.0L310.1 194.4L310.0 191.8ZM328.3 193.0L326.1 194.4L326.0 191.8ZM344.2 193.1L342.0 194.4L341.9 191.9ZM360.2 193.1L358.0 194.5L357.9 191.9ZM376.2 193.1L374.0 194.5L373.9 191.9ZM392.2 193.2L389.9 194.6L389.9 192.0ZM56.1 196.8L53.7 198.0L53.8 195.4ZM72.1 196.9L69.7 198.1L69.8 195.5ZM88.0 196.9L85.7 198.1L85.8 195.5ZM104.1 197.0L101.7 198.2L101.8 195.6ZM120.1 197.0L117.8 198.2L117.9 195.6ZM136.2 197.0L133.9 198.2L134.0 195.6ZM152.4 196.9L150.0 198.1L150.1 195.5ZM168.5 196.8L166.2 198.1L166.2 195.5ZM184.5 196.7L182.2 198.0L182.3 195.4ZM200.6 196.6L198.3 197.9L198.3 195.3ZM216.6 196.5L214.3 197.8L214.3 195.2ZM232.6 196.3L230.3 197.7L230.3 195.1ZM248.6 196.2L246.3 197.6L246.3 195.0ZM264.5 196.2L262.3 197.5L262.2 194.9ZM280.5 196.1L278.2 197.5L278.1 194.9ZM296.4 196.1L294.2 197.4L294.1 194.9ZM312.4 196.0L310.1 197.4L310.0 194.8ZM328.3 196.0L326.1 197.4L326.0 194.8ZM344.2 196.1L342.0 197.5L341.9 194.9ZM360.2 196.1L358.0 197.5L357.9 194.9ZM376.2 196.2L374.0 197.5L373.9 194.9ZM392.2 196.2L389.9 197.6L389.9 195.0ZM56.1 199.8L53.8 201.0L53.8 198.4ZM72.1 199.9L69.8 201.1L69.8 198.5ZM88.1 199.9L85.7 201.1L85.8 198.5ZM104.1 199.9L101.7 201.2L101.9 198.6ZM120.2 200.0L117.8 201.2L117.9 198.6ZM136.3 199.9L133.9 201.2L134.0 198.6ZM152.4 199.9L150.0 201.1L150.1 198.5ZM168.5 199.8L166.2 201.0L166.2 198.4ZM184.5 199.7L182.2 201.0L182.2 198.4ZM200.6 199.6L198.3 200.9L198.3 198.3ZM216.6 199.5L214.3 200.8L214.3 198.2ZM232.6 199.4L230.3 200.7L230.3 198.1ZM248.6 199.3L246.3 200.6L246.2 198.0ZM264.5 199.2L262.2 200.5L262.2 197.9ZM280.5 199.1L278.2 200.5L278.1 197.9ZM296.4 199.1L294.2 200.5L294.1 197.9ZM312.3 199.1L310.1 200.5L310.0 197.9ZM328.3 199.1L326.1 200.5L326.0 197.9ZM344.2 199.1L342.0 200.5L341.9 197.9ZM360.2 199.1L358.0 200.5L357.9 197.9ZM376.2 199.2L374.0 200.5L373.9 197.9ZM392.2 199.2L389.9 200.6L389.9 198.0Z" fill="#000" fill-opacity="0.58"/>
<ellipse cx="111.5" cy="109" rx="6" ry="8.5" fill="#ff2000" filter="url(#b2)"/>
<path d="M367.2,100.6 367.1,100.6 366.8,100.6 366.4,100.5 365.7,100.4 364.8,100.3 363.8,100.2 362.6,100.0 361.2,99.8 359.6,99.6 357.8,99.4 355.8,99.2 353.7,98.9 351.4,98.6 348.9,98.3 346.3,98.0 343.5,97.7 340.6,97.3 337.5,97.0 334.3,96.6 330.9,96.2 327.4,95.9 323.7,95.5 320.0,95.1 316.1,94.7 312.1,94.3 308.0,93.9 303.8,93.5 299.5,93.1 295.1,92.7 290.6,92.3 286.1,91.9 281.5,91.6 276.8,91.2 272.1,90.8 267.4,90.5 262.6,90.2 257.7,89.8 252.9,89.5 248.0,89.3 243.2,89.0 238.3,88.7 233.4,88.5 228.6,88.3 223.7,88.2 218.9,88.0 214.2,87.9 209.4,87.8 204.8,87.8 200.1,87.8 195.6,87.8 191.1,87.8 186.7,87.9 182.4,88.0 178.2,88.2 174.0,88.4 170.0,88.6 166.1,88.9 162.3,89.2 158.6,89.6 155.1,90.0 151.7,90.4 148.4,90.9 145.2,91.4 142.2,91.9 139.4,92.5 136.7,93.1 134.1,93.7 131.7,94.4 129.5,95.1 127.4,95.8 125.5,96.6 123.7,97.4 122.1,98.3 120.6,99.3 119.2,100.3 118.0,101.4 117.0,102.7 116.2,104.2 115.7,105.8 115.5,107.5 115.7,109.3 116.3,110.9 117.1,112.3 118.2,113.6 119.4,114.7 120.8,115.7 122.3,116.6 123.9,117.5 125.7,118.2 127.7,119.0 129.8,119.7 132.0,120.3 134.4,120.9 137.0,121.5 139.7,122.0 142.6,122.6 145.6,123.0 148.8,123.4 152.1,123.8 155.5,124.2 159.0,124.5 162.7,124.8 166.5,125.0 170.5,125.2 174.5,125.3 178.6,125.4 182.8,125.5 187.2,125.5 191.6,125.5 196.0,125.4 200.6,125.3 205.2,125.2 209.9,125.1 214.6,124.9 219.4,124.6 224.2,124.4 229.0,124.1 233.8,123.8 238.7,123.5 243.6,123.1 248.4,122.7 253.3,122.3 258.1,121.9 262.9,121.5 267.7,121.0 272.5,120.6 277.2,120.1 281.8,119.6 286.4,119.2 290.9,118.7 295.4,118.2 299.8,117.7 304.1,117.2 308.2,116.7 312.3,116.2 316.3,115.7 320.2,115.2 323.9,114.7 327.6,114.3 331.1,113.8 334.4,113.3 337.7,112.9 340.8,112.5 343.7,112.1 346.5,111.7 349.1,111.3 351.5,110.9 353.8,110.6 356.0,110.3 357.9,110.0 359.7,109.7 361.3,109.5 362.7,109.3 363.9,109.1 364.9,108.9 365.8,108.8 366.5,108.7 366.9,108.6 367.2,108.6 367.3,108.6Z" fill="#009a00"/>
<path d="M366.7,104.6 366.6,104.6 366.3,104.5 365.8,104.5 365.2,104.4 364.3,104.3 363.3,104.1 362.1,104.0 360.6,103.8 359.0,103.6 357.3,103.4 355.3,103.1 353.2,102.9 350.9,102.6 348.5,102.3 345.8,102.0 343.1,101.6 340.1,101.3 337.0,101.0 333.8,100.6 330.4,100.2 326.9,99.8 323.3,99.5 319.5,99.1 315.7,98.7 311.7,98.3 307.6,97.9 303.4,97.5 299.1,97.1 294.7,96.7 290.3,96.3 285.8,95.9 281.2,95.5 276.5,95.2 271.8,94.8 267.1,94.5 262.3,94.1 257.5,93.8 252.7,93.5 247.8,93.2 242.9,93.0 238.1,92.7 233.2,92.5 228.4,92.3 223.6,92.2 218.8,92.0 214.1,91.9 209.4,91.8 204.7,91.8 200.1,91.8 195.6,91.8 191.2,91.8 186.8,91.9 182.5,92.0 178.3,92.2 174.3,92.4 170.3,92.6 166.4,92.9 162.7,93.2 159.0,93.6 155.5,94.0 152.2,94.4 149.0,94.8 145.9,95.3 143.0,95.8 140.2,96.4 137.6,97.0 135.1,97.6 132.9,98.2 130.8,98.9 128.8,99.6 127.1,100.3 125.5,101.0 124.1,101.8 122.9,102.6 121.8,103.3 121.0,104.1 120.3,105.0 119.9,105.8 119.6,106.6 119.5,107.5 119.6,108.4 119.9,109.2 120.4,110.0 121.1,110.8 121.9,111.6 123.0,112.4 124.2,113.1 125.6,113.8 127.2,114.5 129.0,115.2 131.0,115.8 133.1,116.5 135.4,117.0 137.8,117.6 140.5,118.1 143.2,118.6 146.2,119.1 149.3,119.5 152.5,119.9 155.9,120.2 159.4,120.5 163.0,120.8 166.7,121.0 170.6,121.2 174.6,121.3 178.7,121.4 182.9,121.5 187.2,121.5 191.5,121.5 196.0,121.4 200.5,121.3 205.1,121.2 209.7,121.1 214.4,120.9 219.2,120.6 223.9,120.4 228.7,120.1 233.6,119.8 238.4,119.5 243.3,119.1 248.1,118.7 252.9,118.3 257.8,117.9 262.6,117.5 267.3,117.1 272.1,116.6 276.8,116.1 281.4,115.7 286.0,115.2 290.5,114.7 294.9,114.2 299.3,113.7 303.6,113.2 307.8,112.7 311.9,112.2 315.8,111.7 319.7,111.2 323.4,110.8 327.1,110.3 330.6,109.8 333.9,109.4 337.1,108.9 340.2,108.5 343.1,108.1 345.9,107.7 348.5,107.3 351.0,107.0 353.3,106.6 355.4,106.3 357.3,106.0 359.1,105.8 360.7,105.5 362.1,105.3 363.3,105.1 364.3,105.0 365.2,104.8 365.8,104.7 366.3,104.7 366.6,104.6 366.7,104.6Z" fill="none" stroke="#b87818" stroke-width="1.3" stroke-opacity="0.9"/>
</g>
<rect x="40.5" y="31.5" width="345" height="171" fill="none" stroke="#8a8298" stroke-width="1"/>
<g stroke="#333" stroke-width="1">
<path d="M41 67.5h2.5M41 117.1h2.5M41 166.7h2.5M126.3 202v-2.5M249.7 202v-2.5M373.2 202v-2.5"/>
</g>
<g font-size="12" fill="#000" text-anchor="middle">
<text x="126.3" y="216">50</text><text x="249.7" y="216">100</text><text x="373.2" y="216">150</text>
</g>
<g font-size="12" fill="#000" text-anchor="end">
<text x="35.5" y="71.8">60</text><text x="35.5" y="121.4">40</text><text x="35.5" y="171">20</text>
</g>
<text x="213" y="236" font-size="14" font-weight="bold" text-anchor="middle">X (mm)</text>
<text transform="translate(11.5,116.3) rotate(-90)" font-size="14" font-weight="bold" text-anchor="middle">Y (mm)</text>
<rect x="174.6" y="0.8" width="207.4" height="11.8" fill="url(#cb)"/>
<text x="170.6" y="9.4" font-size="10" font-weight="bold" text-anchor="end">p [Pa]</text>
<g font-size="8.6" fill="#000" text-anchor="middle">
<text x="175.2" y="25.3">-30</text><text x="192.2" y="25.3">-25</text><text x="209.3" y="25.3">-20</text><text x="226.4" y="25.3">-15</text><text x="243.5" y="25.3">-10</text><text x="260.5" y="25.3">-5</text><text x="279.0" y="25.3">0</text><text x="296.1" y="25.3">5</text><text x="313.1" y="25.3">10</text><text x="330.2" y="25.3">15</text><text x="347.3" y="25.3">20</text><text x="364.4" y="25.3">25</text><text x="381.4" y="25.3">30</text>
</g>
</svg>
</body></html>
